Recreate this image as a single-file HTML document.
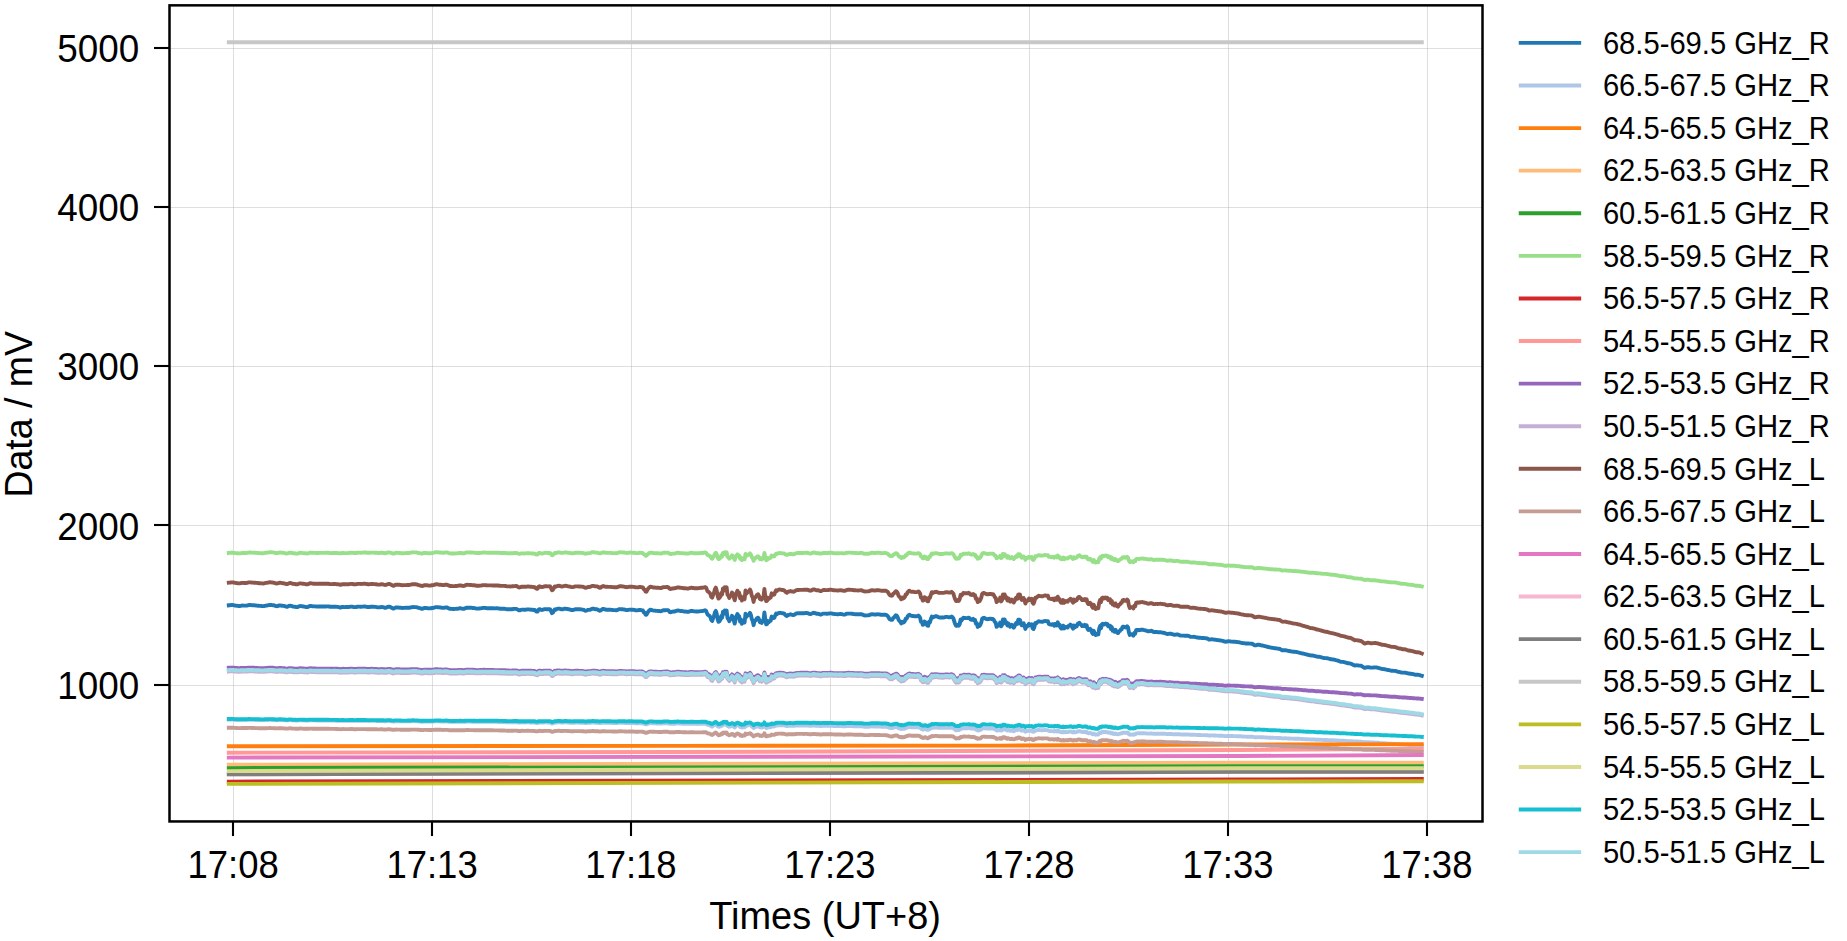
<!DOCTYPE html>
<html lang="en"><head><meta charset="utf-8"><title>Data / mV vs Times (UT+8)</title>
<style>html,body{margin:0;padding:0;background:#fff}body{width:1847px;height:941px;overflow:hidden}svg{display:block}text{font-family:"Liberation Sans",sans-serif;fill:#000}.t{font-size:38.20px}.l{font-size:31.50px}.d{fill:none;stroke-width:3.90;stroke-linejoin:round;stroke-linecap:square}</style></head><body>
<svg width="1847" height="941" viewBox="0 0 1847 941">
<rect width="1847" height="941" fill="#fff"/>
<g stroke="#b0b0b0" stroke-opacity="0.42" stroke-width="1.05" fill="none">
<line x1="233.50" y1="5.35" x2="233.50" y2="821.45"/>
<line x1="432.50" y1="5.35" x2="432.50" y2="821.45"/>
<line x1="631.50" y1="5.35" x2="631.50" y2="821.45"/>
<line x1="830.50" y1="5.35" x2="830.50" y2="821.45"/>
<line x1="1029.50" y1="5.35" x2="1029.50" y2="821.45"/>
<line x1="1228.50" y1="5.35" x2="1228.50" y2="821.45"/>
<line x1="1427.50" y1="5.35" x2="1427.50" y2="821.45"/>
<line x1="169.50" y1="685.50" x2="1482.50" y2="685.50"/>
<line x1="169.50" y1="525.50" x2="1482.50" y2="525.50"/>
<line x1="169.50" y1="366.50" x2="1482.50" y2="366.50"/>
<line x1="169.50" y1="207.50" x2="1482.50" y2="207.50"/>
<line x1="169.50" y1="48.50" x2="1482.50" y2="48.50"/>
</g>
<g class="d">
<path stroke="#1f77b4" d="M228.8,605.3 229.8,605.2 230.7,605.1 231.6,604.9 232.5,605.0 233.4,605.1 234.3,605.3 235.2,605.5 236.1,605.6 237.0,605.8 237.9,605.9 238.8,606.0 239.7,606.0 240.6,605.8 241.5,605.6 242.4,605.5 243.3,605.6 244.2,605.6 245.1,605.6 246.0,605.6 246.9,605.5 247.8,605.3 248.7,605.0 249.6,605.0 250.5,605.0 251.4,605.1 252.3,605.2 253.2,605.2 254.1,605.3 255.0,605.4 255.9,605.5 256.8,605.6 257.7,605.7 258.6,605.8 259.5,605.9 260.4,605.9 261.3,606.0 262.2,606.1 263.1,606.1 264.0,606.0 264.9,605.8 265.8,605.6 266.7,605.5 267.6,605.3 268.5,605.1 269.4,605.0 270.3,604.9 271.2,605.0 272.1,605.1 273.0,605.2 273.9,605.3 274.8,605.7 275.7,606.0 276.6,606.2 277.5,606.1 278.4,605.7 279.3,605.4 280.2,605.4 281.1,605.6 282.0,605.7 282.9,605.9 283.8,605.9 284.7,606.2 285.6,606.5 286.5,606.7 287.4,606.7 288.3,606.3 289.2,605.8 290.1,605.6 291.0,605.8 291.9,606.1 292.8,606.5 293.7,606.6 294.6,606.7 295.5,606.9 296.4,607.1 297.3,607.1 298.2,606.7 299.1,606.3 300.0,606.0 300.9,606.1 301.8,606.2 302.7,606.4 303.6,606.5 304.5,606.6 305.4,606.8 306.3,607.0 307.2,607.1 308.1,606.8 309.0,606.4 309.9,606.0 310.8,605.9 311.7,606.1 312.6,606.3 313.5,606.4 314.4,606.4 315.3,606.4 316.2,606.5 317.1,606.6 318.0,606.5 318.9,606.5 319.8,606.5 320.7,606.5 321.6,606.5 322.5,606.5 323.4,606.5 324.3,606.5 325.2,606.5 326.1,606.5 327.0,606.4 327.9,606.4 328.8,606.5 329.7,606.7 330.6,606.8 331.5,606.8 332.4,606.8 333.3,606.7 334.2,606.7 335.1,606.7 336.0,606.8 336.9,606.9 337.8,606.9 338.7,607.1 339.6,607.3 340.5,607.6 341.4,607.2 342.3,607.0 343.2,606.9 344.1,607.1 345.0,607.1 345.9,607.0 346.8,607.0 347.7,607.0 348.6,607.0 349.5,606.8 350.4,606.6 351.3,606.6 352.2,606.7 353.1,606.9 354.0,607.1 354.9,607.1 355.8,607.0 356.7,606.8 357.6,606.7 358.5,606.6 359.4,606.6 360.3,606.7 361.2,606.7 362.1,606.6 363.0,606.6 363.9,606.5 364.8,606.5 365.7,606.6 366.6,606.8 367.5,607.0 368.4,607.0 369.3,607.0 370.2,606.8 371.1,606.7 372.0,606.7 372.9,606.7 373.8,606.8 374.7,606.9 375.6,606.9 376.5,607.1 377.4,607.3 378.3,607.4 379.2,607.4 380.1,607.2 381.0,607.1 381.9,607.0 382.8,607.2 383.7,607.4 384.6,607.7 385.5,607.8 386.4,607.5 387.3,607.1 388.2,606.7 389.1,606.7 390.0,606.9 390.9,607.3 391.8,607.9 392.7,608.3 393.6,608.6 394.5,608.1 395.4,607.6 396.3,607.4 397.2,607.5 398.1,607.5 399.0,607.6 399.9,607.7 400.8,607.8 401.7,607.9 402.6,608.0 403.5,607.9 404.4,607.9 405.3,607.8 406.2,607.9 407.1,607.8 408.0,607.8 408.9,607.7 409.8,607.7 410.7,607.5 411.6,607.2 412.5,607.1 413.4,607.0 414.3,607.1 415.2,607.1 416.1,607.1 417.0,607.3 417.9,607.6 418.8,607.9 419.7,608.1 420.6,608.4 421.5,608.7 422.4,608.8 423.3,608.4 424.2,608.0 425.1,608.0 426.0,608.0 426.9,608.1 427.8,608.2 428.7,608.4 429.6,608.4 430.5,608.3 431.4,608.2 432.3,608.0 433.2,608.0 434.1,607.7 435.0,607.3 435.9,607.1 436.8,607.1 437.7,607.2 438.6,607.3 439.5,607.4 440.4,607.5 441.3,607.6 442.2,607.8 443.1,607.9 444.0,607.8 444.9,607.6 445.8,607.4 446.7,607.4 447.6,607.8 448.5,608.3 449.4,608.7 450.3,608.8 451.2,608.9 452.1,608.9 453.0,609.0 453.9,609.0 454.8,608.9 455.7,608.9 456.6,608.8 457.5,608.8 458.4,608.6 459.3,608.3 460.2,608.3 461.1,608.4 462.0,608.6 462.9,608.8 463.8,608.8 464.7,608.5 465.6,608.1 466.5,607.7 467.4,607.6 468.3,607.7 469.2,607.7 470.1,607.8 471.0,607.8 471.9,607.9 472.8,608.0 473.7,608.0 474.6,608.1 475.5,608.3 476.4,608.5 477.3,608.6 478.2,608.6 479.1,608.5 480.0,608.4 480.9,608.4 481.8,608.2 482.7,608.0 483.6,607.9 484.5,607.9 485.4,608.0 486.3,608.1 487.2,608.2 488.1,608.2 489.0,608.2 489.9,608.2 490.8,608.2 491.7,608.2 492.6,608.3 493.5,608.3 494.4,608.4 495.3,608.4 496.2,608.3 497.1,608.3 498.0,608.4 498.9,608.5 499.8,608.7 500.7,608.8 501.6,608.8 502.5,608.8 503.4,608.8 504.3,608.8 505.2,608.9 506.1,609.1 507.0,609.2 507.9,609.3 508.8,609.3 509.7,609.3 510.6,609.3 511.5,609.3 512.4,609.2 513.3,609.0 514.2,608.9 515.1,608.9 516.0,608.9 516.9,609.1 517.8,609.6 518.7,610.3 519.6,610.4 520.5,610.1 521.4,609.6 522.3,609.6 523.2,609.6 524.1,609.7 525.0,609.7 525.9,609.6 526.8,609.5 527.7,609.4 528.6,609.4 529.5,609.5 530.4,609.6 531.3,609.7 532.2,609.7 533.1,609.8 534.0,610.1 534.9,610.0 535.8,611.2 536.7,611.6 537.6,611.5 538.5,609.8 539.4,609.1 540.3,609.4 541.2,609.9 542.1,610.0 543.0,609.7 543.9,609.4 544.8,609.1 545.7,609.1 546.6,609.2 547.5,609.2 548.4,609.2 549.3,609.2 550.2,609.4 551.1,611.2 552.0,613.1 552.9,612.6 553.8,611.0 554.7,609.4 555.6,609.7 556.5,609.2 557.4,608.8 558.3,608.6 559.2,608.6 560.1,608.8 561.0,609.2 561.9,609.3 562.8,609.3 563.7,609.0 564.6,608.7 565.5,608.6 566.4,608.8 567.3,609.0 568.2,609.2 569.1,609.3 570.0,609.5 570.9,609.8 571.8,610.0 572.7,610.0 573.6,609.8 574.5,609.5 575.4,609.3 576.3,609.2 577.2,609.2 578.1,609.3 579.0,609.3 579.9,609.3 580.8,609.4 581.7,609.5 582.6,609.6 583.5,609.8 584.4,610.3 585.3,610.7 586.2,610.6 587.1,610.3 588.0,609.9 588.9,609.9 589.8,609.8 590.7,609.5 591.6,609.0 592.5,608.7 593.4,608.7 594.3,608.9 595.2,609.2 596.1,609.2 597.0,609.3 597.9,609.7 598.8,610.2 599.7,610.7 600.6,610.5 601.5,609.8 602.4,609.2 603.3,608.9 604.2,609.1 605.1,609.5 606.0,609.7 606.9,609.7 607.8,609.7 608.7,609.8 609.6,609.8 610.5,609.8 611.4,609.9 612.3,610.0 613.2,610.1 614.1,610.1 615.0,610.1 615.9,610.2 616.8,610.2 617.7,609.9 618.6,609.4 619.5,609.1 620.4,609.1 621.3,609.2 622.2,609.3 623.1,609.4 624.0,609.5 624.9,609.7 625.8,610.0 626.7,610.1 627.6,610.0 628.5,609.8 629.4,609.6 630.3,609.6 631.2,609.7 632.1,609.8 633.0,609.8 633.9,609.9 634.8,610.0 635.7,610.3 636.6,610.4 637.5,610.4 638.4,610.2 639.3,610.0 640.2,609.9 641.1,610.1 642.0,610.3 642.9,610.5 643.8,612.3 644.7,612.8 645.6,614.7 646.5,614.7 647.4,612.8 648.3,611.6 649.2,610.5 650.1,609.8 651.0,609.8 651.9,610.1 652.8,610.4 653.7,610.6 654.6,610.6 655.5,610.7 656.4,610.9 657.3,610.9 658.2,611.0 659.1,611.0 660.0,611.1 660.9,611.2 661.8,610.9 662.7,610.5 663.6,610.2 664.5,610.2 665.4,610.2 666.3,610.1 667.2,610.1 668.1,610.2 669.0,611.1 669.9,612.1 670.8,612.2 671.7,611.9 672.6,611.6 673.5,611.5 674.4,611.5 675.3,611.3 676.2,610.9 677.1,610.6 678.0,610.5 678.9,610.7 679.8,610.9 680.7,611.0 681.6,611.0 682.5,611.2 683.4,611.4 684.3,611.5 685.2,611.5 686.1,611.6 687.0,611.7 687.9,611.8 688.8,611.7 689.7,611.3 690.6,611.0 691.5,610.8 692.4,611.0 693.3,611.2 694.2,611.4 695.1,611.4 696.0,611.5 696.9,611.5 697.8,611.5 698.7,611.4 699.6,611.3 700.5,611.1 701.4,611.1 702.3,611.0 703.2,610.9 704.1,610.7 705.0,610.3 705.9,610.6 706.8,612.7 707.7,614.8 708.6,615.2 709.5,615.9 710.4,617.2 711.3,620.0 712.2,621.0 713.1,618.1 714.0,616.0 714.9,612.5 715.8,610.9 716.7,613.7 717.6,619.1 718.5,621.8 719.4,621.3 720.3,620.0 721.2,616.1 722.1,617.8 723.0,611.6 723.9,612.7 724.8,610.5 725.7,613.8 726.6,610.6 727.5,618.1 728.4,619.1 729.3,621.1 730.2,619.4 731.1,618.7 732.0,615.8 732.9,617.0 733.8,620.5 734.7,623.6 735.6,619.6 736.5,616.2 737.4,614.0 738.3,615.5 739.2,616.2 740.1,621.6 741.0,619.5 741.9,623.8 742.8,622.4 743.7,621.2 744.6,622.4 745.5,613.7 746.4,616.9 747.3,615.6 748.2,615.1 749.1,614.3 750.0,612.8 750.9,614.9 751.8,619.1 752.7,620.9 753.6,625.2 754.5,621.0 755.4,620.8 756.3,619.2 757.2,618.0 758.1,617.7 759.0,619.3 759.9,622.3 760.8,621.1 761.7,622.9 762.6,621.1 763.5,620.0 764.4,612.4 765.3,619.2 766.2,624.4 767.1,624.0 768.0,621.1 768.9,622.1 769.8,621.2 770.7,620.8 771.6,616.6 772.5,618.0 773.4,618.1 774.3,617.9 775.2,615.3 776.1,613.6 777.0,614.3 777.9,613.3 778.8,613.0 779.7,612.8 780.6,612.9 781.5,613.1 782.4,613.3 783.3,613.3 784.2,613.6 785.1,614.7 786.0,615.5 786.9,616.0 787.8,615.3 788.7,614.8 789.6,614.6 790.5,614.3 791.4,614.6 792.3,614.8 793.2,615.0 794.1,614.9 795.0,614.3 795.9,613.7 796.8,613.4 797.7,613.3 798.6,613.3 799.5,613.2 800.4,613.2 801.3,613.2 802.2,613.2 803.1,613.2 804.0,613.2 804.9,613.1 805.8,613.0 806.7,613.0 807.6,613.1 808.5,613.5 809.4,613.9 810.3,614.1 811.2,613.9 812.1,613.4 813.0,612.9 813.9,612.8 814.8,613.0 815.7,613.4 816.6,613.8 817.5,613.8 818.4,613.8 819.3,614.1 820.2,614.5 821.1,614.6 822.0,614.1 822.9,613.6 823.8,613.6 824.7,613.6 825.6,613.6 826.5,613.7 827.4,613.7 828.3,613.6 829.2,613.5 830.1,613.4 831.0,613.4 831.9,613.5 832.8,613.8 833.7,613.9 834.6,614.0 835.5,614.1 836.4,614.1 837.3,614.2 838.2,614.2 839.1,614.1 840.0,614.0 840.9,614.0 841.8,614.1 842.7,614.4 843.6,614.6 844.5,614.6 845.4,614.3 846.3,613.9 847.2,613.6 848.1,613.6 849.0,613.6 849.9,613.6 850.8,613.6 851.7,613.7 852.6,613.8 853.5,614.0 854.4,614.1 855.3,614.2 856.2,614.2 857.1,614.3 858.0,614.4 858.9,614.3 859.8,614.3 860.7,614.2 861.6,614.2 862.5,614.6 863.4,615.0 864.3,615.4 865.2,615.5 866.1,615.4 867.0,615.4 867.9,615.4 868.8,615.3 869.7,614.9 870.6,614.5 871.5,614.3 872.4,614.3 873.3,614.4 874.2,614.5 875.1,614.5 876.0,614.5 876.9,614.4 877.8,614.3 878.7,614.4 879.6,614.5 880.5,614.7 881.4,614.8 882.3,614.9 883.2,614.8 884.1,614.8 885.0,614.8 885.9,614.9 886.8,615.3 887.7,616.0 888.6,617.4 889.5,619.1 890.4,619.6 891.3,619.8 892.2,619.8 893.1,618.0 894.0,617.6 894.9,616.3 895.8,615.3 896.7,615.6 897.6,617.0 898.5,619.7 899.4,621.0 900.3,621.6 901.2,623.4 902.1,621.7 903.0,622.6 903.9,622.2 904.8,621.2 905.7,618.7 906.6,618.7 907.5,616.7 908.4,615.4 909.3,614.8 910.2,615.3 911.1,615.7 912.0,616.0 912.9,616.0 913.8,616.1 914.7,616.3 915.6,616.3 916.5,616.3 917.4,616.1 918.3,615.6 919.2,616.3 920.1,617.7 921.0,621.7 921.9,622.0 922.8,624.8 923.7,624.5 924.6,621.5 925.5,622.2 926.4,624.1 927.3,625.6 928.2,625.7 929.1,621.8 930.0,622.2 930.9,619.0 931.8,616.6 932.7,617.5 933.6,617.0 934.5,616.6 935.4,616.3 936.3,616.2 937.2,616.5 938.1,617.0 939.0,617.4 939.9,617.5 940.8,617.5 941.7,617.5 942.6,617.5 943.5,617.5 944.4,617.3 945.3,617.0 946.2,616.9 947.1,616.9 948.0,617.1 948.9,617.2 949.8,617.2 950.7,617.1 951.6,616.5 952.5,617.3 953.4,618.4 954.3,621.5 955.2,624.1 956.1,625.7 957.0,625.7 957.9,624.8 958.8,625.7 959.7,624.0 960.6,619.5 961.5,620.5 962.4,619.2 963.3,617.8 964.2,617.9 965.1,618.0 966.0,618.1 966.9,618.1 967.8,618.0 968.7,617.6 969.6,618.1 970.5,619.4 971.4,619.8 972.3,619.7 973.2,618.8 974.1,620.2 975.0,620.0 975.9,623.5 976.8,623.2 977.7,626.9 978.6,625.2 979.5,626.0 980.4,624.6 981.3,622.4 982.2,618.6 983.1,618.0 984.0,617.8 984.9,618.2 985.8,618.7 986.7,619.1 987.6,619.2 988.5,619.0 989.4,618.8 990.3,618.8 991.2,618.8 992.1,619.1 993.0,619.0 993.9,620.0 994.8,622.0 995.7,622.6 996.6,626.8 997.5,625.6 998.4,625.5 999.3,625.0 1000.2,622.5 1001.1,626.3 1002.0,625.1 1002.9,619.5 1003.8,619.6 1004.7,619.5 1005.6,623.2 1006.5,622.3 1007.4,625.6 1008.3,623.4 1009.2,624.5 1010.1,626.7 1011.0,626.3 1011.9,624.8 1012.8,626.2 1013.7,627.7 1014.6,626.2 1015.5,623.9 1016.4,622.7 1017.3,624.0 1018.2,619.8 1019.1,619.7 1020.0,620.0 1020.9,624.0 1021.8,625.3 1022.7,623.7 1023.6,623.3 1024.5,625.5 1025.4,628.9 1026.3,626.0 1027.2,626.4 1028.1,625.3 1029.0,623.8 1029.9,625.3 1030.8,625.0 1031.7,624.2 1032.6,628.3 1033.5,629.0 1034.4,626.9 1035.3,623.0 1036.2,623.4 1037.1,622.4 1038.0,621.6 1038.9,621.1 1039.8,621.6 1040.7,621.6 1041.6,621.8 1042.5,621.8 1043.4,621.5 1044.3,621.1 1045.2,621.0 1046.1,621.1 1047.0,621.2 1047.9,621.2 1048.8,624.0 1049.7,624.3 1050.6,624.5 1051.5,624.7 1052.4,624.3 1053.3,624.3 1054.2,625.8 1055.1,624.0 1056.0,623.9 1056.9,625.4 1057.8,622.3 1058.7,625.5 1059.6,624.8 1060.5,627.7 1061.4,628.6 1062.3,628.3 1063.2,625.7 1064.1,628.5 1065.0,627.8 1065.9,626.9 1066.8,627.3 1067.7,627.5 1068.6,625.9 1069.5,625.7 1070.4,624.6 1071.3,625.1 1072.2,627.3 1073.1,628.6 1074.0,625.5 1074.9,627.2 1075.8,626.6 1076.7,626.3 1077.6,624.0 1078.5,623.2 1079.4,622.8 1080.3,624.1 1081.2,624.8 1082.1,626.0 1083.0,625.5 1083.9,625.9 1084.8,624.9 1085.7,626.2 1086.6,625.2 1087.5,628.8 1088.4,630.0 1089.3,629.7 1090.2,628.8 1091.1,630.1 1092.0,632.5 1092.9,633.9 1093.8,630.8 1094.7,633.4 1095.6,635.0 1096.5,634.1 1097.4,634.5 1098.3,634.4 1099.2,628.7 1100.1,626.1 1101.0,628.2 1101.9,624.3 1102.8,623.7 1103.7,624.6 1104.6,624.1 1105.5,623.5 1106.4,624.5 1107.3,624.0 1108.2,626.2 1109.1,625.6 1110.0,625.6 1110.9,629.0 1111.8,627.1 1112.7,630.7 1113.6,629.7 1114.5,631.7 1115.4,629.7 1116.3,631.4 1117.2,632.7 1118.1,633.1 1119.0,631.4 1119.9,631.0 1120.8,629.6 1121.7,629.2 1122.6,626.9 1123.5,626.6 1124.4,626.8 1125.3,627.5 1126.2,627.2 1127.1,626.2 1128.0,627.4 1128.9,632.4 1129.8,635.0 1130.7,634.0 1131.6,634.5 1132.5,634.3 1133.4,635.6 1134.3,633.0 1135.2,633.6 1136.1,630.2 1137.0,629.9 1137.9,629.9 1138.8,630.2 1139.7,630.1 1140.6,629.7 1141.5,629.7 1142.4,629.6 1143.3,629.9 1144.2,630.1 1145.1,630.4 1146.0,630.5 1146.9,630.9 1147.8,631.2 1148.7,631.3 1149.6,631.1 1150.5,630.9 1151.4,630.8 1152.3,631.3 1153.2,631.8 1154.1,632.0 1155.0,632.0 1155.9,632.0 1156.8,632.0 1157.7,632.2 1158.6,632.2 1159.5,632.2 1160.4,632.3 1161.3,632.4 1162.2,632.6 1163.1,632.7 1164.0,632.8 1164.9,633.1 1165.8,633.5 1166.7,633.8 1167.6,634.0 1168.5,633.9 1169.4,633.7 1170.3,633.6 1171.2,633.7 1172.1,634.1 1173.0,634.4 1173.9,634.7 1174.8,634.7 1175.7,634.6 1176.6,634.5 1177.5,634.5 1178.4,634.7 1179.3,635.1 1180.2,635.5 1181.1,635.6 1182.0,635.6 1182.9,635.6 1183.8,635.6 1184.7,635.7 1185.6,635.7 1186.5,635.7 1187.4,635.7 1188.3,635.9 1189.2,636.2 1190.1,636.6 1191.0,636.9 1191.9,636.9 1192.8,636.9 1193.7,636.8 1194.6,636.9 1195.5,637.1 1196.4,637.3 1197.3,637.5 1198.2,637.7 1199.1,637.7 1200.0,637.8 1200.9,637.9 1201.8,638.0 1202.7,638.0 1203.6,638.0 1204.5,638.1 1205.4,638.2 1206.3,638.3 1207.2,638.5 1208.1,639.0 1209.0,639.6 1209.9,639.5 1210.8,639.4 1211.7,639.3 1212.6,639.4 1213.5,639.5 1214.4,639.6 1215.3,639.7 1216.2,639.9 1217.1,640.0 1218.0,640.1 1218.9,640.2 1219.8,640.4 1220.7,640.5 1221.6,640.6 1222.5,640.8 1223.4,641.1 1224.3,641.5 1225.2,641.7 1226.1,641.7 1227.0,641.5 1227.9,641.3 1228.8,641.3 1229.7,641.4 1230.6,641.5 1231.5,641.6 1232.4,641.6 1233.3,641.7 1234.2,641.7 1235.1,641.8 1236.0,641.9 1236.9,642.0 1237.8,642.1 1238.7,642.2 1239.6,642.4 1240.5,642.6 1241.4,642.8 1242.3,643.0 1243.2,643.1 1244.1,643.2 1245.0,643.4 1245.9,643.5 1246.8,643.5 1247.7,643.5 1248.6,643.5 1249.5,643.6 1250.4,643.6 1251.3,643.7 1252.2,643.8 1253.1,644.3 1254.0,645.0 1254.9,645.4 1255.8,645.3 1256.7,645.0 1257.6,644.8 1258.5,644.7 1259.4,644.8 1260.3,645.0 1261.2,645.3 1262.1,645.5 1263.0,645.7 1263.9,645.9 1264.8,646.1 1265.7,646.3 1266.6,646.5 1267.5,646.8 1268.4,647.0 1269.3,647.3 1270.2,647.4 1271.1,647.6 1272.0,647.8 1272.9,647.9 1273.8,648.1 1274.7,648.2 1275.6,648.3 1276.5,648.4 1277.4,648.6 1278.3,648.7 1279.2,648.8 1280.1,649.0 1281.0,649.6 1281.9,650.2 1282.8,650.3 1283.7,650.3 1284.6,650.2 1285.5,650.3 1286.4,650.4 1287.3,650.6 1288.2,650.8 1289.1,651.0 1290.0,651.2 1290.9,651.3 1291.8,651.5 1292.7,651.6 1293.6,651.8 1294.5,651.8 1295.4,651.9 1296.3,652.0 1297.2,652.2 1298.1,652.4 1299.0,652.7 1299.9,652.9 1300.8,653.1 1301.7,653.3 1302.6,653.5 1303.5,653.7 1304.4,653.9 1305.3,654.1 1306.2,654.3 1307.1,654.5 1308.0,654.8 1308.9,655.0 1309.8,655.3 1310.7,655.4 1311.6,655.5 1312.5,655.5 1313.4,655.6 1314.3,655.8 1315.2,656.1 1316.1,656.3 1317.0,656.6 1317.9,656.7 1318.8,656.8 1319.7,656.9 1320.6,657.1 1321.5,657.3 1322.4,657.6 1323.3,657.8 1324.2,658.0 1325.1,658.1 1326.0,658.1 1326.9,658.2 1327.8,658.4 1328.7,658.7 1329.6,658.9 1330.5,659.2 1331.4,659.3 1332.3,659.4 1333.2,659.5 1334.1,659.7 1335.0,659.9 1335.9,660.2 1336.8,660.4 1337.7,660.6 1338.6,660.9 1339.5,661.3 1340.4,661.6 1341.3,661.8 1342.2,661.9 1343.1,661.9 1344.0,662.1 1344.9,662.3 1345.8,662.6 1346.7,662.9 1347.6,663.2 1348.5,663.3 1349.4,663.4 1350.3,663.5 1351.2,663.8 1352.1,664.2 1353.0,664.7 1353.9,665.1 1354.8,665.5 1355.7,665.4 1356.6,665.3 1357.5,665.4 1358.4,665.5 1359.3,665.6 1360.2,665.6 1361.1,665.7 1362.0,666.3 1362.9,666.9 1363.8,667.5 1364.7,667.9 1365.6,667.7 1366.5,667.4 1367.4,667.2 1368.3,667.2 1369.2,667.3 1370.1,667.5 1371.0,667.6 1371.9,667.6 1372.8,667.6 1373.7,667.5 1374.6,667.4 1375.5,667.4 1376.4,667.5 1377.3,667.7 1378.2,667.9 1379.1,668.1 1380.0,668.4 1380.9,668.7 1381.8,668.9 1382.7,669.0 1383.6,669.1 1384.5,669.2 1385.4,669.4 1386.3,669.6 1387.2,669.8 1388.1,670.0 1389.0,670.2 1389.9,670.4 1390.8,670.6 1391.7,670.8 1392.6,670.8 1393.5,670.9 1394.4,670.9 1395.3,670.9 1396.2,671.2 1397.1,671.5 1398.0,671.8 1398.9,671.9 1399.8,672.1 1400.7,672.3 1401.6,672.5 1402.5,672.6 1403.4,672.6 1404.3,672.6 1405.2,672.7 1406.1,672.9 1407.0,673.1 1407.9,673.4 1408.8,673.5 1409.7,673.7 1410.6,673.8 1411.5,673.8 1412.4,674.0 1413.3,674.2 1414.2,674.5 1415.1,674.7 1416.0,674.8 1416.9,674.8 1417.8,674.8 1418.7,674.9 1419.6,675.1 1420.5,675.4 1421.8,675.8"/>
<path stroke="#aec7e8" d="M228.8,719.6 229.8,719.6 230.7,719.6 231.6,719.5 232.5,719.6 233.4,719.6 234.3,719.7 235.2,719.7 236.1,719.8 237.0,719.8 237.9,719.9 238.8,719.9 239.7,719.9 240.6,719.9 241.5,719.8 242.4,719.8 243.3,719.8 244.2,719.8 245.1,719.8 246.0,719.8 246.9,719.8 247.8,719.7 248.7,719.7 249.6,719.7 250.5,719.7 251.4,719.7 252.3,719.7 253.2,719.7 254.1,719.8 255.0,719.8 255.9,719.9 256.8,719.9 257.7,719.9 258.6,719.9 259.5,720.0 260.4,720.0 261.3,720.0 262.2,720.1 263.1,720.1 264.0,720.0 264.9,720.0 265.8,719.9 266.7,719.9 267.6,719.9 268.5,719.8 269.4,719.7 270.3,719.7 271.2,719.8 272.1,719.8 273.0,719.8 273.9,719.9 274.8,720.0 275.7,720.1 276.6,720.2 277.5,720.1 278.4,720.0 279.3,719.9 280.2,719.9 281.1,720.0 282.0,720.1 282.9,720.1 283.8,720.1 284.7,720.2 285.6,720.3 286.5,720.4 287.4,720.4 288.3,720.2 289.2,720.1 290.1,720.1 291.0,720.1 291.9,720.2 292.8,720.3 293.7,720.4 294.6,720.4 295.5,720.5 296.4,720.5 297.3,720.5 298.2,720.4 299.1,720.3 300.0,720.2 300.9,720.3 301.8,720.3 302.7,720.4 303.6,720.4 304.5,720.4 305.4,720.5 306.3,720.6 307.2,720.6 308.1,720.5 309.0,720.4 309.9,720.3 310.8,720.3 311.7,720.3 312.6,720.4 313.5,720.4 314.4,720.4 315.3,720.4 316.2,720.5 317.1,720.5 318.0,720.5 318.9,720.5 319.8,720.5 320.7,720.5 321.6,720.5 322.5,720.5 323.4,720.5 324.3,720.5 325.2,720.5 326.1,720.5 327.0,720.5 327.9,720.5 328.8,720.5 329.7,720.6 330.6,720.6 331.5,720.6 332.4,720.6 333.3,720.6 334.2,720.6 335.1,720.6 336.0,720.7 336.9,720.7 337.8,720.7 338.7,720.7 339.6,720.8 340.5,720.9 341.4,720.8 342.3,720.7 343.2,720.7 344.1,720.8 345.0,720.8 345.9,720.8 346.8,720.8 347.7,720.8 348.6,720.8 349.5,720.7 350.4,720.7 351.3,720.7 352.2,720.7 353.1,720.8 354.0,720.8 354.9,720.9 355.8,720.8 356.7,720.8 357.6,720.7 358.5,720.7 359.4,720.7 360.3,720.7 361.2,720.8 362.1,720.7 363.0,720.7 363.9,720.7 364.8,720.7 365.7,720.7 366.6,720.8 367.5,720.9 368.4,720.9 369.3,720.9 370.2,720.8 371.1,720.8 372.0,720.8 372.9,720.8 373.8,720.9 374.7,720.9 375.6,720.9 376.5,721.0 377.4,721.0 378.3,721.1 379.2,721.1 380.1,721.0 381.0,721.0 381.9,721.0 382.8,721.0 383.7,721.1 384.6,721.2 385.5,721.2 386.4,721.1 387.3,721.0 388.2,720.9 389.1,720.9 390.0,721.0 390.9,721.1 391.8,721.3 392.7,721.4 393.6,721.5 394.5,721.3 395.4,721.2 396.3,721.2 397.2,721.2 398.1,721.2 399.0,721.2 399.9,721.3 400.8,721.3 401.7,721.3 402.6,721.4 403.5,721.4 404.4,721.3 405.3,721.3 406.2,721.3 407.1,721.3 408.0,721.3 408.9,721.3 409.8,721.3 410.7,721.2 411.6,721.2 412.5,721.1 413.4,721.1 414.3,721.1 415.2,721.2 416.1,721.2 417.0,721.2 417.9,721.3 418.8,721.4 419.7,721.5 420.6,721.6 421.5,721.7 422.4,721.7 423.3,721.6 424.2,721.5 425.1,721.5 426.0,721.5 426.9,721.5 427.8,721.6 428.7,721.6 429.6,721.6 430.5,721.6 431.4,721.6 432.3,721.5 433.2,721.5 434.1,721.4 435.0,721.3 435.9,721.3 436.8,721.3 437.7,721.3 438.6,721.4 439.5,721.4 440.4,721.4 441.3,721.5 442.2,721.5 443.1,721.5 444.0,721.5 444.9,721.5 445.8,721.4 446.7,721.4 447.6,721.5 448.5,721.7 449.4,721.8 450.3,721.9 451.2,721.9 452.1,721.9 453.0,721.9 453.9,721.9 454.8,721.9 455.7,721.9 456.6,721.9 457.5,721.9 458.4,721.8 459.3,721.8 460.2,721.7 461.1,721.8 462.0,721.8 462.9,721.9 463.8,721.9 464.7,721.8 465.6,721.7 466.5,721.6 467.4,721.6 468.3,721.6 469.2,721.6 470.1,721.6 471.0,721.6 471.9,721.7 472.8,721.7 473.7,721.7 474.6,721.8 475.5,721.8 476.4,721.9 477.3,721.9 478.2,721.9 479.1,721.9 480.0,721.9 480.9,721.9 481.8,721.8 482.7,721.8 483.6,721.7 484.5,721.8 485.4,721.8 486.3,721.8 487.2,721.9 488.1,721.9 489.0,721.9 489.9,721.9 490.8,721.9 491.7,721.9 492.6,721.9 493.5,721.9 494.4,721.9 495.3,721.9 496.2,721.9 497.1,721.9 498.0,722.0 498.9,722.0 499.8,722.1 500.7,722.1 501.6,722.1 502.5,722.1 503.4,722.1 504.3,722.1 505.2,722.1 506.1,722.2 507.0,722.3 507.9,722.3 508.8,722.3 509.7,722.3 510.6,722.3 511.5,722.3 512.4,722.3 513.3,722.2 514.2,722.2 515.1,722.2 516.0,722.2 516.9,722.2 517.8,722.4 518.7,722.6 519.6,722.6 520.5,722.5 521.4,722.4 522.3,722.4 523.2,722.4 524.1,722.5 525.0,722.5 525.9,722.4 526.8,722.4 527.7,722.4 528.6,722.4 529.5,722.4 530.4,722.5 531.3,722.5 532.2,722.5 533.1,722.6 534.0,722.6 534.9,722.6 535.8,722.9 536.7,723.0 537.6,723.0 538.5,722.5 539.4,722.4 540.3,722.5 541.2,722.6 542.1,722.6 543.0,722.6 543.9,722.5 544.8,722.4 545.7,722.4 546.6,722.4 547.5,722.5 548.4,722.5 549.3,722.5 550.2,722.5 551.1,723.0 552.0,723.5 552.9,723.4 553.8,723.0 554.7,722.5 555.6,722.6 556.5,722.5 557.4,722.4 558.3,722.3 559.2,722.3 560.1,722.4 561.0,722.5 561.9,722.6 562.8,722.5 563.7,722.5 564.6,722.4 565.5,722.4 566.4,722.4 567.3,722.5 568.2,722.6 569.1,722.6 570.0,722.7 570.9,722.7 571.8,722.8 572.7,722.8 573.6,722.8 574.5,722.7 575.4,722.6 576.3,722.6 577.2,722.6 578.1,722.6 579.0,722.6 579.9,722.7 580.8,722.7 581.7,722.7 582.6,722.7 583.5,722.8 584.4,722.9 585.3,723.1 586.2,723.0 587.1,723.0 588.0,722.9 588.9,722.9 589.8,722.8 590.7,722.7 591.6,722.6 592.5,722.5 593.4,722.5 594.3,722.6 595.2,722.7 596.1,722.7 597.0,722.7 597.9,722.8 598.8,723.0 599.7,723.1 600.6,723.0 601.5,722.9 602.4,722.7 603.3,722.6 604.2,722.7 605.1,722.8 606.0,722.9 606.9,722.9 607.8,722.9 608.7,722.9 609.6,722.9 610.5,722.9 611.4,723.0 612.3,723.0 613.2,723.0 614.1,723.0 615.0,723.1 615.9,723.1 616.8,723.1 617.7,723.0 618.6,722.9 619.5,722.8 620.4,722.8 621.3,722.8 622.2,722.8 623.1,722.9 624.0,722.9 624.9,723.0 625.8,723.1 626.7,723.1 627.6,723.1 628.5,723.0 629.4,723.0 630.3,723.0 631.2,723.0 632.1,723.0 633.0,723.1 633.9,723.1 634.8,723.1 635.7,723.2 636.6,723.2 637.5,723.2 638.4,723.2 639.3,723.1 640.2,723.1 641.1,723.2 642.0,723.2 642.9,723.3 643.8,723.8 644.7,723.9 645.6,724.4 646.5,724.4 647.4,723.9 648.3,723.6 649.2,723.3 650.1,723.1 651.0,723.1 651.9,723.2 652.8,723.3 653.7,723.4 654.6,723.4 655.5,723.4 656.4,723.5 657.3,723.5 658.2,723.5 659.1,723.5 660.0,723.6 660.9,723.6 661.8,723.5 662.7,723.4 663.6,723.3 664.5,723.3 665.4,723.3 666.3,723.3 667.2,723.3 668.1,723.3 669.0,723.6 669.9,723.8 670.8,723.9 671.7,723.8 672.6,723.7 673.5,723.7 674.4,723.7 675.3,723.7 676.2,723.5 677.1,723.4 678.0,723.4 678.9,723.5 679.8,723.5 680.7,723.6 681.6,723.6 682.5,723.7 683.4,723.7 684.3,723.8 685.2,723.8 686.1,723.8 687.0,723.9 687.9,723.9 688.8,723.9 689.7,723.8 690.6,723.7 691.5,723.7 692.4,723.7 693.3,723.8 694.2,723.9 695.1,723.9 696.0,723.9 696.9,723.9 697.8,724.0 698.7,723.9 699.6,723.9 700.5,723.9 701.4,723.9 702.3,723.9 703.2,723.8 704.1,723.8 705.0,723.7 705.9,723.8 706.8,724.4 707.7,724.9 708.6,725.0 709.5,725.2 710.4,725.6 711.3,726.3 712.2,726.6 713.1,725.8 714.0,725.3 714.9,724.4 715.8,724.0 716.7,724.7 717.6,726.1 718.5,726.8 719.4,726.7 720.3,726.4 721.2,725.4 722.1,725.8 723.0,724.2 723.9,724.5 724.8,724.0 725.7,724.8 726.6,724.0 727.5,726.0 728.4,726.2 729.3,726.8 730.2,726.3 731.1,726.2 732.0,725.4 732.9,725.7 733.8,726.7 734.7,727.5 735.6,726.4 736.5,725.6 737.4,725.0 738.3,725.4 739.2,725.6 740.1,727.0 741.0,726.5 741.9,727.6 742.8,727.3 743.7,727.0 744.6,727.3 745.5,725.0 746.4,725.9 747.3,725.5 748.2,725.4 749.1,725.2 750.0,724.8 750.9,725.4 751.8,726.5 752.7,727.0 753.6,728.1 754.5,727.0 755.4,727.0 756.3,726.6 757.2,726.3 758.1,726.2 759.0,726.6 759.9,727.4 760.8,727.1 761.7,727.6 762.6,727.2 763.5,726.9 764.4,724.9 765.3,726.7 766.2,728.0 767.1,727.9 768.0,727.2 768.9,727.4 769.8,727.2 770.7,727.1 771.6,726.1 772.5,726.4 773.4,726.5 774.3,726.4 775.2,725.8 776.1,725.4 777.0,725.5 777.9,725.3 778.8,725.2 779.7,725.1 780.6,725.2 781.5,725.2 782.4,725.3 783.3,725.3 784.2,725.4 785.1,725.7 786.0,725.9 786.9,726.1 787.8,725.9 788.7,725.8 789.6,725.7 790.5,725.7 791.4,725.8 792.3,725.8 793.2,725.9 794.1,725.9 795.0,725.7 795.9,725.5 796.8,725.5 797.7,725.4 798.6,725.5 799.5,725.5 800.4,725.5 801.3,725.5 802.2,725.5 803.1,725.5 804.0,725.5 804.9,725.5 805.8,725.5 806.7,725.5 807.6,725.5 808.5,725.6 809.4,725.8 810.3,725.8 811.2,725.8 812.1,725.6 813.0,725.5 813.9,725.5 814.8,725.6 815.7,725.7 816.6,725.8 817.5,725.8 818.4,725.8 819.3,725.9 820.2,726.0 821.1,726.0 822.0,725.9 822.9,725.8 823.8,725.8 824.7,725.8 825.6,725.8 826.5,725.8 827.4,725.9 828.3,725.8 829.2,725.8 830.1,725.8 831.0,725.8 831.9,725.8 832.8,725.9 833.7,726.0 834.6,726.0 835.5,726.0 836.4,726.1 837.3,726.1 838.2,726.1 839.1,726.1 840.0,726.1 840.9,726.1 841.8,726.1 842.7,726.2 843.6,726.3 844.5,726.3 845.4,726.2 846.3,726.1 847.2,726.0 848.1,726.0 849.0,726.0 849.9,726.0 850.8,726.0 851.7,726.1 852.6,726.1 853.5,726.2 854.4,726.2 855.3,726.2 856.2,726.3 857.1,726.3 858.0,726.3 858.9,726.3 859.8,726.3 860.7,726.3 861.6,726.3 862.5,726.4 863.4,726.6 864.3,726.7 865.2,726.7 866.1,726.7 867.0,726.7 867.9,726.7 868.8,726.7 869.7,726.6 870.6,726.5 871.5,726.4 872.4,726.4 873.3,726.5 874.2,726.5 875.1,726.5 876.0,726.5 876.9,726.5 877.8,726.5 878.7,726.5 879.6,726.6 880.5,726.6 881.4,726.7 882.3,726.7 883.2,726.7 884.1,726.7 885.0,726.7 885.9,726.7 886.8,726.8 887.7,727.0 888.6,727.4 889.5,727.9 890.4,728.0 891.3,728.1 892.2,728.1 893.1,727.6 894.0,727.5 894.9,727.2 895.8,726.9 896.7,727.0 897.6,727.4 898.5,728.1 899.4,728.5 900.3,728.6 901.2,729.1 902.1,728.6 903.0,728.9 903.9,728.8 904.8,728.6 905.7,727.9 906.6,727.9 907.5,727.4 908.4,727.0 909.3,726.9 910.2,727.0 911.1,727.2 912.0,727.2 912.9,727.3 913.8,727.3 914.7,727.4 915.6,727.4 916.5,727.4 917.4,727.3 918.3,727.2 919.2,727.4 920.1,727.8 921.0,728.8 921.9,728.9 922.8,729.6 923.7,729.5 924.6,728.8 925.5,729.0 926.4,729.5 927.3,729.9 928.2,729.9 929.1,728.9 930.0,729.0 930.9,728.2 931.8,727.6 932.7,727.8 933.6,727.7 934.5,727.6 935.4,727.5 936.3,727.5 937.2,727.6 938.1,727.7 939.0,727.8 939.9,727.9 940.8,727.9 941.7,727.9 942.6,727.9 943.5,727.9 944.4,727.9 945.3,727.8 946.2,727.7 947.1,727.8 948.0,727.8 948.9,727.9 949.8,727.9 950.7,727.8 951.6,727.7 952.5,727.9 953.4,728.2 954.3,729.0 955.2,729.7 956.1,730.2 957.0,730.2 957.9,729.9 958.8,730.1 959.7,729.7 960.6,728.5 961.5,728.8 962.4,728.5 963.3,728.1 964.2,728.1 965.1,728.2 966.0,728.2 966.9,728.2 967.8,728.2 968.7,728.0 969.6,728.2 970.5,728.5 971.4,728.6 972.3,728.6 973.2,728.4 974.1,728.7 975.0,728.7 975.9,729.6 976.8,729.5 977.7,730.5 978.6,730.1 979.5,730.3 980.4,729.9 981.3,729.3 982.2,728.3 983.1,728.2 984.0,728.1 984.9,728.3 985.8,728.4 986.7,728.5 987.6,728.6 988.5,728.5 989.4,728.5 990.3,728.5 991.2,728.5 992.1,728.6 993.0,728.5 993.9,728.8 994.8,729.3 995.7,729.5 996.6,730.6 997.5,730.3 998.4,730.3 999.3,730.2 1000.2,729.5 1001.1,730.5 1002.0,730.3 1002.9,728.8 1003.8,728.9 1004.7,728.9 1005.6,729.8 1006.5,729.6 1007.4,730.5 1008.3,729.9 1009.2,730.2 1010.1,730.8 1011.0,730.7 1011.9,730.3 1012.8,730.7 1013.7,731.2 1014.6,730.8 1015.5,730.2 1016.4,729.9 1017.3,730.2 1018.2,729.2 1019.1,729.2 1020.0,729.3 1020.9,730.4 1021.8,730.7 1022.7,730.3 1023.6,730.2 1024.5,730.8 1025.4,731.7 1026.3,731.0 1027.2,731.1 1028.1,730.8 1029.0,730.4 1029.9,730.8 1030.8,730.8 1031.7,730.6 1032.6,731.7 1033.5,731.9 1034.4,731.4 1035.3,730.4 1036.2,730.5 1037.1,730.2 1038.0,730.0 1038.9,729.9 1039.8,730.1 1040.7,730.1 1041.6,730.2 1042.5,730.2 1043.4,730.1 1044.3,730.0 1045.2,730.0 1046.1,730.1 1047.0,730.1 1047.9,730.2 1048.8,730.9 1049.7,731.0 1050.6,731.1 1051.5,731.1 1052.4,731.1 1053.3,731.1 1054.2,731.5 1055.1,731.0 1056.0,731.0 1056.9,731.4 1057.8,730.6 1058.7,731.5 1059.6,731.3 1060.5,732.1 1061.4,732.3 1062.3,732.2 1063.2,731.6 1064.1,732.4 1065.0,732.2 1065.9,732.0 1066.8,732.1 1067.7,732.1 1068.6,731.8 1069.5,731.7 1070.4,731.5 1071.3,731.6 1072.2,732.2 1073.1,732.5 1074.0,731.8 1074.9,732.2 1075.8,732.1 1076.7,732.0 1077.6,731.4 1078.5,731.2 1079.4,731.1 1080.3,731.5 1081.2,731.7 1082.1,732.0 1083.0,731.9 1083.9,732.1 1084.8,731.8 1085.7,732.2 1086.6,731.9 1087.5,732.9 1088.4,733.2 1089.3,733.1 1090.2,732.9 1091.1,733.3 1092.0,734.0 1092.9,734.3 1093.8,733.6 1094.7,734.3 1095.6,734.7 1096.5,734.5 1097.4,734.6 1098.3,734.6 1099.2,733.1 1100.1,732.5 1101.0,733.0 1101.9,732.0 1102.8,731.9 1103.7,732.2 1104.6,732.0 1105.5,731.9 1106.4,732.2 1107.3,732.1 1108.2,732.7 1109.1,732.5 1110.0,732.5 1110.9,733.3 1111.8,732.8 1112.7,733.7 1113.6,733.5 1114.5,734.0 1115.4,733.5 1116.3,733.9 1117.2,734.2 1118.1,734.4 1119.0,733.9 1119.9,733.8 1120.8,733.4 1121.7,733.3 1122.6,732.7 1123.5,732.6 1124.4,732.7 1125.3,732.9 1126.2,732.8 1127.1,732.5 1128.0,732.8 1128.9,734.1 1129.8,734.8 1130.7,734.5 1131.6,734.6 1132.5,734.5 1133.4,734.8 1134.3,734.2 1135.2,734.3 1136.1,733.4 1137.0,733.4 1137.9,733.3 1138.8,733.4 1139.7,733.3 1140.6,733.2 1141.5,733.2 1142.4,733.2 1143.3,733.3 1144.2,733.3 1145.1,733.4 1146.0,733.4 1146.9,733.5 1147.8,733.6 1148.7,733.6 1149.6,733.6 1150.5,733.5 1151.4,733.5 1152.3,733.6 1153.2,733.7 1154.1,733.8 1155.0,733.7 1155.9,733.7 1156.8,733.7 1157.7,733.7 1158.6,733.7 1159.5,733.7 1160.4,733.6 1161.3,733.7 1162.2,733.7 1163.1,733.7 1164.0,733.8 1164.9,733.8 1165.8,733.9 1166.7,734.0 1167.6,734.1 1168.5,734.0 1169.4,734.0 1170.3,733.9 1171.2,734.0 1172.1,734.1 1173.0,734.2 1173.9,734.2 1174.8,734.3 1175.7,734.2 1176.6,734.2 1177.5,734.2 1178.4,734.2 1179.3,734.3 1180.2,734.4 1181.1,734.5 1182.0,734.5 1182.9,734.5 1183.8,734.5 1184.7,734.5 1185.6,734.5 1186.5,734.5 1187.4,734.5 1188.3,734.5 1189.2,734.6 1190.1,734.7 1191.0,734.8 1191.9,734.8 1192.8,734.8 1193.7,734.8 1194.6,734.8 1195.5,734.9 1196.4,734.9 1197.3,735.0 1198.2,735.0 1199.1,735.0 1200.0,735.0 1200.9,735.1 1201.8,735.1 1202.7,735.1 1203.6,735.1 1204.5,735.1 1205.4,735.1 1206.3,735.2 1207.2,735.2 1208.1,735.4 1209.0,735.5 1209.9,735.5 1210.8,735.5 1211.7,735.4 1212.6,735.4 1213.5,735.5 1214.4,735.5 1215.3,735.5 1216.2,735.6 1217.1,735.6 1218.0,735.6 1218.9,735.7 1219.8,735.7 1220.7,735.7 1221.6,735.8 1222.5,735.8 1223.4,735.9 1224.3,736.0 1225.2,736.1 1226.1,736.1 1227.0,736.0 1227.9,736.0 1228.8,735.9 1229.7,736.0 1230.6,736.0 1231.5,736.0 1232.4,736.0 1233.3,736.1 1234.2,736.1 1235.1,736.1 1236.0,736.1 1236.9,736.2 1237.8,736.2 1238.7,736.2 1239.6,736.3 1240.5,736.3 1241.4,736.4 1242.3,736.5 1243.2,736.5 1244.1,736.6 1245.0,736.6 1245.9,736.6 1246.8,736.7 1247.7,736.7 1248.6,736.7 1249.5,736.7 1250.4,736.7 1251.3,736.7 1252.2,736.8 1253.1,736.9 1254.0,737.1 1254.9,737.3 1255.8,737.3 1256.7,737.2 1257.6,737.1 1258.5,737.1 1259.4,737.1 1260.3,737.2 1261.2,737.2 1262.1,737.3 1263.0,737.3 1263.9,737.4 1264.8,737.4 1265.7,737.5 1266.6,737.5 1267.5,737.6 1268.4,737.6 1269.3,737.7 1270.2,737.7 1271.1,737.8 1272.0,737.8 1272.9,737.8 1273.8,737.9 1274.7,737.9 1275.6,737.9 1276.5,737.9 1277.4,738.0 1278.3,738.0 1279.2,738.0 1280.1,738.0 1281.0,738.2 1281.9,738.4 1282.8,738.4 1283.7,738.4 1284.6,738.3 1285.5,738.3 1286.4,738.4 1287.3,738.4 1288.2,738.5 1289.1,738.5 1290.0,738.5 1290.9,738.6 1291.8,738.6 1292.7,738.6 1293.6,738.7 1294.5,738.7 1295.4,738.7 1296.3,738.7 1297.2,738.7 1298.1,738.8 1299.0,738.8 1299.9,738.9 1300.8,738.9 1301.7,739.0 1302.6,739.0 1303.5,739.1 1304.4,739.1 1305.3,739.2 1306.2,739.2 1307.1,739.3 1308.0,739.3 1308.9,739.4 1309.8,739.4 1310.7,739.5 1311.6,739.5 1312.5,739.5 1313.4,739.5 1314.3,739.5 1315.2,739.6 1316.1,739.7 1317.0,739.7 1317.9,739.7 1318.8,739.8 1319.7,739.8 1320.6,739.8 1321.5,739.9 1322.4,739.9 1323.3,740.0 1324.2,740.0 1325.1,740.0 1326.0,740.0 1326.9,740.0 1327.8,740.1 1328.7,740.1 1329.6,740.2 1330.5,740.2 1331.4,740.3 1332.3,740.3 1333.2,740.3 1334.1,740.3 1335.0,740.4 1335.9,740.4 1336.8,740.5 1337.7,740.5 1338.6,740.6 1339.5,740.7 1340.4,740.8 1341.3,740.8 1342.2,740.8 1343.1,740.8 1344.0,740.8 1344.9,740.9 1345.8,741.0 1346.7,741.0 1347.6,741.1 1348.5,741.1 1349.4,741.1 1350.3,741.1 1351.2,741.2 1352.1,741.3 1353.0,741.4 1353.9,741.5 1354.8,741.6 1355.7,741.5 1356.6,741.5 1357.5,741.5 1358.4,741.6 1359.3,741.6 1360.2,741.6 1361.1,741.6 1362.0,741.8 1362.9,742.0 1363.8,742.1 1364.7,742.3 1365.6,742.2 1366.5,742.2 1367.4,742.2 1368.3,742.2 1369.2,742.3 1370.1,742.4 1371.0,742.5 1371.9,742.5 1372.8,742.5 1373.7,742.5 1374.6,742.6 1375.5,742.6 1376.4,742.7 1377.3,742.8 1378.2,742.8 1379.1,742.9 1380.0,743.0 1380.9,743.1 1381.8,743.2 1382.7,743.2 1383.6,743.3 1384.5,743.3 1385.4,743.4 1386.3,743.4 1387.2,743.5 1388.1,743.6 1389.0,743.6 1389.9,743.7 1390.8,743.8 1391.7,743.8 1392.6,743.9 1393.5,743.9 1394.4,743.9 1395.3,743.9 1396.2,744.0 1397.1,744.1 1398.0,744.2 1398.9,744.3 1399.8,744.4 1400.7,744.4 1401.6,744.5 1402.5,744.6 1403.4,744.6 1404.3,744.6 1405.2,744.6 1406.1,744.7 1407.0,744.8 1407.9,744.9 1408.8,745.0 1409.7,745.0 1410.6,745.1 1411.5,745.1 1412.4,745.2 1413.3,745.2 1414.2,745.3 1415.1,745.4 1416.0,745.5 1416.9,745.5 1417.8,745.5 1418.7,745.5 1419.6,745.6 1420.5,745.7 1421.8,745.9"/>
<path stroke="#ff7f0e" d="M228.8,746.3 680.0,745.9 1000.0,745.6 1240.0,744.5 1421.8,744.1"/>
<path stroke="#ffbb78" d="M228.8,764.7 1240.0,762.7 1421.8,762.7"/>
<path stroke="#2ca02c" d="M228.8,768.1 1240.0,766.2 1421.8,766.2"/>
<path stroke="#98df8a" d="M228.8,553.0 229.8,552.9 230.7,552.8 231.6,552.7 232.5,552.7 233.4,552.8 234.3,552.9 235.2,553.1 236.1,553.1 237.0,553.2 237.9,553.3 238.8,553.4 239.7,553.4 240.6,553.2 241.5,553.1 242.4,553.0 243.3,553.0 244.2,553.0 245.1,553.0 246.0,553.0 246.9,552.9 247.8,552.7 248.7,552.6 249.6,552.5 250.5,552.5 251.4,552.6 252.3,552.6 253.2,552.6 254.1,552.7 255.0,552.8 255.9,552.9 256.8,552.9 257.7,553.0 258.6,553.0 259.5,553.1 260.4,553.1 261.3,553.2 262.2,553.2 263.1,553.2 264.0,553.1 264.9,552.9 265.8,552.8 266.7,552.7 267.6,552.6 268.5,552.4 269.4,552.3 270.3,552.3 271.2,552.3 272.1,552.4 273.0,552.4 273.9,552.5 274.8,552.8 275.7,553.0 276.6,553.2 277.5,553.0 278.4,552.8 279.3,552.5 280.2,552.5 281.1,552.6 282.0,552.7 282.9,552.8 283.8,552.9 284.7,553.1 285.6,553.3 286.5,553.5 287.4,553.4 288.3,553.1 289.2,552.7 290.1,552.6 291.0,552.7 291.9,553.0 292.8,553.2 293.7,553.2 294.6,553.3 295.5,553.5 296.4,553.6 297.3,553.6 298.2,553.3 299.1,553.0 300.0,552.8 300.9,552.8 301.8,552.9 302.7,553.1 303.6,553.1 304.5,553.2 305.4,553.3 306.3,553.4 307.2,553.5 308.1,553.3 309.0,553.0 309.9,552.7 310.8,552.6 311.7,552.7 312.6,552.8 313.5,552.9 314.4,552.9 315.3,552.9 316.2,553.0 317.1,553.0 318.0,553.0 318.9,552.9 319.8,552.9 320.7,552.9 321.6,552.9 322.5,552.9 323.4,552.9 324.3,552.9 325.2,552.9 326.1,552.8 327.0,552.8 327.9,552.8 328.8,552.9 329.7,553.0 330.6,553.1 331.5,553.1 332.4,553.0 333.3,553.0 334.2,552.9 335.1,553.0 336.0,553.0 336.9,553.0 337.8,553.1 338.7,553.2 339.6,553.3 340.5,553.4 341.4,553.2 342.3,553.0 343.2,553.0 344.1,553.1 345.0,553.1 345.9,553.1 346.8,553.1 347.7,553.1 348.6,553.0 349.5,552.9 350.4,552.7 351.3,552.7 352.2,552.8 353.1,552.9 354.0,553.0 354.9,553.0 355.8,553.0 356.7,552.8 357.6,552.7 358.5,552.6 359.4,552.6 360.3,552.7 361.2,552.7 362.1,552.6 363.0,552.6 363.9,552.5 364.8,552.5 365.7,552.5 366.6,552.7 367.5,552.8 368.4,552.8 369.3,552.8 370.2,552.7 371.1,552.6 372.0,552.6 372.9,552.6 373.8,552.6 374.7,552.7 375.6,552.7 376.5,552.8 377.4,552.9 378.3,553.0 379.2,553.0 380.1,552.9 381.0,552.8 381.9,552.7 382.8,552.8 383.7,553.0 384.6,553.2 385.5,553.2 386.4,553.0 387.3,552.7 388.2,552.4 389.1,552.4 390.0,552.6 390.9,552.8 391.8,553.2 392.7,553.5 393.6,553.6 394.5,553.3 395.4,553.0 396.3,552.8 397.2,552.9 398.1,552.9 399.0,552.9 399.9,553.0 400.8,553.1 401.7,553.2 402.6,553.2 403.5,553.2 404.4,553.1 405.3,553.1 406.2,553.1 407.1,553.0 408.0,553.0 408.9,553.0 409.8,552.9 410.7,552.7 411.6,552.5 412.5,552.4 413.4,552.4 414.3,552.4 415.2,552.4 416.1,552.4 417.0,552.5 417.9,552.8 418.8,553.0 419.7,553.1 420.6,553.3 421.5,553.5 422.4,553.5 423.3,553.2 424.2,553.0 425.1,553.0 426.0,553.0 426.9,553.1 427.8,553.2 428.7,553.3 429.6,553.3 430.5,553.2 431.4,553.1 432.3,553.0 433.2,552.9 434.1,552.7 435.0,552.4 435.9,552.2 436.8,552.2 437.7,552.3 438.6,552.4 439.5,552.5 440.4,552.5 441.3,552.6 442.2,552.7 443.1,552.8 444.0,552.7 444.9,552.6 445.8,552.4 446.7,552.4 447.6,552.6 448.5,553.0 449.4,553.3 450.3,553.4 451.2,553.5 452.1,553.5 453.0,553.5 453.9,553.5 454.8,553.5 455.7,553.4 456.6,553.4 457.5,553.3 458.4,553.2 459.3,553.0 460.2,552.9 461.1,553.0 462.0,553.2 462.9,553.3 463.8,553.3 464.7,553.1 465.6,552.7 466.5,552.5 467.4,552.4 468.3,552.4 469.2,552.5 470.1,552.5 471.0,552.5 471.9,552.5 472.8,552.6 473.7,552.6 474.6,552.7 475.5,552.9 476.4,553.0 477.3,553.1 478.2,553.0 479.1,553.0 480.0,552.9 480.9,552.9 481.8,552.7 482.7,552.6 483.6,552.5 484.5,552.5 485.4,552.6 486.3,552.6 487.2,552.7 488.1,552.7 489.0,552.7 489.9,552.7 490.8,552.7 491.7,552.7 492.6,552.7 493.5,552.7 494.4,552.7 495.3,552.7 496.2,552.7 497.1,552.7 498.0,552.7 498.9,552.8 499.8,552.9 500.7,553.0 501.6,553.0 502.5,553.0 503.4,553.0 504.3,553.0 505.2,553.0 506.1,553.2 507.0,553.3 507.9,553.3 508.8,553.3 509.7,553.3 510.6,553.3 511.5,553.3 512.4,553.2 513.3,553.1 514.2,553.0 515.1,553.0 516.0,553.0 516.9,553.1 517.8,553.4 518.7,553.8 519.6,553.9 520.5,553.7 521.4,553.4 522.3,553.4 523.2,553.4 524.1,553.5 525.0,553.4 525.9,553.4 526.8,553.3 527.7,553.2 528.6,553.2 529.5,553.3 530.4,553.4 531.3,553.4 532.2,553.5 533.1,553.5 534.0,553.7 534.9,553.7 535.8,554.3 536.7,554.5 537.6,554.4 538.5,553.3 539.4,552.9 540.3,553.2 541.2,553.5 542.1,553.6 543.0,553.4 543.9,553.1 544.8,552.9 545.7,552.9 546.6,552.9 547.5,553.0 548.4,553.0 549.3,552.9 550.2,553.1 551.1,554.2 552.0,555.3 552.9,555.0 553.8,554.0 554.7,553.0 555.6,553.2 556.5,552.9 557.4,552.6 558.3,552.4 559.2,552.4 560.1,552.6 561.0,552.8 561.9,552.9 562.8,552.9 563.7,552.7 564.6,552.4 565.5,552.4 566.4,552.5 567.3,552.6 568.2,552.8 569.1,552.9 570.0,553.0 570.9,553.2 571.8,553.4 572.7,553.4 573.6,553.2 574.5,553.0 575.4,552.8 576.3,552.7 577.2,552.7 578.1,552.8 579.0,552.8 579.9,552.8 580.8,552.9 581.7,552.9 582.6,553.0 583.5,553.1 584.4,553.4 585.3,553.7 586.2,553.6 587.1,553.4 588.0,553.2 588.9,553.1 589.8,553.1 590.7,552.8 591.6,552.4 592.5,552.2 593.4,552.2 594.3,552.4 595.2,552.5 596.1,552.6 597.0,552.6 597.9,552.9 598.8,553.2 599.7,553.4 600.6,553.3 601.5,552.9 602.4,552.5 603.3,552.3 604.2,552.5 605.1,552.7 606.0,552.8 606.9,552.9 607.8,552.9 608.7,552.9 609.6,552.9 610.5,552.9 611.4,553.0 612.3,553.1 613.2,553.1 614.1,553.1 615.0,553.1 615.9,553.2 616.8,553.2 617.7,552.9 618.6,552.6 619.5,552.3 620.4,552.3 621.3,552.4 622.2,552.4 623.1,552.5 624.0,552.5 624.9,552.7 625.8,552.9 626.7,553.0 627.6,552.9 628.5,552.7 629.4,552.6 630.3,552.5 631.2,552.6 632.1,552.7 633.0,552.7 633.9,552.8 634.8,552.9 635.7,553.0 636.6,553.1 637.5,553.1 638.4,553.0 639.3,552.8 640.2,552.7 641.1,552.8 642.0,553.0 642.9,553.2 643.8,554.3 644.7,554.6 645.6,555.7 646.5,555.7 647.4,554.5 648.3,553.8 649.2,553.0 650.1,552.6 651.0,552.6 651.9,552.7 652.8,553.0 653.7,553.1 654.6,553.1 655.5,553.2 656.4,553.3 657.3,553.3 658.2,553.3 659.1,553.4 660.0,553.4 660.9,553.5 661.8,553.3 662.7,553.0 663.6,552.7 664.5,552.7 665.4,552.7 666.3,552.6 667.2,552.6 668.1,552.7 669.0,553.3 669.9,553.9 670.8,554.0 671.7,553.8 672.6,553.6 673.5,553.6 674.4,553.6 675.3,553.4 676.2,553.1 677.1,552.8 678.0,552.8 678.9,552.8 679.8,553.0 680.7,553.1 681.6,553.1 682.5,553.2 683.4,553.3 684.3,553.4 685.2,553.4 686.1,553.5 687.0,553.5 687.9,553.6 688.8,553.5 689.7,553.2 690.6,552.9 691.5,552.8 692.4,552.9 693.3,553.1 694.2,553.3 695.1,553.3 696.0,553.3 696.9,553.3 697.8,553.3 698.7,553.3 699.6,553.1 700.5,553.0 701.4,553.0 702.3,553.0 703.2,552.8 704.1,552.7 705.0,552.5 705.9,552.6 706.8,553.9 707.7,555.1 708.6,555.3 709.5,555.7 710.4,556.5 711.3,558.2 712.2,558.7 713.1,557.0 714.0,555.8 714.9,553.7 715.8,552.7 716.7,554.4 717.6,557.5 718.5,559.1 719.4,558.8 720.3,557.9 721.2,555.6 722.1,556.6 723.0,552.9 723.9,553.6 724.8,552.3 725.7,554.3 726.6,552.3 727.5,556.8 728.4,557.3 729.3,558.6 730.2,557.6 731.1,557.2 732.0,555.4 732.9,556.1 733.8,558.2 734.7,560.0 735.6,557.6 736.5,555.5 737.4,554.3 738.3,555.2 739.2,555.6 740.1,558.8 741.0,557.5 741.9,560.1 742.8,559.3 743.7,558.5 744.6,559.2 745.5,554.0 746.4,555.9 747.3,555.1 748.2,554.8 749.1,554.3 750.0,553.4 750.9,554.6 751.8,557.2 752.7,558.2 753.6,560.8 754.5,558.3 755.4,558.2 756.3,557.2 757.2,556.5 758.1,556.3 759.0,557.3 759.9,559.1 760.8,558.4 761.7,559.5 762.6,558.4 763.5,557.7 764.4,553.0 765.3,557.1 766.2,560.2 767.1,559.9 768.0,558.1 768.9,558.7 769.8,558.1 770.7,557.9 771.6,555.5 772.5,556.3 773.4,556.4 774.3,556.3 775.2,554.7 776.1,553.7 777.0,554.0 777.9,553.4 778.8,553.2 779.7,553.0 780.6,553.1 781.5,553.2 782.4,553.4 783.3,553.4 784.2,553.5 785.1,554.2 786.0,554.6 786.9,554.9 787.8,554.5 788.7,554.1 789.6,554.0 790.5,553.8 791.4,554.0 792.3,554.2 793.2,554.3 794.1,554.2 795.0,553.8 795.9,553.3 796.8,553.1 797.7,553.0 798.6,553.0 799.5,553.0 800.4,553.0 801.3,553.0 802.2,553.0 803.1,553.0 804.0,552.9 804.9,552.9 805.8,552.8 806.7,552.7 807.6,552.8 808.5,553.1 809.4,553.4 810.3,553.6 811.2,553.4 812.1,553.0 813.0,552.6 813.9,552.5 814.8,552.7 815.7,553.0 816.6,553.2 817.5,553.2 818.4,553.2 819.3,553.3 820.2,553.5 821.1,553.5 822.0,553.3 822.9,553.0 823.8,553.0 824.7,553.0 825.6,553.0 826.5,553.0 827.4,553.0 828.3,553.0 829.2,552.8 830.1,552.7 831.0,552.7 831.9,552.8 832.8,553.0 833.7,553.1 834.6,553.2 835.5,553.2 836.4,553.2 837.3,553.3 838.2,553.3 839.1,553.2 840.0,553.1 840.9,553.1 841.8,553.1 842.7,553.3 843.6,553.4 844.5,553.4 845.4,553.2 846.3,552.9 847.2,552.7 848.1,552.6 849.0,552.6 849.9,552.6 850.8,552.6 851.7,552.7 852.6,552.8 853.5,552.9 854.4,552.9 855.3,553.0 856.2,553.0 857.1,553.1 858.0,553.1 858.9,553.1 859.8,553.0 860.7,552.9 861.6,552.9 862.5,553.2 863.4,553.5 864.3,553.8 865.2,553.8 866.1,553.8 867.0,553.8 867.9,553.7 868.8,553.7 869.7,553.3 870.6,553.0 871.5,552.8 872.4,552.8 873.3,552.9 874.2,553.0 875.1,553.0 876.0,552.9 876.9,552.8 877.8,552.8 878.7,552.8 879.6,552.9 880.5,553.0 881.4,553.1 882.3,553.1 883.2,553.1 884.1,553.0 885.0,553.0 885.9,553.1 886.8,553.3 887.7,553.7 888.6,554.6 889.5,555.6 890.4,555.9 891.3,556.1 892.2,556.0 893.1,554.9 894.0,554.6 894.9,553.8 895.8,553.2 896.7,553.4 897.6,554.2 898.5,555.9 899.4,556.6 900.3,557.0 901.2,558.0 902.1,557.0 903.0,557.5 903.9,557.3 904.8,556.7 905.7,555.2 906.6,555.1 907.5,553.8 908.4,553.0 909.3,552.6 910.2,553.0 911.1,553.2 912.0,553.4 912.9,553.4 913.8,553.5 914.7,553.6 915.6,553.6 916.5,553.6 917.4,553.4 918.3,553.1 919.2,553.4 920.1,554.3 921.0,556.6 921.9,556.8 922.8,558.4 923.7,558.3 924.6,556.5 925.5,557.0 926.4,558.1 927.3,559.0 928.2,559.0 929.1,556.7 930.0,556.9 930.9,555.0 931.8,553.5 932.7,554.0 933.6,553.7 934.5,553.4 935.4,553.2 936.3,553.1 937.2,553.3 938.1,553.7 939.0,553.9 939.9,554.0 940.8,554.0 941.7,554.0 942.6,554.0 943.5,553.9 944.4,553.7 945.3,553.5 946.2,553.4 947.1,553.4 948.0,553.5 948.9,553.6 949.8,553.6 950.7,553.5 951.6,553.1 952.5,553.5 953.4,554.2 954.3,556.0 955.2,557.7 956.1,558.7 957.0,558.7 957.9,558.1 958.8,558.6 959.7,557.5 960.6,554.8 961.5,555.4 962.4,554.6 963.3,553.7 964.2,553.7 965.1,553.7 966.0,553.8 966.9,553.8 967.8,553.7 968.7,553.3 969.6,553.6 970.5,554.4 971.4,554.6 972.3,554.5 973.2,553.9 974.1,554.7 975.0,554.6 975.9,556.7 976.8,556.5 977.7,558.7 978.6,557.7 979.5,558.2 980.4,557.3 981.3,555.9 982.2,553.6 983.1,553.2 984.0,553.0 984.9,553.3 985.8,553.7 986.7,553.9 987.6,554.0 988.5,553.8 989.4,553.7 990.3,553.6 991.2,553.6 992.1,553.8 993.0,553.7 993.9,554.3 994.8,555.5 995.7,555.8 996.6,558.3 997.5,557.5 998.4,557.5 999.3,557.2 1000.2,555.8 1001.1,558.1 1002.0,557.4 1002.9,554.0 1003.8,554.1 1004.7,554.1 1005.6,556.3 1006.5,555.7 1007.4,557.7 1008.3,556.3 1009.2,557.0 1010.1,558.3 1011.0,558.0 1011.9,557.1 1012.8,558.1 1013.7,559.0 1014.6,558.1 1015.5,556.7 1016.4,555.9 1017.3,556.7 1018.2,554.2 1019.1,554.2 1020.0,554.4 1020.9,556.9 1021.8,557.7 1022.7,556.7 1023.6,556.4 1024.5,557.7 1025.4,559.8 1026.3,558.0 1027.2,558.3 1028.1,557.6 1029.0,556.7 1029.9,557.6 1030.8,557.4 1031.7,557.0 1032.6,559.5 1033.5,559.9 1034.4,558.7 1035.3,556.3 1036.2,556.5 1037.1,555.9 1038.0,555.4 1038.9,555.2 1039.8,555.5 1040.7,555.5 1041.6,555.7 1042.5,555.6 1043.4,555.4 1044.3,555.1 1045.2,555.0 1046.1,555.1 1047.0,555.1 1047.9,555.2 1048.8,556.8 1049.7,556.9 1050.6,557.1 1051.5,557.2 1052.4,556.9 1053.3,556.9 1054.2,557.7 1055.1,556.6 1056.0,556.5 1056.9,557.4 1057.8,555.6 1058.7,557.5 1059.6,557.0 1060.5,558.8 1061.4,559.2 1062.3,559.0 1063.2,557.5 1064.1,559.2 1065.0,558.7 1065.9,558.2 1066.8,558.4 1067.7,558.5 1068.6,557.5 1069.5,557.4 1070.4,556.7 1071.3,557.0 1072.2,558.2 1073.1,559.0 1074.0,557.2 1074.9,558.2 1075.8,557.8 1076.7,557.6 1077.6,556.2 1078.5,555.6 1079.4,555.3 1080.3,556.1 1081.2,556.6 1082.1,557.3 1083.0,557.0 1083.9,557.2 1084.8,556.6 1085.7,557.3 1086.6,556.7 1087.5,558.8 1088.4,559.5 1089.3,559.3 1090.2,558.8 1091.1,559.6 1092.0,561.1 1092.9,561.9 1093.8,560.1 1094.7,561.6 1095.6,562.6 1096.5,562.0 1097.4,562.2 1098.3,562.2 1099.2,558.8 1100.1,557.2 1101.0,558.4 1101.9,556.0 1102.8,555.7 1103.7,556.2 1104.6,555.9 1105.5,555.4 1106.4,556.0 1107.3,555.8 1108.2,557.2 1109.1,556.8 1110.0,556.8 1110.9,558.8 1111.8,557.5 1112.7,559.6 1113.6,559.0 1114.5,560.2 1115.4,559.0 1116.3,560.0 1117.2,560.8 1118.1,561.1 1119.0,560.1 1119.9,559.9 1120.8,559.0 1121.7,558.7 1122.6,557.3 1123.5,557.1 1124.4,557.2 1125.3,557.7 1126.2,557.5 1127.1,556.8 1128.0,557.6 1128.9,560.6 1129.8,562.1 1130.7,561.5 1131.6,561.7 1132.5,561.5 1133.4,562.3 1134.3,560.7 1135.2,561.1 1136.1,559.1 1137.0,558.9 1137.9,558.9 1138.8,559.0 1139.7,558.9 1140.6,558.6 1141.5,558.6 1142.4,558.5 1143.3,558.7 1144.2,558.8 1145.1,558.9 1146.0,559.0 1146.9,559.2 1147.8,559.4 1148.7,559.5 1149.6,559.4 1150.5,559.3 1151.4,559.2 1152.3,559.5 1153.2,559.9 1154.1,560.0 1155.0,559.9 1155.9,559.8 1156.8,559.7 1157.7,559.8 1158.6,559.7 1159.5,559.7 1160.4,559.6 1161.3,559.7 1162.2,559.7 1163.1,559.8 1164.0,559.9 1164.9,560.1 1165.8,560.3 1166.7,560.6 1167.6,560.7 1168.5,560.6 1169.4,560.5 1170.3,560.4 1171.2,560.5 1172.1,560.7 1173.0,561.0 1173.9,561.1 1174.8,561.1 1175.7,561.0 1176.6,560.9 1177.5,560.9 1178.4,561.1 1179.3,561.4 1180.2,561.6 1181.1,561.7 1182.0,561.7 1182.9,561.7 1183.8,561.7 1184.7,561.7 1185.6,561.7 1186.5,561.7 1187.4,561.7 1188.3,561.8 1189.2,562.1 1190.1,562.3 1191.0,562.5 1191.9,562.5 1192.8,562.5 1193.7,562.4 1194.6,562.5 1195.5,562.6 1196.4,562.8 1197.3,562.9 1198.2,563.0 1199.1,563.0 1200.0,563.1 1200.9,563.1 1201.8,563.2 1202.7,563.2 1203.6,563.2 1204.5,563.3 1205.4,563.4 1206.3,563.4 1207.2,563.6 1208.1,563.9 1209.0,564.2 1209.9,564.2 1210.8,564.2 1211.7,564.1 1212.6,564.2 1213.5,564.2 1214.4,564.3 1215.3,564.4 1216.2,564.5 1217.1,564.6 1218.0,564.6 1218.9,564.7 1219.8,564.8 1220.7,564.9 1221.6,565.0 1222.5,565.2 1223.4,565.4 1224.3,565.6 1225.2,565.8 1226.1,565.8 1227.0,565.6 1227.9,565.5 1228.8,565.5 1229.7,565.6 1230.6,565.7 1231.5,565.7 1232.4,565.8 1233.3,565.8 1234.2,565.8 1235.1,565.9 1236.0,566.0 1236.9,566.1 1237.8,566.1 1238.7,566.2 1239.6,566.3 1240.5,566.5 1241.4,566.7 1242.3,566.8 1243.2,566.9 1244.1,567.0 1245.0,567.1 1245.9,567.1 1246.8,567.1 1247.7,567.1 1248.6,567.2 1249.5,567.2 1250.4,567.2 1251.3,567.2 1252.2,567.3 1253.1,567.7 1254.0,568.1 1254.9,568.4 1255.8,568.4 1256.7,568.2 1257.6,568.0 1258.5,567.9 1259.4,568.0 1260.3,568.1 1261.2,568.2 1262.1,568.3 1263.0,568.4 1263.9,568.5 1264.8,568.6 1265.7,568.6 1266.6,568.7 1267.5,568.9 1268.4,569.0 1269.3,569.1 1270.2,569.2 1271.1,569.3 1272.0,569.3 1272.9,569.4 1273.8,569.4 1274.7,569.5 1275.6,569.5 1276.5,569.5 1277.4,569.6 1278.3,569.6 1279.2,569.6 1280.1,569.7 1281.0,570.1 1281.9,570.5 1282.8,570.5 1283.7,570.4 1284.6,570.4 1285.5,570.4 1286.4,570.5 1287.3,570.6 1288.2,570.6 1289.1,570.7 1290.0,570.8 1290.9,570.9 1291.8,570.9 1292.7,571.0 1293.6,571.1 1294.5,571.1 1295.4,571.0 1296.3,571.1 1297.2,571.2 1298.1,571.3 1299.0,571.4 1299.9,571.5 1300.8,571.6 1301.7,571.7 1302.6,571.8 1303.5,571.9 1304.4,572.0 1305.3,572.1 1306.2,572.2 1307.1,572.3 1308.0,572.5 1308.9,572.6 1309.8,572.7 1310.7,572.8 1311.6,572.8 1312.5,572.8 1313.4,572.8 1314.3,572.9 1315.2,573.0 1316.1,573.2 1317.0,573.3 1317.9,573.3 1318.8,573.4 1319.7,573.4 1320.6,573.5 1321.5,573.6 1322.4,573.8 1323.3,573.9 1324.2,573.9 1325.1,573.9 1326.0,573.9 1326.9,574.0 1327.8,574.1 1328.7,574.3 1329.6,574.4 1330.5,574.6 1331.4,574.7 1332.3,574.7 1333.2,574.8 1334.1,574.9 1335.0,575.0 1335.9,575.2 1336.8,575.3 1337.7,575.5 1338.6,575.7 1339.5,575.9 1340.4,576.1 1341.3,576.3 1342.2,576.3 1343.1,576.3 1344.0,576.4 1344.9,576.5 1345.8,576.7 1346.7,577.0 1347.6,577.1 1348.5,577.2 1349.4,577.2 1350.3,577.3 1351.2,577.4 1352.1,577.7 1353.0,578.0 1353.9,578.2 1354.8,578.5 1355.7,578.4 1356.6,578.4 1357.5,578.5 1358.4,578.6 1359.3,578.6 1360.2,578.6 1361.1,578.7 1362.0,579.0 1362.9,579.4 1363.8,579.7 1364.7,580.0 1365.6,579.9 1366.5,579.7 1367.4,579.6 1368.3,579.7 1369.2,579.9 1370.1,580.1 1371.0,580.2 1371.9,580.3 1372.8,580.3 1373.7,580.2 1374.6,580.3 1375.5,580.3 1376.4,580.5 1377.3,580.6 1378.2,580.7 1379.1,580.9 1380.0,581.1 1380.9,581.3 1381.8,581.4 1382.7,581.4 1383.6,581.4 1384.5,581.5 1385.4,581.6 1386.3,581.7 1387.2,581.8 1388.1,582.0 1389.0,582.1 1389.9,582.2 1390.8,582.3 1391.7,582.4 1392.6,582.4 1393.5,582.4 1394.4,582.4 1395.3,582.5 1396.2,582.7 1397.1,582.9 1398.0,583.1 1398.9,583.3 1399.8,583.4 1400.7,583.6 1401.6,583.7 1402.5,583.8 1403.4,583.9 1404.3,583.9 1405.2,583.9 1406.1,584.1 1407.0,584.3 1407.9,584.5 1408.8,584.6 1409.7,584.7 1410.6,584.8 1411.5,584.9 1412.4,585.0 1413.3,585.2 1414.2,585.4 1415.1,585.6 1416.0,585.7 1416.9,585.7 1417.8,585.7 1418.7,585.8 1419.6,586.0 1420.5,586.2 1421.8,586.5"/>
<path stroke="#d62728" d="M228.8,781.6 1240.0,779.4 1421.8,779.0"/>
<path stroke="#ff9896" d="M228.8,752.7 680.0,752.0 1240.0,750.0 1421.8,748.8"/>
<path stroke="#9467bd" d="M228.8,667.8 229.8,667.7 230.7,667.7 231.6,667.6 232.5,667.6 233.4,667.7 234.3,667.8 235.2,667.9 236.1,667.9 237.0,668.0 237.9,668.1 238.8,668.1 239.7,668.1 240.6,668.0 241.5,667.9 242.4,667.9 243.3,667.9 244.2,667.9 245.1,667.9 246.0,667.9 246.9,667.9 247.8,667.8 248.7,667.7 249.6,667.7 250.5,667.7 251.4,667.8 252.3,667.8 253.2,667.8 254.1,667.8 255.0,667.9 255.9,667.9 256.8,668.0 257.7,668.0 258.6,668.1 259.5,668.1 260.4,668.1 261.3,668.2 262.2,668.2 263.1,668.2 264.0,668.2 264.9,668.1 265.8,668.0 266.7,668.0 267.6,667.9 268.5,667.8 269.4,667.7 270.3,667.7 271.2,667.8 272.1,667.8 273.0,667.8 273.9,667.9 274.8,668.1 275.7,668.2 276.6,668.3 277.5,668.3 278.4,668.1 279.3,668.0 280.2,668.0 281.1,668.0 282.0,668.1 282.9,668.2 283.8,668.2 284.7,668.3 285.6,668.5 286.5,668.6 287.4,668.6 288.3,668.4 289.2,668.2 290.1,668.1 291.0,668.2 291.9,668.3 292.8,668.5 293.7,668.5 294.6,668.6 295.5,668.7 296.4,668.8 297.3,668.8 298.2,668.6 299.1,668.4 300.0,668.3 300.9,668.3 301.8,668.4 302.7,668.5 303.6,668.5 304.5,668.6 305.4,668.7 306.3,668.8 307.2,668.8 308.1,668.7 309.0,668.5 309.9,668.3 310.8,668.3 311.7,668.4 312.6,668.5 313.5,668.5 314.4,668.5 315.3,668.5 316.2,668.6 317.1,668.6 318.0,668.6 318.9,668.6 319.8,668.6 320.7,668.6 321.6,668.6 322.5,668.6 323.4,668.6 324.3,668.6 325.2,668.6 326.1,668.6 327.0,668.6 327.9,668.6 328.8,668.6 329.7,668.7 330.6,668.8 331.5,668.8 332.4,668.8 333.3,668.7 334.2,668.7 335.1,668.7 336.0,668.8 336.9,668.8 337.8,668.8 338.7,668.9 339.6,669.1 340.5,669.2 341.4,669.0 342.3,668.9 343.2,668.8 344.1,668.9 345.0,668.9 345.9,668.9 346.8,668.9 347.7,668.9 348.6,668.9 349.5,668.8 350.4,668.7 351.3,668.7 352.2,668.8 353.1,668.9 354.0,669.0 354.9,669.0 355.8,668.9 356.7,668.9 357.6,668.8 358.5,668.8 359.4,668.8 360.3,668.8 361.2,668.8 362.1,668.8 363.0,668.8 363.9,668.7 364.8,668.7 365.7,668.8 366.6,668.9 367.5,668.9 368.4,669.0 369.3,669.0 370.2,668.9 371.1,668.8 372.0,668.8 372.9,668.9 373.8,668.9 374.7,668.9 375.6,669.0 376.5,669.0 377.4,669.1 378.3,669.2 379.2,669.2 380.1,669.1 381.0,669.1 381.9,669.0 382.8,669.1 383.7,669.2 384.6,669.3 385.5,669.4 386.4,669.3 387.3,669.1 388.2,668.9 389.1,668.9 390.0,669.0 390.9,669.2 391.8,669.5 392.7,669.7 393.6,669.8 394.5,669.6 395.4,669.4 396.3,669.2 397.2,669.3 398.1,669.3 399.0,669.3 399.9,669.4 400.8,669.4 401.7,669.5 402.6,669.5 403.5,669.5 404.4,669.5 405.3,669.5 406.2,669.5 407.1,669.5 408.0,669.4 408.9,669.4 409.8,669.4 410.7,669.3 411.6,669.2 412.5,669.1 413.4,669.1 414.3,669.1 415.2,669.2 416.1,669.2 417.0,669.2 417.9,669.4 418.8,669.6 419.7,669.6 420.6,669.8 421.5,670.0 422.4,670.0 423.3,669.8 424.2,669.6 425.1,669.6 426.0,669.6 426.9,669.7 427.8,669.7 428.7,669.8 429.6,669.8 430.5,669.8 431.4,669.7 432.3,669.6 433.2,669.6 434.1,669.5 435.0,669.3 435.9,669.2 436.8,669.2 437.7,669.3 438.6,669.4 439.5,669.4 440.4,669.4 441.3,669.5 442.2,669.6 443.1,669.6 444.0,669.6 444.9,669.5 445.8,669.4 446.7,669.5 447.6,669.6 448.5,669.8 449.4,670.0 450.3,670.1 451.2,670.1 452.1,670.1 453.0,670.2 453.9,670.2 454.8,670.2 455.7,670.1 456.6,670.1 457.5,670.1 458.4,670.0 459.3,669.9 460.2,669.9 461.1,669.9 462.0,670.0 462.9,670.1 463.8,670.1 464.7,670.0 465.6,669.8 466.5,669.7 467.4,669.6 468.3,669.6 469.2,669.7 470.1,669.7 471.0,669.7 471.9,669.7 472.8,669.8 473.7,669.8 474.6,669.9 475.5,670.0 476.4,670.1 477.3,670.1 478.2,670.1 479.1,670.1 480.0,670.0 480.9,670.0 481.8,670.0 482.7,669.9 483.6,669.8 484.5,669.8 485.4,669.9 486.3,669.9 487.2,670.0 488.1,670.0 489.0,670.0 489.9,670.0 490.8,670.0 491.7,670.0 492.6,670.0 493.5,670.0 494.4,670.1 495.3,670.1 496.2,670.1 497.1,670.1 498.0,670.1 498.9,670.1 499.8,670.2 500.7,670.3 501.6,670.3 502.5,670.3 503.4,670.3 504.3,670.3 505.2,670.3 506.1,670.4 507.0,670.5 507.9,670.5 508.8,670.5 509.7,670.6 510.6,670.6 511.5,670.6 512.4,670.5 513.3,670.4 514.2,670.4 515.1,670.4 516.0,670.4 516.9,670.5 517.8,670.8 518.7,671.1 519.6,671.1 520.5,671.0 521.4,670.8 522.3,670.7 523.2,670.8 524.1,670.8 525.0,670.8 525.9,670.8 526.8,670.7 527.7,670.7 528.6,670.7 529.5,670.7 530.4,670.8 531.3,670.8 532.2,670.9 533.1,670.9 534.0,671.0 534.9,671.0 535.8,671.6 536.7,671.8 537.6,671.8 538.5,670.9 539.4,670.6 540.3,670.7 541.2,671.0 542.1,671.0 543.0,670.9 543.9,670.7 544.8,670.6 545.7,670.6 546.6,670.6 547.5,670.7 548.4,670.7 549.3,670.7 550.2,670.8 551.1,671.7 552.0,672.6 552.9,672.4 553.8,671.6 554.7,670.8 555.6,670.9 556.5,670.7 557.4,670.5 558.3,670.4 559.2,670.4 560.1,670.6 561.0,670.7 561.9,670.8 562.8,670.8 563.7,670.6 564.6,670.5 565.5,670.5 566.4,670.6 567.3,670.7 568.2,670.8 569.1,670.8 570.0,670.9 570.9,671.0 571.8,671.1 572.7,671.1 573.6,671.0 574.5,670.9 575.4,670.8 576.3,670.8 577.2,670.8 578.1,670.8 579.0,670.9 579.9,670.9 580.8,670.9 581.7,671.0 582.6,671.0 583.5,671.1 584.4,671.3 585.3,671.6 586.2,671.5 587.1,671.3 588.0,671.2 588.9,671.1 589.8,671.1 590.7,671.0 591.6,670.8 592.5,670.6 593.4,670.7 594.3,670.7 595.2,670.8 596.1,670.9 597.0,670.9 597.9,671.1 598.8,671.4 599.7,671.6 600.6,671.5 601.5,671.2 602.4,670.9 603.3,670.8 604.2,670.9 605.1,671.0 606.0,671.1 606.9,671.1 607.8,671.2 608.7,671.2 609.6,671.2 610.5,671.2 611.4,671.3 612.3,671.3 613.2,671.3 614.1,671.3 615.0,671.4 615.9,671.4 616.8,671.4 617.7,671.3 618.6,671.1 619.5,670.9 620.4,670.9 621.3,671.0 622.2,671.0 623.1,671.1 624.0,671.1 624.9,671.2 625.8,671.3 626.7,671.4 627.6,671.4 628.5,671.3 629.4,671.2 630.3,671.2 631.2,671.2 632.1,671.3 633.0,671.3 633.9,671.3 634.8,671.4 635.7,671.5 636.6,671.6 637.5,671.6 638.4,671.5 639.3,671.4 640.2,671.4 641.1,671.4 642.0,671.5 642.9,671.6 643.8,672.5 644.7,672.8 645.6,673.7 646.5,673.7 647.4,672.8 648.3,672.2 649.2,671.7 650.1,671.4 651.0,671.4 651.9,671.5 652.8,671.6 653.7,671.7 654.6,671.7 655.5,671.8 656.4,671.8 657.3,671.9 658.2,671.9 659.1,671.9 660.0,672.0 660.9,672.0 661.8,671.9 662.7,671.7 663.6,671.6 664.5,671.6 665.4,671.5 666.3,671.5 667.2,671.5 668.1,671.6 669.0,672.0 669.9,672.5 670.8,672.5 671.7,672.4 672.6,672.3 673.5,672.2 674.4,672.2 675.3,672.1 676.2,671.9 677.1,671.8 678.0,671.8 678.9,671.8 679.8,671.9 680.7,672.0 681.6,672.0 682.5,672.1 683.4,672.2 684.3,672.2 685.2,672.3 686.1,672.3 687.0,672.4 687.9,672.4 688.8,672.3 689.7,672.2 690.6,672.0 691.5,672.0 692.4,672.0 693.3,672.2 694.2,672.2 695.1,672.2 696.0,672.2 696.9,672.3 697.8,672.3 698.7,672.2 699.6,672.1 700.5,672.1 701.4,672.1 702.3,672.1 703.2,672.0 704.1,671.9 705.0,671.7 705.9,671.9 706.8,672.9 707.7,674.0 708.6,674.1 709.5,674.5 710.4,675.2 711.3,676.6 712.2,677.0 713.1,675.6 714.0,674.5 714.9,672.7 715.8,672.0 716.7,673.4 717.6,676.1 718.5,677.5 719.4,677.2 720.3,676.5 721.2,674.6 722.1,675.4 723.0,672.3 723.9,672.9 724.8,671.8 725.7,673.4 726.6,671.8 727.5,675.6 728.4,676.0 729.3,677.1 730.2,676.2 731.1,675.9 732.0,674.4 732.9,675.0 733.8,676.7 734.7,678.3 735.6,676.3 736.5,674.6 737.4,673.5 738.3,674.2 739.2,674.6 740.1,677.3 741.0,676.2 741.9,678.3 742.8,677.6 743.7,677.0 744.6,677.6 745.5,673.3 746.4,674.9 747.3,674.2 748.2,674.0 749.1,673.6 750.0,672.8 750.9,673.9 751.8,676.0 752.7,676.8 753.6,679.0 754.5,676.9 755.4,676.8 756.3,676.0 757.2,675.4 758.1,675.2 759.0,676.0 759.9,677.5 760.8,676.9 761.7,677.8 762.6,676.9 763.5,676.3 764.4,672.5 765.3,676.0 766.2,678.6 767.1,678.3 768.0,676.9 768.9,677.4 769.8,677.0 770.7,676.7 771.6,674.6 772.5,675.3 773.4,675.4 774.3,675.2 775.2,673.9 776.1,673.1 777.0,673.4 777.9,673.0 778.8,672.8 779.7,672.7 780.6,672.7 781.5,672.8 782.4,673.0 783.3,673.0 784.2,673.1 785.1,673.6 786.0,674.0 786.9,674.3 787.8,673.9 788.7,673.7 789.6,673.6 790.5,673.4 791.4,673.6 792.3,673.7 793.2,673.7 794.1,673.7 795.0,673.4 795.9,673.1 796.8,673.0 797.7,672.9 798.6,672.9 799.5,672.9 800.4,672.8 801.3,672.8 802.2,672.8 803.1,672.8 804.0,672.8 804.9,672.8 805.8,672.7 806.7,672.7 807.6,672.8 808.5,673.0 809.4,673.1 810.3,673.2 811.2,673.1 812.1,672.9 813.0,672.7 813.9,672.6 814.8,672.7 815.7,672.9 816.6,673.0 817.5,673.1 818.4,673.1 819.3,673.2 820.2,673.5 821.1,673.5 822.0,673.2 822.9,672.9 823.8,672.9 824.7,672.9 825.6,673.0 826.5,673.0 827.4,673.0 828.3,672.9 829.2,672.9 830.1,672.8 831.0,672.8 831.9,672.9 832.8,673.0 833.7,673.1 834.6,673.1 835.5,673.1 836.4,673.1 837.3,673.2 838.2,673.2 839.1,673.1 840.0,673.1 840.9,673.1 841.8,673.1 842.7,673.2 843.6,673.3 844.5,673.3 845.4,673.2 846.3,673.0 847.2,672.9 848.1,672.8 849.0,672.8 849.9,672.9 850.8,672.9 851.7,672.9 852.6,673.0 853.5,673.0 854.4,673.1 855.3,673.1 856.2,673.1 857.1,673.2 858.0,673.2 858.9,673.2 859.8,673.1 860.7,673.1 861.6,673.1 862.5,673.3 863.4,673.5 864.3,673.6 865.2,673.7 866.1,673.7 867.0,673.7 867.9,673.7 868.8,673.6 869.7,673.5 870.6,673.3 871.5,673.2 872.4,673.2 873.3,673.2 874.2,673.3 875.1,673.3 876.0,673.3 876.9,673.2 877.8,673.2 878.7,673.2 879.6,673.3 880.5,673.4 881.4,673.5 882.3,673.5 883.2,673.5 884.1,673.4 885.0,673.4 885.9,673.5 886.8,673.7 887.7,674.0 888.6,674.7 889.5,675.6 890.4,675.8 891.3,675.9 892.2,675.9 893.1,675.0 894.0,674.8 894.9,674.2 895.8,673.7 896.7,673.8 897.6,674.5 898.5,675.9 899.4,676.5 900.3,676.8 901.2,677.7 902.1,676.9 903.0,677.3 903.9,677.1 904.8,676.6 905.7,675.4 906.6,675.4 907.5,674.4 908.4,673.8 909.3,673.5 910.2,673.7 911.1,673.9 912.0,674.0 912.9,674.0 913.8,674.1 914.7,674.1 915.6,674.2 916.5,674.1 917.4,674.1 918.3,673.8 919.2,674.2 920.1,674.9 921.0,676.9 921.9,677.1 922.8,678.4 923.7,678.3 924.6,676.8 925.5,677.1 926.4,678.1 927.3,678.8 928.2,678.8 929.1,676.9 930.0,677.1 930.9,675.5 931.8,674.3 932.7,674.7 933.6,674.5 934.5,674.3 935.4,674.2 936.3,674.1 937.2,674.3 938.1,674.5 939.0,674.7 939.9,674.7 940.8,674.7 941.7,674.7 942.6,674.7 943.5,674.7 944.4,674.6 945.3,674.5 946.2,674.4 947.1,674.4 948.0,674.5 948.9,674.6 949.8,674.6 950.7,674.5 951.6,674.2 952.5,674.6 953.4,675.2 954.3,676.7 955.2,678.0 956.1,678.8 957.0,678.8 957.9,678.3 958.8,678.7 959.7,677.9 960.6,675.6 961.5,676.1 962.4,675.5 963.3,674.8 964.2,674.8 965.1,674.8 966.0,674.9 966.9,674.9 967.8,674.8 968.7,674.6 969.6,674.9 970.5,675.6 971.4,675.7 972.3,675.6 973.2,675.2 974.1,675.9 975.0,675.8 975.9,677.5 976.8,677.4 977.7,679.2 978.6,678.4 979.5,678.7 980.4,678.0 981.3,676.9 982.2,675.0 983.1,674.8 984.0,674.6 984.9,674.8 985.8,675.1 986.7,675.2 987.6,675.3 988.5,675.2 989.4,675.1 990.3,675.1 991.2,675.1 992.1,675.2 993.0,675.2 993.9,675.7 994.8,676.7 995.7,677.0 996.6,679.1 997.5,678.5 998.4,678.4 999.3,678.1 1000.2,676.9 1001.1,678.8 1002.0,678.2 1002.9,675.3 1003.8,675.4 1004.7,675.3 1005.6,677.2 1006.5,676.7 1007.4,678.4 1008.3,677.3 1009.2,677.8 1010.1,679.0 1011.0,678.8 1011.9,678.0 1012.8,678.7 1013.7,679.5 1014.6,678.7 1015.5,677.6 1016.4,677.0 1017.3,677.7 1018.2,675.6 1019.1,675.5 1020.0,675.7 1020.9,677.7 1021.8,678.4 1022.7,677.6 1023.6,677.4 1024.5,678.5 1025.4,680.2 1026.3,678.8 1027.2,679.1 1028.1,678.5 1029.0,677.8 1029.9,678.5 1030.8,678.4 1031.7,678.0 1032.6,680.1 1033.5,680.4 1034.4,679.4 1035.3,677.5 1036.2,677.7 1037.1,677.2 1038.0,676.8 1038.9,676.6 1039.8,676.8 1040.7,676.8 1041.6,676.9 1042.5,677.0 1043.4,676.8 1044.3,676.7 1045.2,676.6 1046.1,676.7 1047.0,676.7 1047.9,676.8 1048.8,678.1 1049.7,678.3 1050.6,678.4 1051.5,678.5 1052.4,678.4 1053.3,678.4 1054.2,679.2 1055.1,678.3 1056.0,678.2 1056.9,679.0 1057.8,677.4 1058.7,679.0 1059.6,678.7 1060.5,680.2 1061.4,680.6 1062.3,680.5 1063.2,679.2 1064.1,680.6 1065.0,680.2 1065.9,679.8 1066.8,680.0 1067.7,680.1 1068.6,679.4 1069.5,679.3 1070.4,678.8 1071.3,679.0 1072.2,680.1 1073.1,680.8 1074.0,679.2 1074.9,680.1 1075.8,679.8 1076.7,679.7 1077.6,678.6 1078.5,678.2 1079.4,678.0 1080.3,678.6 1081.2,679.0 1082.1,679.6 1083.0,679.4 1083.9,679.6 1084.8,679.1 1085.7,679.8 1086.6,679.3 1087.5,681.1 1088.4,681.8 1089.3,681.6 1090.2,681.2 1091.1,681.8 1092.0,683.0 1092.9,683.7 1093.8,682.2 1094.7,683.5 1095.6,684.3 1096.5,683.9 1097.4,684.1 1098.3,684.1 1099.2,681.2 1100.1,679.9 1101.0,681.0 1101.9,679.1 1102.8,678.8 1103.7,679.3 1104.6,679.1 1105.5,678.8 1106.4,679.3 1107.3,679.1 1108.2,680.1 1109.1,679.8 1110.0,679.7 1110.9,681.5 1111.8,680.5 1112.7,682.3 1113.6,681.8 1114.5,682.8 1115.4,681.8 1116.3,682.6 1117.2,683.2 1118.1,683.4 1119.0,682.5 1119.9,682.3 1120.8,681.6 1121.7,681.4 1122.6,680.2 1123.5,680.1 1124.4,680.2 1125.3,680.5 1126.2,680.3 1127.1,679.8 1128.0,680.4 1128.9,682.8 1129.8,684.1 1130.7,683.5 1131.6,683.7 1132.5,683.6 1133.4,684.2 1134.3,682.9 1135.2,683.2 1136.1,681.4 1137.0,681.2 1137.9,681.2 1138.8,681.3 1139.7,681.2 1140.6,681.0 1141.5,681.0 1142.4,681.0 1143.3,681.1 1144.2,681.2 1145.1,681.4 1146.0,681.4 1146.9,681.6 1147.8,681.8 1148.7,681.8 1149.6,681.7 1150.5,681.6 1151.4,681.5 1152.3,681.7 1153.2,681.9 1154.1,682.0 1155.0,681.9 1155.9,681.9 1156.8,681.8 1157.7,681.9 1158.6,681.9 1159.5,681.8 1160.4,681.8 1161.3,681.8 1162.2,681.9 1163.1,681.9 1164.0,682.0 1164.9,682.1 1165.8,682.2 1166.7,682.4 1167.6,682.5 1168.5,682.4 1169.4,682.3 1170.3,682.3 1171.2,682.4 1172.1,682.5 1173.0,682.7 1173.9,682.8 1174.8,682.8 1175.7,682.7 1176.6,682.7 1177.5,682.7 1178.4,682.8 1179.3,683.0 1180.2,683.1 1181.1,683.2 1182.0,683.2 1182.9,683.2 1183.8,683.2 1184.7,683.2 1185.6,683.2 1186.5,683.2 1187.4,683.2 1188.3,683.3 1189.2,683.4 1190.1,683.6 1191.0,683.7 1191.9,683.7 1192.8,683.7 1193.7,683.7 1194.6,683.7 1195.5,683.8 1196.4,683.8 1197.3,683.9 1198.2,684.0 1199.1,684.0 1200.0,684.0 1200.9,684.1 1201.8,684.1 1202.7,684.1 1203.6,684.1 1204.5,684.2 1205.4,684.2 1206.3,684.3 1207.2,684.3 1208.1,684.6 1209.0,684.8 1209.9,684.8 1210.8,684.7 1211.7,684.7 1212.6,684.7 1213.5,684.8 1214.4,684.8 1215.3,684.9 1216.2,684.9 1217.1,685.0 1218.0,685.0 1218.9,685.1 1219.8,685.1 1220.7,685.2 1221.6,685.2 1222.5,685.3 1223.4,685.5 1224.3,685.6 1225.2,685.7 1226.1,685.7 1227.0,685.6 1227.9,685.5 1228.8,685.5 1229.7,685.5 1230.6,685.6 1231.5,685.6 1232.4,685.6 1233.3,685.6 1234.2,685.6 1235.1,685.7 1236.0,685.7 1236.9,685.8 1237.8,685.8 1238.7,685.9 1239.6,685.9 1240.5,686.0 1241.4,686.1 1242.3,686.2 1243.2,686.3 1244.1,686.3 1245.0,686.4 1245.9,686.4 1246.8,686.4 1247.7,686.4 1248.6,686.4 1249.5,686.5 1250.4,686.5 1251.3,686.5 1252.2,686.5 1253.1,686.8 1254.0,687.1 1254.9,687.3 1255.8,687.3 1256.7,687.1 1257.6,687.0 1258.5,686.9 1259.4,687.0 1260.3,687.0 1261.2,687.1 1262.1,687.2 1263.0,687.3 1263.9,687.3 1264.8,687.4 1265.7,687.5 1266.6,687.6 1267.5,687.7 1268.4,687.8 1269.3,687.9 1270.2,687.9 1271.1,688.0 1272.0,688.0 1272.9,688.1 1273.8,688.2 1274.7,688.2 1275.6,688.2 1276.5,688.3 1277.4,688.3 1278.3,688.3 1279.2,688.4 1280.1,688.5 1281.0,688.7 1281.9,689.0 1282.8,689.0 1283.7,689.0 1284.6,688.9 1285.5,688.9 1286.4,689.0 1287.3,689.1 1288.2,689.1 1289.1,689.2 1290.0,689.3 1290.9,689.3 1291.8,689.4 1292.7,689.4 1293.6,689.5 1294.5,689.5 1295.4,689.5 1296.3,689.5 1297.2,689.6 1298.1,689.7 1299.0,689.8 1299.9,689.9 1300.8,689.9 1301.7,690.0 1302.6,690.1 1303.5,690.2 1304.4,690.3 1305.3,690.3 1306.2,690.4 1307.1,690.5 1308.0,690.6 1308.9,690.7 1309.8,690.8 1310.7,690.8 1311.6,690.8 1312.5,690.8 1313.4,690.9 1314.3,691.0 1315.2,691.1 1316.1,691.2 1317.0,691.2 1317.9,691.3 1318.8,691.3 1319.7,691.4 1320.6,691.4 1321.5,691.5 1322.4,691.6 1323.3,691.7 1324.2,691.8 1325.1,691.8 1326.0,691.8 1326.9,691.8 1327.8,691.9 1328.7,692.0 1329.6,692.1 1330.5,692.1 1331.4,692.2 1332.3,692.2 1333.2,692.3 1334.1,692.3 1335.0,692.4 1335.9,692.5 1336.8,692.5 1337.7,692.6 1338.6,692.7 1339.5,692.9 1340.4,693.0 1341.3,693.1 1342.2,693.1 1343.1,693.1 1344.0,693.1 1344.9,693.2 1345.8,693.3 1346.7,693.4 1347.6,693.5 1348.5,693.6 1349.4,693.6 1350.3,693.6 1351.2,693.7 1352.1,693.9 1353.0,694.1 1353.9,694.3 1354.8,694.5 1355.7,694.4 1356.6,694.3 1357.5,694.3 1358.4,694.4 1359.3,694.4 1360.2,694.3 1361.1,694.4 1362.0,694.6 1362.9,694.9 1363.8,695.2 1364.7,695.3 1365.6,695.3 1366.5,695.1 1367.4,695.1 1368.3,695.1 1369.2,695.2 1370.1,695.3 1371.0,695.4 1371.9,695.4 1372.8,695.4 1373.7,695.4 1374.6,695.4 1375.5,695.4 1376.4,695.5 1377.3,695.6 1378.2,695.7 1379.1,695.8 1380.0,695.9 1380.9,696.0 1381.8,696.1 1382.7,696.1 1383.6,696.1 1384.5,696.2 1385.4,696.2 1386.3,696.3 1387.2,696.4 1388.1,696.5 1389.0,696.5 1389.9,696.6 1390.8,696.7 1391.7,696.7 1392.6,696.8 1393.5,696.7 1394.4,696.7 1395.3,696.8 1396.2,696.9 1397.1,697.0 1398.0,697.1 1398.9,697.2 1399.8,697.3 1400.7,697.4 1401.6,697.4 1402.5,697.5 1403.4,697.5 1404.3,697.5 1405.2,697.5 1406.1,697.6 1407.0,697.7 1407.9,697.8 1408.8,697.9 1409.7,698.0 1410.6,698.0 1411.5,698.0 1412.4,698.1 1413.3,698.2 1414.2,698.3 1415.1,698.4 1416.0,698.4 1416.9,698.5 1417.8,698.4 1418.7,698.5 1419.6,698.6 1420.5,698.7 1421.8,698.9"/>
<path stroke="#c5b0d5" d="M228.8,671.5 229.8,671.4 230.7,671.3 231.6,671.3 232.5,671.3 233.4,671.4 234.3,671.5 235.2,671.6 236.1,671.6 237.0,671.7 237.9,671.8 238.8,671.8 239.7,671.8 240.6,671.7 241.5,671.6 242.4,671.6 243.3,671.6 244.2,671.6 245.1,671.6 246.0,671.6 246.9,671.6 247.8,671.5 248.7,671.4 249.6,671.3 250.5,671.4 251.4,671.4 252.3,671.4 253.2,671.4 254.1,671.5 255.0,671.6 255.9,671.6 256.8,671.6 257.7,671.7 258.6,671.8 259.5,671.8 260.4,671.8 261.3,671.9 262.2,671.9 263.1,671.9 264.0,671.9 264.9,671.7 265.8,671.6 266.7,671.6 267.6,671.5 268.5,671.4 269.4,671.3 270.3,671.3 271.2,671.4 272.1,671.4 273.0,671.5 273.9,671.5 274.8,671.7 275.7,671.9 276.6,672.0 277.5,671.9 278.4,671.7 279.3,671.6 280.2,671.6 281.1,671.7 282.0,671.8 282.9,671.8 283.8,671.9 284.7,672.0 285.6,672.2 286.5,672.3 287.4,672.2 288.3,672.0 289.2,671.8 290.1,671.7 291.0,671.8 291.9,672.0 292.8,672.1 293.7,672.2 294.6,672.2 295.5,672.4 296.4,672.4 297.3,672.4 298.2,672.3 299.1,672.1 300.0,671.9 300.9,672.0 301.8,672.0 302.7,672.1 303.6,672.2 304.5,672.2 305.4,672.3 306.3,672.4 307.2,672.5 308.1,672.3 309.0,672.1 309.9,671.9 310.8,671.9 311.7,672.0 312.6,672.1 313.5,672.1 314.4,672.1 315.3,672.1 316.2,672.2 317.1,672.2 318.0,672.2 318.9,672.2 319.8,672.2 320.7,672.2 321.6,672.2 322.5,672.2 323.4,672.2 324.3,672.2 325.2,672.2 326.1,672.2 327.0,672.1 327.9,672.2 328.8,672.2 329.7,672.3 330.6,672.4 331.5,672.4 332.4,672.4 333.3,672.3 334.2,672.3 335.1,672.3 336.0,672.4 336.9,672.4 337.8,672.4 338.7,672.5 339.6,672.7 340.5,672.9 341.4,672.7 342.3,672.5 343.2,672.4 344.1,672.5 345.0,672.5 345.9,672.5 346.8,672.5 347.7,672.5 348.6,672.5 349.5,672.4 350.4,672.3 351.3,672.3 352.2,672.3 353.1,672.4 354.0,672.5 354.9,672.6 355.8,672.5 356.7,672.4 357.6,672.3 358.5,672.3 359.4,672.3 360.3,672.3 361.2,672.4 362.1,672.3 363.0,672.3 363.9,672.3 364.8,672.3 365.7,672.3 366.6,672.4 367.5,672.5 368.4,672.5 369.3,672.5 370.2,672.4 371.1,672.4 372.0,672.4 372.9,672.4 373.8,672.4 374.7,672.5 375.6,672.5 376.5,672.6 377.4,672.7 378.3,672.7 379.2,672.7 380.1,672.7 381.0,672.6 381.9,672.6 382.8,672.6 383.7,672.8 384.6,672.9 385.5,672.9 386.4,672.8 387.3,672.6 388.2,672.4 389.1,672.4 390.0,672.5 390.9,672.7 391.8,673.0 392.7,673.3 393.6,673.5 394.5,673.2 395.4,672.9 396.3,672.8 397.2,672.8 398.1,672.8 399.0,672.9 399.9,672.9 400.8,673.0 401.7,673.0 402.6,673.0 403.5,673.0 404.4,673.0 405.3,673.0 406.2,673.0 407.1,673.0 408.0,673.0 408.9,673.0 409.8,672.9 410.7,672.8 411.6,672.7 412.5,672.6 413.4,672.6 414.3,672.6 415.2,672.6 416.1,672.6 417.0,672.7 417.9,672.9 418.8,673.1 419.7,673.1 420.6,673.4 421.5,673.6 422.4,673.6 423.3,673.4 424.2,673.1 425.1,673.1 426.0,673.1 426.9,673.1 427.8,673.2 428.7,673.3 429.6,673.3 430.5,673.3 431.4,673.2 432.3,673.1 433.2,673.1 434.1,673.0 435.0,672.8 435.9,672.6 436.8,672.6 437.7,672.7 438.6,672.8 439.5,672.8 440.4,672.9 441.3,672.9 442.2,673.0 443.1,673.1 444.0,673.0 444.9,672.9 445.8,672.8 446.7,672.8 447.6,673.0 448.5,673.2 449.4,673.5 450.3,673.5 451.2,673.6 452.1,673.6 453.0,673.6 453.9,673.6 454.8,673.6 455.7,673.6 456.6,673.5 457.5,673.5 458.4,673.4 459.3,673.3 460.2,673.3 461.1,673.3 462.0,673.4 462.9,673.5 463.8,673.5 464.7,673.4 465.6,673.1 466.5,673.0 467.4,672.9 468.3,673.0 469.2,673.0 470.1,673.0 471.0,673.0 471.9,673.0 472.8,673.1 473.7,673.1 474.6,673.2 475.5,673.3 476.4,673.4 477.3,673.4 478.2,673.4 479.1,673.4 480.0,673.3 480.9,673.3 481.8,673.3 482.7,673.1 483.6,673.1 484.5,673.1 485.4,673.1 486.3,673.2 487.2,673.2 488.1,673.2 489.0,673.2 489.9,673.2 490.8,673.2 491.7,673.3 492.6,673.3 493.5,673.3 494.4,673.3 495.3,673.3 496.2,673.3 497.1,673.3 498.0,673.3 498.9,673.4 499.8,673.5 500.7,673.5 501.6,673.5 502.5,673.5 503.4,673.5 504.3,673.5 505.2,673.6 506.1,673.7 507.0,673.8 507.9,673.8 508.8,673.8 509.7,673.8 510.6,673.8 511.5,673.8 512.4,673.7 513.3,673.7 514.2,673.6 515.1,673.6 516.0,673.6 516.9,673.7 517.8,674.1 518.7,674.5 519.6,674.5 520.5,674.3 521.4,674.0 522.3,674.0 523.2,674.0 524.1,674.0 525.0,674.0 525.9,674.0 526.8,673.9 527.7,673.9 528.6,673.9 529.5,673.9 530.4,674.0 531.3,674.0 532.2,674.0 533.1,674.1 534.0,674.2 534.9,674.2 535.8,674.9 536.7,675.2 537.6,675.3 538.5,674.2 539.4,673.7 540.3,673.9 541.2,674.1 542.1,674.1 543.0,674.0 543.9,673.8 544.8,673.7 545.7,673.7 546.6,673.7 547.5,673.8 548.4,673.8 549.3,673.8 550.2,673.9 551.1,675.0 552.0,676.1 552.9,675.8 553.8,674.9 554.7,673.8 555.6,674.1 556.5,673.8 557.4,673.6 558.3,673.5 559.2,673.5 560.1,673.6 561.0,673.7 561.9,673.8 562.8,673.8 563.7,673.7 564.6,673.5 565.5,673.5 566.4,673.6 567.3,673.7 568.2,673.8 569.1,673.8 570.0,673.9 570.9,674.1 571.8,674.2 572.7,674.2 573.6,674.1 574.5,673.9 575.4,673.8 576.3,673.8 577.2,673.8 578.1,673.8 579.0,673.8 579.9,673.8 580.8,673.9 581.7,673.9 582.6,674.0 583.5,674.1 584.4,674.4 585.3,674.7 586.2,674.6 587.1,674.4 588.0,674.1 588.9,674.1 589.8,674.1 590.7,673.9 591.6,673.7 592.5,673.5 593.4,673.6 594.3,673.7 595.2,673.8 596.1,673.8 597.0,673.8 597.9,674.1 598.8,674.4 599.7,674.7 600.6,674.6 601.5,674.2 602.4,673.8 603.3,673.6 604.2,673.8 605.1,673.9 606.0,674.0 606.9,674.0 607.8,674.1 608.7,674.1 609.6,674.1 610.5,674.1 611.4,674.2 612.3,674.2 613.2,674.2 614.1,674.2 615.0,674.3 615.9,674.3 616.8,674.3 617.7,674.1 618.6,673.9 619.5,673.8 620.4,673.8 621.3,673.8 622.2,673.8 623.1,673.9 624.0,673.9 624.9,674.0 625.8,674.2 626.7,674.2 627.6,674.2 628.5,674.1 629.4,674.0 630.3,674.0 631.2,674.0 632.1,674.1 633.0,674.1 633.9,674.1 634.8,674.2 635.7,674.3 636.6,674.4 637.5,674.4 638.4,674.3 639.3,674.2 640.2,674.1 641.1,674.2 642.0,674.3 642.9,674.4 643.8,675.5 644.7,675.8 645.6,677.0 646.5,677.0 647.4,675.8 648.3,675.1 649.2,674.5 650.1,674.1 651.0,674.1 651.9,674.2 652.8,674.4 653.7,674.5 654.6,674.5 655.5,674.5 656.4,674.6 657.3,674.6 658.2,674.6 659.1,674.7 660.0,674.7 660.9,674.7 661.8,674.6 662.7,674.4 663.6,674.3 664.5,674.3 665.4,674.2 666.3,674.2 667.2,674.2 668.1,674.3 669.0,674.8 669.9,675.3 670.8,675.4 671.7,675.2 672.6,675.0 673.5,675.0 674.4,675.0 675.3,674.9 676.2,674.7 677.1,674.5 678.0,674.5 678.9,674.5 679.8,674.6 680.7,674.7 681.6,674.7 682.5,674.8 683.4,674.9 684.3,675.0 685.2,675.0 686.1,675.0 687.0,675.1 687.9,675.1 688.8,675.1 689.7,674.9 690.6,674.7 691.5,674.6 692.4,674.7 693.3,674.8 694.2,674.9 695.1,674.9 696.0,674.9 696.9,674.9 697.8,674.9 698.7,674.9 699.6,674.8 700.5,674.7 701.4,674.7 702.3,674.7 703.2,674.6 704.1,674.5 705.0,674.3 705.9,674.5 706.8,675.8 707.7,677.1 708.6,677.3 709.5,677.8 710.4,678.6 711.3,680.3 712.2,680.9 713.1,679.1 714.0,677.7 714.9,675.5 715.8,674.6 716.7,676.3 717.6,679.7 718.5,681.4 719.4,681.1 720.3,680.3 721.2,677.9 722.1,678.9 723.0,675.1 723.9,675.7 724.8,674.4 725.7,676.4 726.6,674.4 727.5,679.0 728.4,679.6 729.3,680.9 730.2,679.8 731.1,679.4 732.0,677.5 732.9,678.3 733.8,680.5 734.7,682.4 735.6,679.9 736.5,677.8 737.4,676.4 738.3,677.3 739.2,677.8 740.1,681.1 741.0,679.7 741.9,682.4 742.8,681.5 743.7,680.8 744.6,681.5 745.5,676.2 746.4,678.2 747.3,677.4 748.2,677.1 749.1,676.6 750.0,675.6 750.9,676.9 751.8,679.5 752.7,680.6 753.6,683.2 754.5,680.6 755.4,680.5 756.3,679.5 757.2,678.7 758.1,678.5 759.0,679.4 759.9,681.3 760.8,680.6 761.7,681.7 762.6,680.6 763.5,679.9 764.4,675.2 765.3,679.5 766.2,682.7 767.1,682.4 768.0,680.7 768.9,681.3 769.8,680.7 770.7,680.4 771.6,677.8 772.5,678.6 773.4,678.7 774.3,678.5 775.2,676.9 776.1,675.9 777.0,676.3 777.9,675.7 778.8,675.6 779.7,675.4 780.6,675.5 781.5,675.6 782.4,675.7 783.3,675.7 784.2,675.9 785.1,676.5 786.0,677.0 786.9,677.3 787.8,676.9 788.7,676.6 789.6,676.5 790.5,676.3 791.4,676.5 792.3,676.6 793.2,676.7 794.1,676.6 795.0,676.3 795.9,676.0 796.8,675.8 797.7,675.7 798.6,675.7 799.5,675.6 800.4,675.6 801.3,675.6 802.2,675.6 803.1,675.6 804.0,675.6 804.9,675.5 805.8,675.5 806.7,675.5 807.6,675.5 808.5,675.7 809.4,675.9 810.3,676.0 811.2,675.9 812.1,675.6 813.0,675.4 813.9,675.3 814.8,675.5 815.7,675.6 816.6,675.8 817.5,675.8 818.4,675.9 819.3,676.1 820.2,676.4 821.1,676.4 822.0,676.0 822.9,675.7 823.8,675.7 824.7,675.7 825.6,675.7 826.5,675.7 827.4,675.7 828.3,675.7 829.2,675.6 830.1,675.6 831.0,675.6 831.9,675.6 832.8,675.7 833.7,675.8 834.6,675.9 835.5,675.9 836.4,675.9 837.3,675.9 838.2,676.0 839.1,675.9 840.0,675.9 840.9,675.9 841.8,675.9 842.7,676.0 843.6,676.1 844.5,676.1 845.4,676.0 846.3,675.8 847.2,675.6 848.1,675.6 849.0,675.6 849.9,675.6 850.8,675.6 851.7,675.7 852.6,675.7 853.5,675.8 854.4,675.9 855.3,675.9 856.2,675.9 857.1,676.0 858.0,676.0 858.9,676.0 859.8,675.9 860.7,675.9 861.6,675.9 862.5,676.1 863.4,676.3 864.3,676.5 865.2,676.5 866.1,676.5 867.0,676.5 867.9,676.5 868.8,676.5 869.7,676.3 870.6,676.1 871.5,676.0 872.4,676.0 873.3,676.0 874.2,676.1 875.1,676.1 876.0,676.1 876.9,676.0 877.8,676.0 878.7,676.0 879.6,676.1 880.5,676.2 881.4,676.3 882.3,676.3 883.2,676.3 884.1,676.3 885.0,676.3 885.9,676.3 886.8,676.6 887.7,677.0 888.6,677.9 889.5,678.9 890.4,679.2 891.3,679.3 892.2,679.2 893.1,678.2 894.0,678.0 894.9,677.2 895.8,676.5 896.7,676.7 897.6,677.6 898.5,679.2 899.4,680.0 900.3,680.4 901.2,681.5 902.1,680.4 903.0,681.0 903.9,680.8 904.8,680.1 905.7,678.6 906.6,678.6 907.5,677.4 908.4,676.7 909.3,676.3 910.2,676.6 911.1,676.8 912.0,676.9 912.9,676.9 913.8,677.0 914.7,677.0 915.6,677.1 916.5,677.0 917.4,676.9 918.3,676.7 919.2,677.1 920.1,678.0 921.0,680.5 921.9,680.7 922.8,682.4 923.7,682.2 924.6,680.3 925.5,680.7 926.4,681.9 927.3,682.8 928.2,682.8 929.1,680.4 930.0,680.6 930.9,678.7 931.8,677.2 932.7,677.7 933.6,677.4 934.5,677.2 935.4,677.1 936.3,677.0 937.2,677.2 938.1,677.4 939.0,677.6 939.9,677.6 940.8,677.6 941.7,677.7 942.6,677.7 943.5,677.7 944.4,677.5 945.3,677.4 946.2,677.3 947.1,677.4 948.0,677.4 948.9,677.5 949.8,677.5 950.7,677.4 951.6,677.1 952.5,677.6 953.4,678.3 954.3,680.2 955.2,681.7 956.1,682.7 957.0,682.6 957.9,682.1 958.8,682.6 959.7,681.5 960.6,678.8 961.5,679.4 962.4,678.6 963.3,677.7 964.2,677.8 965.1,677.8 966.0,677.8 966.9,677.8 967.8,677.8 968.7,677.6 969.6,677.9 970.5,678.7 971.4,678.9 972.3,678.8 973.2,678.3 974.1,679.1 975.0,679.0 975.9,681.2 976.8,681.0 977.7,683.3 978.6,682.2 979.5,682.6 980.4,681.7 981.3,680.4 982.2,678.1 983.1,677.7 984.0,677.6 984.9,677.8 985.8,678.1 986.7,678.2 987.6,678.3 988.5,678.2 989.4,678.1 990.3,678.1 991.2,678.1 992.1,678.3 993.0,678.1 993.9,678.8 994.8,680.0 995.7,680.4 996.6,683.1 997.5,682.3 998.4,682.2 999.3,681.8 1000.2,680.3 1001.1,682.6 1002.0,681.8 1002.9,678.3 1003.8,678.4 1004.7,678.3 1005.6,680.6 1006.5,680.0 1007.4,682.1 1008.3,680.7 1009.2,681.5 1010.1,682.8 1011.0,682.6 1011.9,681.6 1012.8,682.5 1013.7,683.4 1014.6,682.4 1015.5,681.0 1016.4,680.3 1017.3,681.2 1018.2,678.6 1019.1,678.5 1020.0,678.6 1020.9,681.1 1021.8,681.9 1022.7,681.0 1023.6,680.7 1024.5,682.1 1025.4,684.2 1026.3,682.5 1027.2,682.8 1028.1,682.0 1029.0,681.2 1029.9,682.1 1030.8,681.8 1031.7,681.3 1032.6,683.9 1033.5,684.3 1034.4,683.0 1035.3,680.6 1036.2,680.9 1037.1,680.3 1038.0,679.8 1038.9,679.5 1039.8,679.8 1040.7,679.7 1041.6,679.9 1042.5,679.9 1043.4,679.8 1044.3,679.6 1045.2,679.5 1046.1,679.6 1047.0,679.6 1047.9,679.6 1048.8,681.3 1049.7,681.5 1050.6,681.6 1051.5,681.7 1052.4,681.5 1053.3,681.5 1054.2,682.5 1055.1,681.4 1056.0,681.3 1056.9,682.2 1057.8,680.3 1058.7,682.2 1059.6,681.8 1060.5,683.7 1061.4,684.2 1062.3,684.1 1063.2,682.4 1064.1,684.2 1065.0,683.7 1065.9,683.1 1066.8,683.4 1067.7,683.5 1068.6,682.6 1069.5,682.4 1070.4,681.8 1071.3,682.1 1072.2,683.5 1073.1,684.2 1074.0,682.3 1074.9,683.3 1075.8,682.9 1076.7,682.8 1077.6,681.5 1078.5,681.0 1079.4,680.8 1080.3,681.5 1081.2,682.0 1082.1,682.7 1083.0,682.4 1083.9,682.7 1084.8,682.1 1085.7,682.9 1086.6,682.3 1087.5,684.5 1088.4,685.3 1089.3,685.1 1090.2,684.5 1091.1,685.3 1092.0,686.8 1092.9,687.6 1093.8,685.7 1094.7,687.4 1095.6,688.4 1096.5,687.8 1097.4,688.0 1098.3,688.0 1099.2,684.4 1100.1,682.8 1101.0,684.1 1101.9,681.7 1102.8,681.4 1103.7,682.0 1104.6,681.7 1105.5,681.3 1106.4,682.0 1107.3,681.7 1108.2,683.0 1109.1,682.5 1110.0,682.5 1110.9,684.6 1111.8,683.5 1112.7,685.8 1113.6,685.2 1114.5,686.4 1115.4,685.1 1116.3,686.2 1117.2,686.9 1118.1,687.1 1119.0,686.0 1119.9,685.8 1120.8,684.9 1121.7,684.7 1122.6,683.2 1123.5,683.0 1124.4,683.1 1125.3,683.6 1126.2,683.4 1127.1,682.7 1128.0,683.4 1128.9,686.4 1129.8,688.0 1130.7,687.3 1131.6,687.6 1132.5,687.5 1133.4,688.2 1134.3,686.6 1135.2,686.8 1136.1,684.7 1137.0,684.5 1137.9,684.4 1138.8,684.6 1139.7,684.5 1140.6,684.2 1141.5,684.2 1142.4,684.2 1143.3,684.4 1144.2,684.5 1145.1,684.7 1146.0,684.8 1146.9,685.1 1147.8,685.2 1148.7,685.3 1149.6,685.2 1150.5,685.0 1151.4,684.9 1152.3,685.1 1153.2,685.3 1154.1,685.4 1155.0,685.4 1155.9,685.4 1156.8,685.3 1157.7,685.4 1158.6,685.4 1159.5,685.4 1160.4,685.3 1161.3,685.4 1162.2,685.4 1163.1,685.5 1164.0,685.6 1164.9,685.7 1165.8,685.9 1166.7,686.1 1167.6,686.1 1168.5,686.1 1169.4,686.0 1170.3,686.0 1171.2,686.1 1172.1,686.2 1173.0,686.4 1173.9,686.6 1174.8,686.6 1175.7,686.5 1176.6,686.5 1177.5,686.5 1178.4,686.6 1179.3,686.8 1180.2,687.0 1181.1,687.1 1182.0,687.1 1182.9,687.1 1183.8,687.1 1184.7,687.2 1185.6,687.2 1186.5,687.2 1187.4,687.2 1188.3,687.3 1189.2,687.5 1190.1,687.7 1191.0,687.8 1191.9,687.9 1192.8,687.9 1193.7,687.9 1194.6,688.0 1195.5,688.1 1196.4,688.2 1197.3,688.3 1198.2,688.4 1199.1,688.5 1200.0,688.6 1200.9,688.6 1201.8,688.7 1202.7,688.8 1203.6,688.8 1204.5,688.9 1205.4,688.9 1206.3,689.0 1207.2,689.2 1208.1,689.5 1209.0,689.8 1209.9,689.8 1210.8,689.8 1211.7,689.7 1212.6,689.8 1213.5,689.9 1214.4,690.0 1215.3,690.1 1216.2,690.1 1217.1,690.2 1218.0,690.3 1218.9,690.4 1219.8,690.5 1220.7,690.6 1221.6,690.7 1222.5,690.8 1223.4,691.0 1224.3,691.2 1225.2,691.4 1226.1,691.4 1227.0,691.3 1227.9,691.2 1228.8,691.2 1229.7,691.3 1230.6,691.4 1231.5,691.4 1232.4,691.5 1233.3,691.5 1234.2,691.6 1235.1,691.6 1236.0,691.7 1236.9,691.8 1237.8,691.9 1238.7,692.0 1239.6,692.1 1240.5,692.3 1241.4,692.5 1242.3,692.6 1243.2,692.7 1244.1,692.8 1245.0,693.0 1245.9,693.1 1246.8,693.1 1247.7,693.2 1248.6,693.3 1249.5,693.4 1250.4,693.5 1251.3,693.5 1252.2,693.6 1253.1,694.0 1254.0,694.5 1254.9,694.8 1255.8,694.7 1256.7,694.6 1257.6,694.5 1258.5,694.5 1259.4,694.6 1260.3,694.7 1261.2,694.9 1262.1,695.0 1263.0,695.1 1263.9,695.3 1264.8,695.4 1265.7,695.5 1266.6,695.6 1267.5,695.8 1268.4,695.9 1269.3,696.1 1270.2,696.2 1271.1,696.3 1272.0,696.4 1272.9,696.5 1273.8,696.6 1274.7,696.7 1275.6,696.7 1276.5,696.8 1277.4,696.9 1278.3,697.0 1279.2,697.1 1280.1,697.2 1281.0,697.6 1281.9,698.0 1282.8,698.0 1283.7,698.0 1284.6,697.9 1285.5,698.0 1286.4,698.1 1287.3,698.2 1288.2,698.3 1289.1,698.4 1290.0,698.5 1290.9,698.6 1291.8,698.7 1292.7,698.8 1293.6,698.9 1294.5,699.0 1295.4,699.0 1296.3,699.1 1297.2,699.2 1298.1,699.4 1299.0,699.5 1299.9,699.6 1300.8,699.8 1301.7,699.9 1302.6,700.0 1303.5,700.2 1304.4,700.3 1305.3,700.4 1306.2,700.6 1307.1,700.7 1308.0,700.8 1308.9,701.0 1309.8,701.1 1310.7,701.3 1311.6,701.3 1312.5,701.4 1313.4,701.4 1314.3,701.6 1315.2,701.7 1316.1,701.9 1317.0,702.0 1317.9,702.1 1318.8,702.2 1319.7,702.3 1320.6,702.4 1321.5,702.6 1322.4,702.7 1323.3,702.9 1324.2,703.0 1325.1,703.0 1326.0,703.1 1326.9,703.2 1327.8,703.3 1328.7,703.4 1329.6,703.6 1330.5,703.7 1331.4,703.8 1332.3,703.9 1333.2,704.0 1334.1,704.1 1335.0,704.2 1335.9,704.3 1336.8,704.5 1337.7,704.6 1338.6,704.8 1339.5,705.0 1340.4,705.2 1341.3,705.3 1342.2,705.3 1343.1,705.4 1344.0,705.5 1344.9,705.6 1345.8,705.8 1346.7,706.0 1347.6,706.1 1348.5,706.2 1349.4,706.3 1350.3,706.4 1351.2,706.5 1352.1,706.8 1353.0,707.1 1353.9,707.4 1354.8,707.6 1355.7,707.5 1356.6,707.5 1357.5,707.5 1358.4,707.6 1359.3,707.6 1360.2,707.7 1361.1,707.8 1362.0,708.1 1362.9,708.4 1363.8,708.8 1364.7,709.0 1365.6,709.0 1366.5,708.8 1367.4,708.8 1368.3,708.9 1369.2,709.0 1370.1,709.1 1371.0,709.3 1371.9,709.3 1372.8,709.4 1373.7,709.4 1374.6,709.4 1375.5,709.5 1376.4,709.6 1377.3,709.8 1378.2,709.9 1379.1,710.0 1380.0,710.2 1380.9,710.4 1381.8,710.5 1382.7,710.6 1383.6,710.6 1384.5,710.7 1385.4,710.8 1386.3,710.9 1387.2,711.1 1388.1,711.2 1389.0,711.3 1389.9,711.4 1390.8,711.5 1391.7,711.6 1392.6,711.7 1393.5,711.7 1394.4,711.8 1395.3,711.8 1396.2,712.0 1397.1,712.2 1398.0,712.3 1398.9,712.5 1399.8,712.6 1400.7,712.7 1401.6,712.8 1402.5,712.9 1403.4,713.0 1404.3,713.0 1405.2,713.1 1406.1,713.2 1407.0,713.4 1407.9,713.5 1408.8,713.6 1409.7,713.7 1410.6,713.8 1411.5,713.9 1412.4,714.0 1413.3,714.1 1414.2,714.3 1415.1,714.4 1416.0,714.6 1416.9,714.6 1417.8,714.6 1418.7,714.7 1419.6,714.8 1420.5,715.0 1421.8,715.3"/>
<path stroke="#8c564b" d="M228.8,582.7 229.8,582.6 230.7,582.5 231.6,582.4 232.5,582.4 233.4,582.5 234.3,582.7 235.2,582.9 236.1,583.0 237.0,583.1 237.9,583.3 238.8,583.4 239.7,583.4 240.6,583.2 241.5,583.0 242.4,582.9 243.3,582.9 244.2,583.0 245.1,583.0 246.0,583.0 246.9,582.9 247.8,582.6 248.7,582.4 249.6,582.4 250.5,582.4 251.4,582.5 252.3,582.6 253.2,582.6 254.1,582.7 255.0,582.8 255.9,582.9 256.8,582.9 257.7,583.0 258.6,583.2 259.5,583.2 260.4,583.3 261.3,583.4 262.2,583.4 263.1,583.5 264.0,583.3 264.9,583.1 265.8,582.9 266.7,582.9 267.6,582.7 268.5,582.5 269.4,582.3 270.3,582.3 271.2,582.4 272.1,582.5 273.0,582.6 273.9,582.7 274.8,583.0 275.7,583.4 276.6,583.5 277.5,583.4 278.4,583.1 279.3,582.8 280.2,582.8 281.1,582.9 282.0,583.1 282.9,583.2 283.8,583.3 284.7,583.5 285.6,583.8 286.5,584.0 287.4,584.0 288.3,583.6 289.2,583.1 290.1,583.0 291.0,583.1 291.9,583.5 292.8,583.8 293.7,583.9 294.6,584.0 295.5,584.2 296.4,584.3 297.3,584.3 298.2,584.0 299.1,583.6 300.0,583.4 300.9,583.4 301.8,583.6 302.7,583.7 303.6,583.8 304.5,583.9 305.4,584.1 306.3,584.3 307.2,584.3 308.1,584.1 309.0,583.7 309.9,583.3 310.8,583.3 311.7,583.4 312.6,583.6 313.5,583.7 314.4,583.7 315.3,583.7 316.2,583.8 317.1,583.9 318.0,583.8 318.9,583.8 319.8,583.8 320.7,583.8 321.6,583.8 322.5,583.8 323.4,583.8 324.3,583.8 325.2,583.8 326.1,583.8 327.0,583.7 327.9,583.7 328.8,583.8 329.7,584.0 330.6,584.1 331.5,584.1 332.4,584.1 333.3,584.0 334.2,584.0 335.1,584.0 336.0,584.1 336.9,584.2 337.8,584.2 338.7,584.4 339.6,584.6 340.5,584.9 341.4,584.5 342.3,584.3 343.2,584.2 344.1,584.3 345.0,584.3 345.9,584.3 346.8,584.3 347.7,584.3 348.6,584.3 349.5,584.1 350.4,583.9 351.3,583.9 352.2,584.0 353.1,584.2 354.0,584.3 354.9,584.4 355.8,584.3 356.7,584.1 357.6,583.9 358.5,583.9 359.4,583.9 360.3,583.9 361.2,584.0 362.1,583.9 363.0,583.9 363.9,583.8 364.8,583.8 365.7,583.9 366.6,584.0 367.5,584.2 368.4,584.3 369.3,584.2 370.2,584.1 371.1,584.0 372.0,584.0 372.9,584.0 373.8,584.1 374.7,584.1 375.6,584.2 376.5,584.3 377.4,584.5 378.3,584.6 379.2,584.6 380.1,584.5 381.0,584.3 381.9,584.3 382.8,584.4 383.7,584.7 384.6,584.9 385.5,585.0 386.4,584.7 387.3,584.3 388.2,584.0 389.1,584.0 390.0,584.2 390.9,584.5 391.8,585.1 392.7,585.5 393.6,585.9 394.5,585.3 395.4,584.9 396.3,584.6 397.2,584.7 398.1,584.8 399.0,584.8 399.9,584.9 400.8,585.0 401.7,585.1 402.6,585.2 403.5,585.1 404.4,585.1 405.3,585.1 406.2,585.1 407.1,585.0 408.0,585.0 408.9,585.0 409.8,584.9 410.7,584.7 411.6,584.4 412.5,584.3 413.4,584.3 414.3,584.3 415.2,584.3 416.1,584.3 417.0,584.5 417.9,584.8 418.8,585.1 419.7,585.3 420.6,585.6 421.5,585.9 422.4,586.0 423.3,585.6 424.2,585.2 425.1,585.2 426.0,585.2 426.9,585.3 427.8,585.4 428.7,585.6 429.6,585.6 430.5,585.5 431.4,585.3 432.3,585.2 433.2,585.1 434.1,584.9 435.0,584.5 435.9,584.3 436.8,584.3 437.7,584.4 438.6,584.6 439.5,584.7 440.4,584.7 441.3,584.9 442.2,585.0 443.1,585.1 444.0,585.0 444.9,584.8 445.8,584.7 446.7,584.7 447.6,585.0 448.5,585.4 449.4,585.8 450.3,586.0 451.2,586.0 452.1,586.1 453.0,586.1 453.9,586.1 454.8,586.1 455.7,586.0 456.6,586.0 457.5,585.9 458.4,585.7 459.3,585.5 460.2,585.4 461.1,585.5 462.0,585.8 462.9,585.9 463.8,586.0 464.7,585.7 465.6,585.2 466.5,584.9 467.4,584.8 468.3,584.9 469.2,584.9 470.1,585.0 471.0,585.0 471.9,585.1 472.8,585.2 473.7,585.2 474.6,585.3 475.5,585.5 476.4,585.7 477.3,585.8 478.2,585.8 479.1,585.7 480.0,585.6 480.9,585.6 481.8,585.4 482.7,585.2 483.6,585.1 484.5,585.1 485.4,585.2 486.3,585.3 487.2,585.4 488.1,585.4 489.0,585.4 489.9,585.4 490.8,585.4 491.7,585.4 492.6,585.5 493.5,585.5 494.4,585.5 495.3,585.5 496.2,585.5 497.1,585.5 498.0,585.5 498.9,585.7 499.8,585.8 500.7,585.9 501.6,585.9 502.5,585.9 503.4,585.9 504.3,585.9 505.2,586.0 506.1,586.2 507.0,586.4 507.9,586.4 508.8,586.4 509.7,586.4 510.6,586.5 511.5,586.4 512.4,586.3 513.3,586.2 514.2,586.1 515.1,586.1 516.0,586.0 516.9,586.2 517.8,586.8 518.7,587.4 519.6,587.5 520.5,587.2 521.4,586.7 522.3,586.7 523.2,586.7 524.1,586.8 525.0,586.8 525.9,586.7 526.8,586.6 527.7,586.5 528.6,586.5 529.5,586.6 530.4,586.7 531.3,586.8 532.2,586.9 533.1,587.0 534.0,587.2 534.9,587.1 535.8,588.3 536.7,588.7 537.6,588.7 538.5,586.9 539.4,586.2 540.3,586.6 541.2,587.0 542.1,587.0 543.0,586.8 543.9,586.5 544.8,586.3 545.7,586.2 546.6,586.3 547.5,586.4 548.4,586.4 549.3,586.3 550.2,586.5 551.1,588.3 552.0,590.2 552.9,589.7 553.8,588.2 554.7,586.5 555.6,586.8 556.5,586.3 557.4,586.0 558.3,585.8 559.2,585.8 560.1,586.0 561.0,586.3 561.9,586.5 562.8,586.4 563.7,586.1 564.6,585.9 565.5,585.8 566.4,585.9 567.3,586.2 568.2,586.4 569.1,586.5 570.0,586.6 570.9,586.9 571.8,587.1 572.7,587.1 573.6,586.9 574.5,586.6 575.4,586.4 576.3,586.4 577.2,586.4 578.1,586.4 579.0,586.5 579.9,586.5 580.8,586.6 581.7,586.6 582.6,586.7 583.5,586.9 584.4,587.4 585.3,587.8 586.2,587.7 587.1,587.4 588.0,587.0 588.9,587.0 589.8,586.9 590.7,586.6 591.6,586.1 592.5,585.9 593.4,585.9 594.3,586.1 595.2,586.3 596.1,586.4 597.0,586.4 597.9,586.8 598.8,587.3 599.7,587.8 600.6,587.6 601.5,586.9 602.4,586.3 603.3,586.0 604.2,586.3 605.1,586.6 606.0,586.8 606.9,586.8 607.8,586.9 608.7,586.9 609.6,586.9 610.5,586.9 611.4,587.0 612.3,587.1 613.2,587.1 614.1,587.2 615.0,587.2 615.9,587.3 616.8,587.3 617.7,587.0 618.6,586.6 619.5,586.3 620.4,586.3 621.3,586.3 622.2,586.4 623.1,586.5 624.0,586.6 624.9,586.8 625.8,587.0 626.7,587.2 627.6,587.1 628.5,586.9 629.4,586.7 630.3,586.6 631.2,586.7 632.1,586.8 633.0,586.9 633.9,586.9 634.8,587.1 635.7,587.3 636.6,587.4 637.5,587.4 638.4,587.3 639.3,587.0 640.2,586.9 641.1,587.1 642.0,587.3 642.9,587.4 643.8,589.2 644.7,589.7 645.6,591.6 646.5,591.7 647.4,589.7 648.3,588.6 649.2,587.5 650.1,586.8 651.0,586.8 651.9,587.0 652.8,587.3 653.7,587.5 654.6,587.5 655.5,587.6 656.4,587.8 657.3,587.8 658.2,587.8 659.1,587.9 660.0,588.0 660.9,588.0 661.8,587.8 662.7,587.4 663.6,587.1 664.5,587.1 665.4,587.1 666.3,587.0 667.2,587.0 668.1,587.1 669.0,588.0 669.9,588.9 670.8,589.0 671.7,588.7 672.6,588.5 673.5,588.3 674.4,588.4 675.3,588.2 676.2,587.8 677.1,587.5 678.0,587.4 678.9,587.5 679.8,587.7 680.7,587.8 681.6,587.9 682.5,588.0 683.4,588.2 684.3,588.3 685.2,588.3 686.1,588.4 687.0,588.5 687.9,588.6 688.8,588.4 689.7,588.1 690.6,587.8 691.5,587.6 692.4,587.8 693.3,588.0 694.2,588.2 695.1,588.2 696.0,588.2 696.9,588.2 697.8,588.2 698.7,588.1 699.6,588.0 700.5,587.8 701.4,587.8 702.3,587.8 703.2,587.6 704.1,587.4 705.0,587.1 705.9,587.3 706.8,589.4 707.7,591.5 708.6,591.9 709.5,592.7 710.4,594.0 711.3,596.8 712.2,597.7 713.1,594.8 714.0,592.7 714.9,589.2 715.8,587.6 716.7,590.5 717.6,595.8 718.5,598.6 719.4,598.0 720.3,596.7 721.2,592.9 722.1,594.5 723.0,588.4 723.9,589.4 724.8,587.3 725.7,590.6 726.6,587.3 727.5,594.8 728.4,595.8 729.3,597.9 730.2,596.2 731.1,595.5 732.0,592.5 732.9,593.7 733.8,597.2 734.7,600.3 735.6,596.3 736.5,592.9 737.4,590.7 738.3,592.2 739.2,592.9 740.1,598.3 741.0,596.2 741.9,600.5 742.8,599.1 743.7,597.9 744.6,599.1 745.5,590.4 746.4,593.6 747.3,592.3 748.2,591.8 749.1,591.1 750.0,589.5 750.9,591.6 751.8,595.9 752.7,597.6 753.6,601.9 754.5,597.7 755.4,597.5 756.3,595.9 757.2,594.7 758.1,594.3 759.0,595.9 759.9,598.9 760.8,597.7 761.7,599.6 762.6,597.8 763.5,596.7 764.4,589.0 765.3,595.9 766.2,601.1 767.1,600.7 768.0,597.8 768.9,598.8 769.8,597.9 770.7,597.5 771.6,593.3 772.5,594.6 773.4,594.8 774.3,594.6 775.2,591.9 776.1,590.3 777.0,591.0 777.9,590.0 778.8,589.7 779.7,589.5 780.6,589.6 781.5,589.8 782.4,590.0 783.3,590.0 784.2,590.3 785.1,591.4 786.0,592.2 786.9,592.7 787.8,591.9 788.7,591.5 789.6,591.3 790.5,591.0 791.4,591.3 792.3,591.5 793.2,591.7 794.1,591.6 795.0,591.0 795.9,590.4 796.8,590.1 797.7,590.0 798.6,590.0 799.5,589.9 800.4,589.9 801.3,589.9 802.2,589.9 803.1,589.9 804.0,589.8 804.9,589.8 805.8,589.7 806.7,589.6 807.6,589.7 808.5,590.1 809.4,590.5 810.3,590.7 811.2,590.5 812.1,590.0 813.0,589.5 813.9,589.4 814.8,589.6 815.7,590.0 816.6,590.3 817.5,590.3 818.4,590.3 819.3,590.6 820.2,591.1 821.1,591.1 822.0,590.6 822.9,590.1 823.8,590.0 824.7,590.0 825.6,590.1 826.5,590.1 827.4,590.1 828.3,590.0 829.2,589.9 830.1,589.8 831.0,589.8 831.9,589.9 832.8,590.1 833.7,590.3 834.6,590.3 835.5,590.4 836.4,590.4 837.3,590.5 838.2,590.5 839.1,590.4 840.0,590.3 840.9,590.3 841.8,590.4 842.7,590.6 843.6,590.8 844.5,590.8 845.4,590.6 846.3,590.2 847.2,589.9 848.1,589.8 849.0,589.8 849.9,589.8 850.8,589.9 851.7,589.9 852.6,590.0 853.5,590.2 854.4,590.3 855.3,590.3 856.2,590.4 857.1,590.4 858.0,590.5 858.9,590.4 859.8,590.4 860.7,590.3 861.6,590.3 862.5,590.6 863.4,591.1 864.3,591.4 865.2,591.5 866.1,591.4 867.0,591.4 867.9,591.4 868.8,591.3 869.7,590.9 870.6,590.5 871.5,590.3 872.4,590.3 873.3,590.4 874.2,590.5 875.1,590.5 876.0,590.4 876.9,590.3 877.8,590.3 878.7,590.3 879.6,590.4 880.5,590.6 881.4,590.7 882.3,590.8 883.2,590.7 884.1,590.7 885.0,590.7 885.9,590.8 886.8,591.2 887.7,591.9 888.6,593.3 889.5,594.9 890.4,595.5 891.3,595.7 892.2,595.6 893.1,593.8 894.0,593.5 894.9,592.2 895.8,591.2 896.7,591.5 897.6,592.8 898.5,595.6 899.4,596.9 900.3,597.5 901.2,599.3 902.1,597.5 903.0,598.5 903.9,598.0 904.8,597.0 905.7,594.5 906.6,594.5 907.5,592.5 908.4,591.3 909.3,590.7 910.2,591.2 911.1,591.6 912.0,591.8 912.9,591.8 913.8,591.9 914.7,592.1 915.6,592.1 916.5,592.1 917.4,591.9 918.3,591.4 919.2,592.1 920.1,593.5 921.0,597.5 921.9,597.8 922.8,600.6 923.7,600.2 924.6,597.2 925.5,597.9 926.4,599.8 927.3,601.2 928.2,601.3 929.1,597.4 930.0,597.8 930.9,594.6 931.8,592.2 932.7,593.1 933.6,592.5 934.5,592.2 935.4,591.9 936.3,591.8 937.2,592.1 938.1,592.5 939.0,592.9 939.9,592.9 940.8,592.9 941.7,592.9 942.6,592.9 943.5,592.9 944.4,592.7 945.3,592.4 946.2,592.3 947.1,592.3 948.0,592.4 948.9,592.5 949.8,592.6 950.7,592.4 951.6,591.8 952.5,592.7 953.4,593.8 954.3,596.8 955.2,599.4 956.1,601.0 957.0,601.0 957.9,600.0 958.8,600.9 959.7,599.2 960.6,594.8 961.5,595.7 962.4,594.5 963.3,593.0 964.2,593.2 965.1,593.2 966.0,593.3 966.9,593.3 967.8,593.2 968.7,592.8 969.6,593.4 970.5,594.7 971.4,595.0 972.3,594.9 973.2,594.0 974.1,595.4 975.0,595.2 975.9,598.7 976.8,598.4 977.7,602.1 978.6,600.4 979.5,601.2 980.4,599.7 981.3,597.5 982.2,593.8 983.1,593.2 984.0,592.9 984.9,593.4 985.8,593.9 986.7,594.2 987.6,594.3 988.5,594.2 989.4,594.0 990.3,593.9 991.2,594.0 992.1,594.3 993.0,594.1 993.9,595.2 994.8,597.2 995.7,597.8 996.6,602.0 997.5,600.8 998.4,600.7 999.3,600.1 1000.2,597.6 1001.1,601.4 1002.0,600.1 1002.9,594.5 1003.8,594.6 1004.7,594.5 1005.6,598.1 1006.5,597.2 1007.4,600.5 1008.3,598.2 1009.2,599.4 1010.1,601.6 1011.0,601.2 1011.9,599.6 1012.8,601.0 1013.7,602.5 1014.6,601.0 1015.5,598.6 1016.4,597.5 1017.3,598.8 1018.2,594.6 1019.1,594.4 1020.0,594.7 1020.9,598.7 1021.8,600.0 1022.7,598.4 1023.6,598.0 1024.5,600.2 1025.4,603.6 1026.3,600.7 1027.2,601.1 1028.1,600.0 1029.0,598.5 1029.9,600.0 1030.8,599.6 1031.7,598.8 1032.6,602.9 1033.5,603.7 1034.4,601.5 1035.3,597.7 1036.2,598.0 1037.1,597.0 1038.0,596.2 1038.9,595.7 1039.8,596.1 1040.7,596.1 1041.6,596.4 1042.5,596.3 1043.4,596.0 1044.3,595.7 1045.2,595.5 1046.1,595.7 1047.0,595.7 1047.9,595.7 1048.8,598.4 1049.7,598.7 1050.6,598.9 1051.5,599.1 1052.4,598.8 1053.3,598.7 1054.2,600.3 1055.1,598.4 1056.0,598.2 1056.9,599.8 1057.8,596.7 1058.7,599.8 1059.6,599.1 1060.5,602.0 1061.4,602.9 1062.3,602.6 1063.2,600.0 1064.1,602.8 1065.0,602.0 1065.9,601.1 1066.8,601.5 1067.7,601.7 1068.6,600.1 1069.5,599.9 1070.4,598.8 1071.3,599.3 1072.2,601.4 1073.1,602.7 1074.0,599.6 1074.9,601.3 1075.8,600.6 1076.7,600.4 1077.6,598.1 1078.5,597.2 1079.4,596.9 1080.3,598.1 1081.2,598.8 1082.1,600.0 1083.0,599.5 1083.9,600.0 1084.8,599.0 1085.7,600.3 1086.6,599.3 1087.5,602.8 1088.4,604.1 1089.3,603.7 1090.2,602.8 1091.1,604.0 1092.0,606.5 1092.9,607.8 1093.8,604.8 1094.7,607.4 1095.6,609.0 1096.5,608.0 1097.4,608.4 1098.3,608.3 1099.2,602.6 1100.1,600.0 1101.0,602.1 1101.9,598.2 1102.8,597.6 1103.7,598.5 1104.6,598.0 1105.5,597.4 1106.4,598.4 1107.3,597.9 1108.2,600.1 1109.1,599.4 1110.0,599.3 1110.9,602.8 1111.8,600.9 1112.7,604.4 1113.6,603.4 1114.5,605.5 1115.4,603.4 1116.3,605.0 1117.2,606.3 1118.1,606.7 1119.0,604.9 1119.9,604.5 1120.8,603.1 1121.7,602.7 1122.6,600.4 1123.5,600.0 1124.4,600.2 1125.3,600.9 1126.2,600.5 1127.1,599.5 1128.0,600.6 1128.9,605.6 1129.8,608.1 1130.7,607.0 1131.6,607.4 1132.5,607.2 1133.4,608.4 1134.3,605.8 1135.2,606.3 1136.1,602.9 1137.0,602.5 1137.9,602.4 1138.8,602.7 1139.7,602.5 1140.6,602.1 1141.5,602.1 1142.4,602.0 1143.3,602.3 1144.2,602.5 1145.1,602.8 1146.0,602.9 1146.9,603.3 1147.8,603.6 1148.7,603.7 1149.6,603.5 1150.5,603.2 1151.4,603.2 1152.3,603.5 1153.2,603.9 1154.1,604.1 1155.0,604.1 1155.9,603.9 1156.8,603.9 1157.7,604.0 1158.6,603.9 1159.5,603.9 1160.4,603.8 1161.3,603.9 1162.2,604.0 1163.1,604.1 1164.0,604.2 1164.9,604.4 1165.8,604.8 1166.7,605.1 1167.6,605.2 1168.5,605.2 1169.4,605.0 1170.3,604.9 1171.2,605.0 1172.1,605.3 1173.0,605.6 1173.9,605.9 1174.8,605.9 1175.7,605.8 1176.6,605.7 1177.5,605.7 1178.4,605.9 1179.3,606.2 1180.2,606.6 1181.1,606.7 1182.0,606.7 1182.9,606.7 1183.8,606.7 1184.7,606.8 1185.6,606.8 1186.5,606.7 1187.4,606.8 1188.3,606.9 1189.2,607.3 1190.1,607.6 1191.0,607.8 1191.9,607.9 1192.8,607.8 1193.7,607.8 1194.6,607.9 1195.5,608.0 1196.4,608.3 1197.3,608.4 1198.2,608.6 1199.1,608.6 1200.0,608.7 1200.9,608.8 1201.8,608.9 1202.7,608.9 1203.6,609.0 1204.5,609.0 1205.4,609.2 1206.3,609.3 1207.2,609.5 1208.1,610.0 1209.0,610.5 1209.9,610.5 1210.8,610.4 1211.7,610.3 1212.6,610.4 1213.5,610.5 1214.4,610.6 1215.3,610.8 1216.2,610.9 1217.1,611.0 1218.0,611.1 1218.9,611.3 1219.8,611.4 1220.7,611.5 1221.6,611.7 1222.5,611.9 1223.4,612.2 1224.3,612.5 1225.2,612.7 1226.1,612.8 1227.0,612.6 1227.9,612.4 1228.8,612.4 1229.7,612.5 1230.6,612.6 1231.5,612.8 1232.4,612.8 1233.3,612.9 1234.2,613.0 1235.1,613.1 1236.0,613.2 1236.9,613.4 1237.8,613.5 1238.7,613.7 1239.6,613.8 1240.5,614.1 1241.4,614.3 1242.3,614.5 1243.2,614.6 1244.1,614.8 1245.0,615.0 1245.9,615.1 1246.8,615.2 1247.7,615.2 1248.6,615.3 1249.5,615.4 1250.4,615.4 1251.3,615.5 1252.2,615.6 1253.1,616.2 1254.0,616.9 1254.9,617.3 1255.8,617.2 1256.7,617.0 1257.6,616.8 1258.5,616.7 1259.4,616.8 1260.3,616.9 1261.2,617.1 1262.1,617.3 1263.0,617.4 1263.9,617.6 1264.8,617.7 1265.7,617.9 1266.6,618.1 1267.5,618.3 1268.4,618.5 1269.3,618.6 1270.2,618.8 1271.1,618.9 1272.0,619.0 1272.9,619.1 1273.8,619.2 1274.7,619.3 1275.6,619.4 1276.5,619.6 1277.4,619.7 1278.3,619.9 1279.2,620.0 1280.1,620.2 1281.0,620.9 1281.9,621.5 1282.8,621.7 1283.7,621.6 1284.6,621.6 1285.5,621.7 1286.4,621.9 1287.3,622.1 1288.2,622.3 1289.1,622.5 1290.0,622.7 1290.9,622.9 1291.8,623.1 1292.7,623.3 1293.6,623.5 1294.5,623.6 1295.4,623.6 1296.3,623.8 1297.2,624.0 1298.1,624.3 1299.0,624.5 1299.9,624.7 1300.8,625.0 1301.7,625.3 1302.6,625.6 1303.5,625.8 1304.4,626.1 1305.3,626.3 1306.2,626.6 1307.1,626.9 1308.0,627.2 1308.9,627.5 1309.8,627.8 1310.7,628.0 1311.6,628.1 1312.5,628.2 1313.4,628.4 1314.3,628.6 1315.2,628.9 1316.1,629.3 1317.0,629.5 1317.9,629.7 1318.8,629.9 1319.7,630.1 1320.6,630.3 1321.5,630.6 1322.4,630.9 1323.3,631.2 1324.2,631.5 1325.1,631.6 1326.0,631.7 1326.9,631.8 1327.8,632.1 1328.7,632.4 1329.6,632.7 1330.5,632.9 1331.4,633.1 1332.3,633.2 1333.2,633.4 1334.1,633.6 1335.0,633.8 1335.9,634.1 1336.8,634.3 1337.7,634.6 1338.6,634.9 1339.5,635.3 1340.4,635.7 1341.3,635.9 1342.2,636.0 1343.1,636.1 1344.0,636.3 1344.9,636.5 1345.8,636.9 1346.7,637.2 1347.6,637.5 1348.5,637.7 1349.4,637.8 1350.3,637.9 1351.2,638.2 1352.1,638.7 1353.0,639.2 1353.9,639.7 1354.8,640.2 1355.7,640.1 1356.6,640.1 1357.5,640.3 1358.4,640.5 1359.3,640.7 1360.2,640.8 1361.1,641.0 1362.0,641.6 1362.9,642.3 1363.8,643.0 1364.7,643.5 1365.6,643.3 1366.5,643.0 1367.4,642.8 1368.3,642.8 1369.2,642.9 1370.1,643.1 1371.0,643.2 1371.9,643.2 1372.8,643.1 1373.7,643.1 1374.6,643.0 1375.5,643.0 1376.4,643.1 1377.3,643.3 1378.2,643.5 1379.1,643.8 1380.0,644.1 1380.9,644.4 1381.8,644.7 1382.7,644.8 1383.6,644.9 1384.5,645.0 1385.4,645.2 1386.3,645.4 1387.2,645.7 1388.1,645.9 1389.0,646.1 1389.9,646.3 1390.8,646.6 1391.7,646.8 1392.6,646.9 1393.5,646.9 1394.4,647.0 1395.3,647.1 1396.2,647.4 1397.1,647.8 1398.0,648.1 1398.9,648.3 1399.8,648.5 1400.7,648.7 1401.6,649.0 1402.5,649.2 1403.4,649.2 1404.3,649.3 1405.2,649.4 1406.1,649.7 1407.0,650.0 1407.9,650.3 1408.8,650.5 1409.7,650.7 1410.6,650.8 1411.5,650.9 1412.4,651.1 1413.3,651.4 1414.2,651.7 1415.1,652.0 1416.0,652.2 1416.9,652.2 1417.8,652.3 1418.7,652.4 1419.6,652.6 1420.5,653.0 1421.8,653.5"/>
<path stroke="#c49c94" d="M228.8,727.8 229.8,727.8 230.7,727.8 231.6,727.8 232.5,727.8 233.4,727.8 234.3,727.9 235.2,727.9 236.1,728.0 237.0,728.0 237.9,728.1 238.8,728.1 239.7,728.1 240.6,728.1 241.5,728.0 242.4,728.0 243.3,728.0 244.2,728.0 245.1,728.0 246.0,728.0 246.9,728.0 247.8,728.0 248.7,727.9 249.6,727.9 250.5,727.9 251.4,728.0 252.3,728.0 253.2,728.0 254.1,728.0 255.0,728.1 255.9,728.1 256.8,728.1 257.7,728.1 258.6,728.2 259.5,728.2 260.4,728.2 261.3,728.2 262.2,728.3 263.1,728.3 264.0,728.3 264.9,728.2 265.8,728.2 266.7,728.2 267.6,728.1 268.5,728.1 269.4,728.0 270.3,728.0 271.2,728.1 272.1,728.1 273.0,728.1 273.9,728.2 274.8,728.2 275.7,728.3 276.6,728.4 277.5,728.4 278.4,728.3 279.3,728.2 280.2,728.2 281.1,728.3 282.0,728.3 282.9,728.4 283.8,728.4 284.7,728.5 285.6,728.5 286.5,728.6 287.4,728.6 288.3,728.5 289.2,728.4 290.1,728.3 291.0,728.4 291.9,728.5 292.8,728.6 293.7,728.6 294.6,728.6 295.5,728.7 296.4,728.7 297.3,728.8 298.2,728.7 299.1,728.6 300.0,728.5 300.9,728.5 301.8,728.6 302.7,728.6 303.6,728.7 304.5,728.7 305.4,728.7 306.3,728.8 307.2,728.8 308.1,728.8 309.0,728.7 309.9,728.6 310.8,728.6 311.7,728.6 312.6,728.7 313.5,728.7 314.4,728.7 315.3,728.7 316.2,728.8 317.1,728.8 318.0,728.8 318.9,728.8 319.8,728.8 320.7,728.8 321.6,728.8 322.5,728.8 323.4,728.8 324.3,728.8 325.2,728.8 326.1,728.8 327.0,728.8 327.9,728.8 328.8,728.8 329.7,728.9 330.6,728.9 331.5,728.9 332.4,728.9 333.3,728.9 334.2,728.9 335.1,728.9 336.0,729.0 336.9,729.0 337.8,729.0 338.7,729.1 339.6,729.1 340.5,729.2 341.4,729.1 342.3,729.1 343.2,729.0 344.1,729.1 345.0,729.1 345.9,729.1 346.8,729.1 347.7,729.1 348.6,729.1 349.5,729.1 350.4,729.0 351.3,729.0 352.2,729.0 353.1,729.1 354.0,729.2 354.9,729.2 355.8,729.2 356.7,729.1 357.6,729.1 358.5,729.1 359.4,729.1 360.3,729.1 361.2,729.1 362.1,729.1 363.0,729.1 363.9,729.1 364.8,729.1 365.7,729.1 366.6,729.2 367.5,729.2 368.4,729.2 369.3,729.2 370.2,729.2 371.1,729.2 372.0,729.2 372.9,729.2 373.8,729.2 374.7,729.2 375.6,729.3 376.5,729.3 377.4,729.4 378.3,729.4 379.2,729.4 380.1,729.4 381.0,729.3 381.9,729.3 382.8,729.4 383.7,729.5 384.6,729.5 385.5,729.6 386.4,729.5 387.3,729.4 388.2,729.3 389.1,729.3 390.0,729.4 390.9,729.5 391.8,729.6 392.7,729.7 393.6,729.8 394.5,729.7 395.4,729.6 396.3,729.5 397.2,729.6 398.1,729.6 399.0,729.6 399.9,729.6 400.8,729.7 401.7,729.7 402.6,729.7 403.5,729.7 404.4,729.7 405.3,729.7 406.2,729.7 407.1,729.7 408.0,729.7 408.9,729.7 409.8,729.7 410.7,729.6 411.6,729.6 412.5,729.6 413.4,729.6 414.3,729.6 415.2,729.6 416.1,729.6 417.0,729.6 417.9,729.7 418.8,729.8 419.7,729.9 420.6,730.0 421.5,730.0 422.4,730.1 423.3,730.0 424.2,729.9 425.1,729.9 426.0,729.9 426.9,729.9 427.8,730.0 428.7,730.0 429.6,730.0 430.5,730.0 431.4,730.0 432.3,729.9 433.2,729.9 434.1,729.9 435.0,729.8 435.9,729.7 436.8,729.7 437.7,729.7 438.6,729.8 439.5,729.8 440.4,729.8 441.3,729.9 442.2,729.9 443.1,730.0 444.0,729.9 444.9,729.9 445.8,729.9 446.7,729.9 447.6,729.9 448.5,730.1 449.4,730.2 450.3,730.2 451.2,730.3 452.1,730.3 453.0,730.3 453.9,730.3 454.8,730.3 455.7,730.3 456.6,730.3 457.5,730.3 458.4,730.2 459.3,730.2 460.2,730.2 461.1,730.2 462.0,730.2 462.9,730.3 463.8,730.3 464.7,730.2 465.6,730.1 466.5,730.0 467.4,730.0 468.3,730.0 469.2,730.1 470.1,730.1 471.0,730.1 471.9,730.1 472.8,730.1 473.7,730.2 474.6,730.2 475.5,730.3 476.4,730.3 477.3,730.3 478.2,730.3 479.1,730.3 480.0,730.3 480.9,730.3 481.8,730.3 482.7,730.2 483.6,730.2 484.5,730.2 485.4,730.2 486.3,730.3 487.2,730.3 488.1,730.3 489.0,730.3 489.9,730.3 490.8,730.3 491.7,730.3 492.6,730.3 493.5,730.4 494.4,730.4 495.3,730.4 496.2,730.4 497.1,730.4 498.0,730.4 498.9,730.4 499.8,730.5 500.7,730.5 501.6,730.5 502.5,730.5 503.4,730.5 504.3,730.5 505.2,730.6 506.1,730.6 507.0,730.7 507.9,730.7 508.8,730.7 509.7,730.7 510.6,730.7 511.5,730.7 512.4,730.7 513.3,730.7 514.2,730.6 515.1,730.6 516.0,730.6 516.9,730.7 517.8,730.8 518.7,731.0 519.6,731.0 520.5,731.0 521.4,730.8 522.3,730.8 523.2,730.9 524.1,730.9 525.0,730.9 525.9,730.9 526.8,730.8 527.7,730.8 528.6,730.8 529.5,730.9 530.4,730.9 531.3,730.9 532.2,730.9 533.1,731.0 534.0,731.0 534.9,731.0 535.8,731.3 536.7,731.4 537.6,731.4 538.5,731.0 539.4,730.8 540.3,730.9 541.2,731.0 542.1,731.1 543.0,731.0 543.9,730.9 544.8,730.9 545.7,730.9 546.6,730.9 547.5,730.9 548.4,730.9 549.3,730.9 550.2,731.0 551.1,731.4 552.0,731.9 552.9,731.8 553.8,731.4 554.7,731.0 555.6,731.1 556.5,730.9 557.4,730.9 558.3,730.8 559.2,730.8 560.1,730.9 561.0,731.0 561.9,731.0 562.8,731.0 563.7,730.9 564.6,730.9 565.5,730.9 566.4,730.9 567.3,731.0 568.2,731.0 569.1,731.1 570.0,731.1 570.9,731.2 571.8,731.2 572.7,731.2 573.6,731.2 574.5,731.1 575.4,731.1 576.3,731.1 577.2,731.1 578.1,731.1 579.0,731.1 579.9,731.1 580.8,731.1 581.7,731.2 582.6,731.2 583.5,731.3 584.4,731.4 585.3,731.5 586.2,731.5 587.1,731.4 588.0,731.3 588.9,731.3 589.8,731.3 590.7,731.2 591.6,731.1 592.5,731.0 593.4,731.0 594.3,731.1 595.2,731.2 596.1,731.2 597.0,731.2 597.9,731.3 598.8,731.4 599.7,731.6 600.6,731.5 601.5,731.4 602.4,731.2 603.3,731.1 604.2,731.2 605.1,731.3 606.0,731.4 606.9,731.4 607.8,731.4 608.7,731.4 609.6,731.4 610.5,731.4 611.4,731.4 612.3,731.5 613.2,731.5 614.1,731.5 615.0,731.5 615.9,731.5 616.8,731.6 617.7,731.5 618.6,731.4 619.5,731.3 620.4,731.3 621.3,731.3 622.2,731.4 623.1,731.4 624.0,731.4 624.9,731.5 625.8,731.5 626.7,731.6 627.6,731.6 628.5,731.5 629.4,731.5 630.3,731.5 631.2,731.5 632.1,731.5 633.0,731.5 633.9,731.6 634.8,731.6 635.7,731.7 636.6,731.7 637.5,731.7 638.4,731.7 639.3,731.6 640.2,731.6 641.1,731.6 642.0,731.7 642.9,731.8 643.8,732.2 644.7,732.3 645.6,732.8 646.5,732.8 647.4,732.4 648.3,732.1 649.2,731.8 650.1,731.6 651.0,731.6 651.9,731.7 652.8,731.8 653.7,731.8 654.6,731.8 655.5,731.9 656.4,731.9 657.3,731.9 658.2,732.0 659.1,732.0 660.0,732.0 660.9,732.0 661.8,732.0 662.7,731.9 663.6,731.8 664.5,731.8 665.4,731.8 666.3,731.8 667.2,731.8 668.1,731.8 669.0,732.1 669.9,732.3 670.8,732.3 671.7,732.3 672.6,732.2 673.5,732.2 674.4,732.2 675.3,732.1 676.2,732.0 677.1,732.0 678.0,732.0 678.9,732.0 679.8,732.0 680.7,732.1 681.6,732.1 682.5,732.2 683.4,732.2 684.3,732.3 685.2,732.3 686.1,732.3 687.0,732.4 687.9,732.4 688.8,732.4 689.7,732.3 690.6,732.2 691.5,732.2 692.4,732.2 693.3,732.3 694.2,732.4 695.1,732.4 696.0,732.4 696.9,732.4 697.8,732.4 698.7,732.4 699.6,732.4 700.5,732.4 701.4,732.4 702.3,732.4 703.2,732.3 704.1,732.3 705.0,732.2 705.9,732.3 706.8,732.8 707.7,733.4 708.6,733.5 709.5,733.7 710.4,734.0 711.3,734.7 712.2,735.0 713.1,734.3 714.0,733.7 714.9,732.9 715.8,732.5 716.7,733.2 717.6,734.5 718.5,735.2 719.4,735.1 720.3,734.8 721.2,733.8 722.1,734.3 723.0,732.7 723.9,733.0 724.8,732.5 725.7,733.3 726.6,732.5 727.5,734.4 728.4,734.7 729.3,735.2 730.2,734.8 731.1,734.6 732.0,733.9 732.9,734.2 733.8,735.1 734.7,735.9 735.6,734.9 736.5,734.0 737.4,733.5 738.3,733.9 739.2,734.1 740.1,735.4 741.0,734.9 741.9,736.0 742.8,735.6 743.7,735.3 744.6,735.6 745.5,733.5 746.4,734.3 747.3,734.0 748.2,733.9 749.1,733.7 750.0,733.3 750.9,733.8 751.8,734.9 752.7,735.4 753.6,736.4 754.5,735.4 755.4,735.4 756.3,735.0 757.2,734.7 758.1,734.6 759.0,735.0 759.9,735.8 760.8,735.5 761.7,736.0 762.6,735.5 763.5,735.3 764.4,733.3 765.3,735.1 766.2,736.4 767.1,736.3 768.0,735.6 768.9,735.8 769.8,735.6 770.7,735.5 771.6,734.5 772.5,734.8 773.4,734.9 774.3,734.8 775.2,734.2 776.1,733.8 777.0,734.0 777.9,733.7 778.8,733.6 779.7,733.6 780.6,733.6 781.5,733.7 782.4,733.8 783.3,733.8 784.2,733.9 785.1,734.1 786.0,734.4 786.9,734.5 787.8,734.3 788.7,734.2 789.6,734.2 790.5,734.1 791.4,734.2 792.3,734.3 793.2,734.3 794.1,734.3 795.0,734.2 795.9,734.0 796.8,733.9 797.7,733.9 798.6,733.9 799.5,733.9 800.4,733.9 801.3,733.9 802.2,733.9 803.1,733.9 804.0,734.0 804.9,733.9 805.8,733.9 806.7,733.9 807.6,734.0 808.5,734.1 809.4,734.2 810.3,734.3 811.2,734.2 812.1,734.1 813.0,734.0 813.9,734.0 814.8,734.0 815.7,734.1 816.6,734.2 817.5,734.2 818.4,734.3 819.3,734.3 820.2,734.5 821.1,734.5 822.0,734.4 822.9,734.2 823.8,734.2 824.7,734.3 825.6,734.3 826.5,734.3 827.4,734.3 828.3,734.3 829.2,734.3 830.1,734.3 831.0,734.3 831.9,734.3 832.8,734.4 833.7,734.4 834.6,734.5 835.5,734.5 836.4,734.5 837.3,734.5 838.2,734.5 839.1,734.5 840.0,734.5 840.9,734.5 841.8,734.6 842.7,734.6 843.6,734.7 844.5,734.7 845.4,734.6 846.3,734.6 847.2,734.5 848.1,734.5 849.0,734.5 849.9,734.5 850.8,734.5 851.7,734.5 852.6,734.6 853.5,734.6 854.4,734.7 855.3,734.7 856.2,734.7 857.1,734.8 858.0,734.8 858.9,734.8 859.8,734.8 860.7,734.8 861.6,734.8 862.5,734.9 863.4,735.0 864.3,735.1 865.2,735.1 866.1,735.1 867.0,735.1 867.9,735.1 868.8,735.1 869.7,735.0 870.6,734.9 871.5,734.9 872.4,734.9 873.3,734.9 874.2,735.0 875.1,735.0 876.0,735.0 876.9,735.0 877.8,735.0 878.7,735.0 879.6,735.0 880.5,735.1 881.4,735.1 882.3,735.1 883.2,735.1 884.1,735.1 885.0,735.1 885.9,735.2 886.8,735.3 887.7,735.5 888.6,735.8 889.5,736.2 890.4,736.4 891.3,736.5 892.2,736.5 893.1,736.0 894.0,735.9 894.9,735.6 895.8,735.4 896.7,735.4 897.6,735.8 898.5,736.5 899.4,736.8 900.3,737.0 901.2,737.4 902.1,737.0 903.0,737.3 903.9,737.2 904.8,736.9 905.7,736.3 906.6,736.3 907.5,735.8 908.4,735.5 909.3,735.4 910.2,735.5 911.1,735.6 912.0,735.7 912.9,735.7 913.8,735.7 914.7,735.8 915.6,735.8 916.5,735.8 917.4,735.7 918.3,735.6 919.2,735.8 920.1,736.2 921.0,737.2 921.9,737.3 922.8,738.0 923.7,737.9 924.6,737.2 925.5,737.3 926.4,737.8 927.3,738.2 928.2,738.2 929.1,737.3 930.0,737.4 930.9,736.6 931.8,736.0 932.7,736.2 933.6,736.1 934.5,736.0 935.4,735.9 936.3,735.9 937.2,736.0 938.1,736.1 939.0,736.2 939.9,736.3 940.8,736.3 941.7,736.3 942.6,736.3 943.5,736.3 944.4,736.2 945.3,736.2 946.2,736.2 947.1,736.2 948.0,736.2 948.9,736.3 949.8,736.3 950.7,736.3 951.6,736.1 952.5,736.3 953.4,736.6 954.3,737.4 955.2,738.0 956.1,738.5 957.0,738.4 957.9,738.2 958.8,738.4 959.7,738.0 960.6,736.9 961.5,737.2 962.4,736.8 963.3,736.5 964.2,736.5 965.1,736.5 966.0,736.6 966.9,736.6 967.8,736.6 968.7,736.5 969.6,736.6 970.5,736.9 971.4,737.0 972.3,737.0 973.2,736.8 974.1,737.1 975.0,737.1 975.9,738.0 976.8,737.9 977.7,738.8 978.6,738.4 979.5,738.6 980.4,738.3 981.3,737.7 982.2,736.8 983.1,736.6 984.0,736.6 984.9,736.7 985.8,736.8 986.7,736.9 987.6,736.9 988.5,736.9 989.4,736.9 990.3,736.9 991.2,736.9 992.1,737.0 993.0,736.9 993.9,737.2 994.8,737.7 995.7,737.9 996.6,738.9 997.5,738.6 998.4,738.6 999.3,738.5 1000.2,737.9 1001.1,738.8 1002.0,738.6 1002.9,737.2 1003.8,737.2 1004.7,737.2 1005.6,738.2 1006.5,737.9 1007.4,738.8 1008.3,738.2 1009.2,738.6 1010.1,739.1 1011.0,739.0 1011.9,738.7 1012.8,739.1 1013.7,739.4 1014.6,739.1 1015.5,738.5 1016.4,738.2 1017.3,738.6 1018.2,737.5 1019.1,737.5 1020.0,737.6 1020.9,738.6 1021.8,739.0 1022.7,738.6 1023.6,738.5 1024.5,739.1 1025.4,740.0 1026.3,739.3 1027.2,739.4 1028.1,739.1 1029.0,738.8 1029.9,739.1 1030.8,739.1 1031.7,738.9 1032.6,739.9 1033.5,740.1 1034.4,739.6 1035.3,738.7 1036.2,738.8 1037.1,738.6 1038.0,738.4 1038.9,738.3 1039.8,738.4 1040.7,738.4 1041.6,738.5 1042.5,738.5 1043.4,738.5 1044.3,738.4 1045.2,738.4 1046.1,738.4 1047.0,738.4 1047.9,738.5 1048.8,739.2 1049.7,739.3 1050.6,739.3 1051.5,739.4 1052.4,739.3 1053.3,739.3 1054.2,739.7 1055.1,739.3 1056.0,739.3 1056.9,739.7 1057.8,738.9 1058.7,739.7 1059.6,739.6 1060.5,740.3 1061.4,740.5 1062.3,740.5 1063.2,739.9 1064.1,740.6 1065.0,740.4 1065.9,740.2 1066.8,740.3 1067.7,740.4 1068.6,740.0 1069.5,740.0 1070.4,739.7 1071.3,739.9 1072.2,740.4 1073.1,740.7 1074.0,740.0 1074.9,740.4 1075.8,740.3 1076.7,740.2 1077.6,739.7 1078.5,739.5 1079.4,739.4 1080.3,739.8 1081.2,740.0 1082.1,740.3 1083.0,740.2 1083.9,740.3 1084.8,740.1 1085.7,740.4 1086.6,740.2 1087.5,741.1 1088.4,741.4 1089.3,741.3 1090.2,741.1 1091.1,741.5 1092.0,742.1 1092.9,742.5 1093.8,741.7 1094.7,742.4 1095.6,742.8 1096.5,742.6 1097.4,742.7 1098.3,742.7 1099.2,741.3 1100.1,740.7 1101.0,741.2 1101.9,740.2 1102.8,740.1 1103.7,740.4 1104.6,740.3 1105.5,740.1 1106.4,740.4 1107.3,740.3 1108.2,740.8 1109.1,740.7 1110.0,740.7 1110.9,741.5 1111.8,741.0 1112.7,741.9 1113.6,741.7 1114.5,742.2 1115.4,741.7 1116.3,742.1 1117.2,742.4 1118.1,742.5 1119.0,742.1 1119.9,742.0 1120.8,741.6 1121.7,741.5 1122.6,740.9 1123.5,740.8 1124.4,740.9 1125.3,741.1 1126.2,741.0 1127.1,740.7 1128.0,741.0 1128.9,742.2 1129.8,742.9 1130.7,742.6 1131.6,742.7 1132.5,742.6 1133.4,742.9 1134.3,742.3 1135.2,742.4 1136.1,741.6 1137.0,741.5 1137.9,741.5 1138.8,741.5 1139.7,741.5 1140.6,741.4 1141.5,741.4 1142.4,741.3 1143.3,741.4 1144.2,741.5 1145.1,741.5 1146.0,741.6 1146.9,741.7 1147.8,741.7 1148.7,741.8 1149.6,741.7 1150.5,741.7 1151.4,741.6 1152.3,741.7 1153.2,741.8 1154.1,741.9 1155.0,741.9 1155.9,741.8 1156.8,741.8 1157.7,741.8 1158.6,741.8 1159.5,741.8 1160.4,741.8 1161.3,741.8 1162.2,741.8 1163.1,741.9 1164.0,741.9 1164.9,742.0 1165.8,742.1 1166.7,742.1 1167.6,742.2 1168.5,742.2 1169.4,742.1 1170.3,742.1 1171.2,742.1 1172.1,742.2 1173.0,742.3 1173.9,742.3 1174.8,742.4 1175.7,742.3 1176.6,742.3 1177.5,742.3 1178.4,742.4 1179.3,742.4 1180.2,742.5 1181.1,742.6 1182.0,742.6 1182.9,742.6 1183.8,742.6 1184.7,742.6 1185.6,742.6 1186.5,742.6 1187.4,742.6 1188.3,742.6 1189.2,742.7 1190.1,742.8 1191.0,742.9 1191.9,742.9 1192.8,742.9 1193.7,742.9 1194.6,742.9 1195.5,742.9 1196.4,743.0 1197.3,743.0 1198.2,743.1 1199.1,743.1 1200.0,743.1 1200.9,743.1 1201.8,743.2 1202.7,743.2 1203.6,743.2 1204.5,743.2 1205.4,743.2 1206.3,743.2 1207.2,743.3 1208.1,743.4 1209.0,743.5 1209.9,743.5 1210.8,743.5 1211.7,743.5 1212.6,743.5 1213.5,743.5 1214.4,743.6 1215.3,743.6 1216.2,743.6 1217.1,743.6 1218.0,743.7 1218.9,743.7 1219.8,743.7 1220.7,743.8 1221.6,743.8 1222.5,743.9 1223.4,743.9 1224.3,744.0 1225.2,744.1 1226.1,744.1 1227.0,744.0 1227.9,744.0 1228.8,744.0 1229.7,744.0 1230.6,744.0 1231.5,744.0 1232.4,744.1 1233.3,744.1 1234.2,744.1 1235.1,744.1 1236.0,744.1 1236.9,744.2 1237.8,744.2 1238.7,744.2 1239.6,744.3 1240.5,744.3 1241.4,744.4 1242.3,744.4 1243.2,744.5 1244.1,744.5 1245.0,744.6 1245.9,744.6 1246.8,744.6 1247.7,744.6 1248.6,744.7 1249.5,744.7 1250.4,744.7 1251.3,744.7 1252.2,744.8 1253.1,744.9 1254.0,745.1 1254.9,745.2 1255.8,745.2 1256.7,745.1 1257.6,745.1 1258.5,745.1 1259.4,745.1 1260.3,745.1 1261.2,745.2 1262.1,745.2 1263.0,745.3 1263.9,745.3 1264.8,745.4 1265.7,745.4 1266.6,745.5 1267.5,745.5 1268.4,745.6 1269.3,745.6 1270.2,745.7 1271.1,745.7 1272.0,745.7 1272.9,745.8 1273.8,745.8 1274.7,745.8 1275.6,745.8 1276.5,745.9 1277.4,745.9 1278.3,745.9 1279.2,745.9 1280.1,746.0 1281.0,746.1 1281.9,746.3 1282.8,746.3 1283.7,746.3 1284.6,746.2 1285.5,746.2 1286.4,746.3 1287.3,746.3 1288.2,746.4 1289.1,746.4 1290.0,746.4 1290.9,746.5 1291.8,746.5 1292.7,746.5 1293.6,746.6 1294.5,746.6 1295.4,746.6 1296.3,746.6 1297.2,746.6 1298.1,746.7 1299.0,746.7 1299.9,746.8 1300.8,746.8 1301.7,746.9 1302.6,746.9 1303.5,747.0 1304.4,747.0 1305.3,747.1 1306.2,747.1 1307.1,747.1 1308.0,747.2 1308.9,747.2 1309.8,747.3 1310.7,747.3 1311.6,747.3 1312.5,747.3 1313.4,747.4 1314.3,747.4 1315.2,747.5 1316.1,747.5 1317.0,747.6 1317.9,747.6 1318.8,747.6 1319.7,747.6 1320.6,747.7 1321.5,747.7 1322.4,747.8 1323.3,747.8 1324.2,747.9 1325.1,747.9 1326.0,747.9 1326.9,747.9 1327.8,747.9 1328.7,748.0 1329.6,748.0 1330.5,748.1 1331.4,748.1 1332.3,748.1 1333.2,748.1 1334.1,748.2 1335.0,748.2 1335.9,748.3 1336.8,748.3 1337.7,748.3 1338.6,748.4 1339.5,748.5 1340.4,748.6 1341.3,748.6 1342.2,748.6 1343.1,748.6 1344.0,748.6 1344.9,748.7 1345.8,748.8 1346.7,748.8 1347.6,748.9 1348.5,748.9 1349.4,748.9 1350.3,748.9 1351.2,749.0 1352.1,749.1 1353.0,749.2 1353.9,749.3 1354.8,749.4 1355.7,749.3 1356.6,749.3 1357.5,749.3 1358.4,749.3 1359.3,749.3 1360.2,749.3 1361.1,749.4 1362.0,749.5 1362.9,749.6 1363.8,749.8 1364.7,749.9 1365.6,749.8 1366.5,749.8 1367.4,749.7 1368.3,749.7 1369.2,749.8 1370.1,749.9 1371.0,749.9 1371.9,749.9 1372.8,749.9 1373.7,749.9 1374.6,749.9 1375.5,750.0 1376.4,750.0 1377.3,750.0 1378.2,750.1 1379.1,750.1 1380.0,750.2 1380.9,750.3 1381.8,750.3 1382.7,750.3 1383.6,750.4 1384.5,750.4 1385.4,750.4 1386.3,750.5 1387.2,750.5 1388.1,750.5 1389.0,750.6 1389.9,750.6 1390.8,750.7 1391.7,750.7 1392.6,750.7 1393.5,750.7 1394.4,750.7 1395.3,750.7 1396.2,750.8 1397.1,750.9 1398.0,750.9 1398.9,751.0 1399.8,751.0 1400.7,751.1 1401.6,751.1 1402.5,751.1 1403.4,751.1 1404.3,751.1 1405.2,751.2 1406.1,751.2 1407.0,751.3 1407.9,751.3 1408.8,751.4 1409.7,751.4 1410.6,751.4 1411.5,751.4 1412.4,751.5 1413.3,751.5 1414.2,751.6 1415.1,751.7 1416.0,751.7 1416.9,751.7 1417.8,751.7 1418.7,751.7 1419.6,751.7 1420.5,751.8 1421.8,751.9"/>
<path stroke="#e377c2" d="M228.8,757.6 1240.0,756.0 1421.8,755.0"/>
<path stroke="#f7b6d2" d="M228.8,774.3 1240.0,771.9 1421.8,771.9"/>
<path stroke="#7f7f7f" d="M228.8,774.3 1240.0,771.9 1421.8,771.9"/>
<path stroke="#c7c7c7" d="M228.8,42.2 1421.8,42.2"/>
<path stroke="#bcbd22" d="M228.8,783.9 1240.0,781.5 1421.8,781.3"/>
<path stroke="#dbdb8d" d="M228.8,771.1 1240.0,768.2 1421.8,768.2"/>
<path stroke="#17becf" d="M228.8,719.0 229.8,719.0 230.7,719.0 231.6,718.9 232.5,718.9 233.4,719.0 234.3,719.1 235.2,719.1 236.1,719.2 237.0,719.2 237.9,719.3 238.8,719.3 239.7,719.3 240.6,719.3 241.5,719.2 242.4,719.2 243.3,719.2 244.2,719.2 245.1,719.2 246.0,719.2 246.9,719.2 247.8,719.1 248.7,719.0 249.6,719.0 250.5,719.1 251.4,719.1 252.3,719.1 253.2,719.1 254.1,719.1 255.0,719.2 255.9,719.2 256.8,719.2 257.7,719.3 258.6,719.3 259.5,719.3 260.4,719.4 261.3,719.4 262.2,719.4 263.1,719.4 264.0,719.4 264.9,719.3 265.8,719.3 266.7,719.3 267.6,719.2 268.5,719.2 269.4,719.1 270.3,719.1 271.2,719.1 272.1,719.2 273.0,719.2 273.9,719.2 274.8,719.3 275.7,719.5 276.6,719.5 277.5,719.5 278.4,719.4 279.3,719.3 280.2,719.3 281.1,719.3 282.0,719.4 282.9,719.4 283.8,719.5 284.7,719.5 285.6,719.6 286.5,719.7 287.4,719.7 288.3,719.6 289.2,719.4 290.1,719.4 291.0,719.4 291.9,719.6 292.8,719.7 293.7,719.7 294.6,719.7 295.5,719.8 296.4,719.9 297.3,719.9 298.2,719.8 299.1,719.6 300.0,719.6 300.9,719.6 301.8,719.6 302.7,719.7 303.6,719.7 304.5,719.7 305.4,719.8 306.3,719.9 307.2,719.9 308.1,719.8 309.0,719.7 309.9,719.6 310.8,719.6 311.7,719.6 312.6,719.7 313.5,719.7 314.4,719.7 315.3,719.7 316.2,719.8 317.1,719.8 318.0,719.8 318.9,719.8 319.8,719.8 320.7,719.8 321.6,719.8 322.5,719.8 323.4,719.8 324.3,719.8 325.2,719.8 326.1,719.8 327.0,719.8 327.9,719.8 328.8,719.8 329.7,719.9 330.6,719.9 331.5,719.9 332.4,719.9 333.3,719.9 334.2,719.9 335.1,719.9 336.0,719.9 336.9,720.0 337.8,720.0 338.7,720.0 339.6,720.1 340.5,720.1 341.4,720.0 342.3,720.0 343.2,720.0 344.1,720.1 345.0,720.1 345.9,720.1 346.8,720.1 347.7,720.1 348.6,720.1 349.5,720.0 350.4,720.0 351.3,719.9 352.2,720.0 353.1,720.0 354.0,720.1 354.9,720.1 355.8,720.1 356.7,720.0 357.6,720.0 358.5,720.0 359.4,720.0 360.3,720.0 361.2,720.0 362.1,720.0 363.0,720.0 363.9,720.0 364.8,720.0 365.7,720.0 366.6,720.1 367.5,720.1 368.4,720.2 369.3,720.1 370.2,720.1 371.1,720.1 372.0,720.1 372.9,720.1 373.8,720.1 374.7,720.1 375.6,720.1 376.5,720.2 377.4,720.3 378.3,720.3 379.2,720.3 380.1,720.3 381.0,720.2 381.9,720.2 382.8,720.2 383.7,720.3 384.6,720.4 385.5,720.4 386.4,720.4 387.3,720.2 388.2,720.1 389.1,720.1 390.0,720.2 390.9,720.3 391.8,720.5 392.7,720.6 393.6,720.6 394.5,720.5 395.4,720.4 396.3,720.4 397.2,720.4 398.1,720.4 399.0,720.4 399.9,720.5 400.8,720.5 401.7,720.6 402.6,720.6 403.5,720.6 404.4,720.6 405.3,720.6 406.2,720.6 407.1,720.6 408.0,720.5 408.9,720.5 409.8,720.5 410.7,720.5 411.6,720.4 412.5,720.3 413.4,720.3 414.3,720.4 415.2,720.4 416.1,720.4 417.0,720.4 417.9,720.5 418.8,720.6 419.7,720.7 420.6,720.7 421.5,720.8 422.4,720.8 423.3,720.7 424.2,720.7 425.1,720.7 426.0,720.7 426.9,720.7 427.8,720.7 428.7,720.8 429.6,720.8 430.5,720.8 431.4,720.7 432.3,720.7 433.2,720.7 434.1,720.6 435.0,720.5 435.9,720.4 436.8,720.4 437.7,720.4 438.6,720.5 439.5,720.5 440.4,720.5 441.3,720.6 442.2,720.6 443.1,720.6 444.0,720.6 444.9,720.6 445.8,720.5 446.7,720.5 447.6,720.6 448.5,720.8 449.4,720.9 450.3,720.9 451.2,720.9 452.1,721.0 453.0,721.0 453.9,721.0 454.8,721.0 455.7,720.9 456.6,720.9 457.5,720.9 458.4,720.9 459.3,720.8 460.2,720.8 461.1,720.8 462.0,720.9 462.9,720.9 463.8,720.9 464.7,720.8 465.6,720.7 466.5,720.6 467.4,720.6 468.3,720.6 469.2,720.6 470.1,720.6 471.0,720.6 471.9,720.7 472.8,720.7 473.7,720.7 474.6,720.7 475.5,720.8 476.4,720.9 477.3,720.9 478.2,720.9 479.1,720.8 480.0,720.8 480.9,720.8 481.8,720.8 482.7,720.7 483.6,720.7 484.5,720.7 485.4,720.7 486.3,720.8 487.2,720.8 488.1,720.8 489.0,720.8 489.9,720.8 490.8,720.8 491.7,720.8 492.6,720.8 493.5,720.8 494.4,720.8 495.3,720.8 496.2,720.8 497.1,720.8 498.0,720.8 498.9,720.9 499.8,720.9 500.7,720.9 501.6,720.9 502.5,720.9 503.4,721.0 504.3,721.0 505.2,721.0 506.1,721.0 507.0,721.1 507.9,721.1 508.8,721.1 509.7,721.1 510.6,721.1 511.5,721.1 512.4,721.1 513.3,721.0 514.2,721.0 515.1,721.0 516.0,721.0 516.9,721.0 517.8,721.2 518.7,721.3 519.6,721.3 520.5,721.3 521.4,721.2 522.3,721.2 523.2,721.2 524.1,721.2 525.0,721.2 525.9,721.2 526.8,721.2 527.7,721.1 528.6,721.1 529.5,721.2 530.4,721.2 531.3,721.2 532.2,721.3 533.1,721.3 534.0,721.3 534.9,721.3 535.8,721.6 536.7,721.6 537.6,721.6 538.5,721.2 539.4,721.1 540.3,721.2 541.2,721.3 542.1,721.3 543.0,721.3 543.9,721.2 544.8,721.1 545.7,721.1 546.6,721.1 547.5,721.1 548.4,721.1 549.3,721.1 550.2,721.2 551.1,721.6 552.0,722.0 552.9,721.9 553.8,721.5 554.7,721.2 555.6,721.2 556.5,721.1 557.4,721.0 558.3,720.9 559.2,720.9 560.1,721.0 561.0,721.1 561.9,721.2 562.8,721.1 563.7,721.1 564.6,721.0 565.5,721.0 566.4,721.0 567.3,721.1 568.2,721.1 569.1,721.2 570.0,721.2 570.9,721.3 571.8,721.4 572.7,721.4 573.6,721.3 574.5,721.2 575.4,721.2 576.3,721.1 577.2,721.1 578.1,721.2 579.0,721.2 579.9,721.2 580.8,721.2 581.7,721.2 582.6,721.2 583.5,721.3 584.4,721.4 585.3,721.5 586.2,721.5 587.1,721.4 588.0,721.3 588.9,721.3 589.8,721.3 590.7,721.2 591.6,721.1 592.5,721.0 593.4,721.0 594.3,721.1 595.2,721.1 596.1,721.2 597.0,721.2 597.9,721.3 598.8,721.4 599.7,721.5 600.6,721.4 601.5,721.3 602.4,721.1 603.3,721.1 604.2,721.1 605.1,721.2 606.0,721.3 606.9,721.3 607.8,721.3 608.7,721.3 609.6,721.3 610.5,721.3 611.4,721.4 612.3,721.4 613.2,721.4 614.1,721.4 615.0,721.4 615.9,721.5 616.8,721.5 617.7,721.4 618.6,721.2 619.5,721.1 620.4,721.1 621.3,721.2 622.2,721.2 623.1,721.2 624.0,721.2 624.9,721.3 625.8,721.4 626.7,721.4 627.6,721.4 628.5,721.3 629.4,721.3 630.3,721.3 631.2,721.3 632.1,721.3 633.0,721.4 633.9,721.4 634.8,721.4 635.7,721.5 636.6,721.5 637.5,721.5 638.4,721.5 639.3,721.4 640.2,721.4 641.1,721.4 642.0,721.5 642.9,721.6 643.8,722.0 644.7,722.1 645.6,722.5 646.5,722.5 647.4,722.1 648.3,721.8 649.2,721.5 650.1,721.4 651.0,721.4 651.9,721.4 652.8,721.5 653.7,721.6 654.6,721.6 655.5,721.6 656.4,721.7 657.3,721.7 658.2,721.7 659.1,721.7 660.0,721.7 660.9,721.8 661.8,721.7 662.7,721.6 663.6,721.5 664.5,721.5 665.4,721.4 666.3,721.4 667.2,721.4 668.1,721.5 669.0,721.7 669.9,721.9 670.8,722.0 671.7,721.9 672.6,721.9 673.5,721.8 674.4,721.8 675.3,721.8 676.2,721.6 677.1,721.5 678.0,721.5 678.9,721.6 679.8,721.6 680.7,721.7 681.6,721.7 682.5,721.7 683.4,721.8 684.3,721.8 685.2,721.8 686.1,721.9 687.0,721.9 687.9,721.9 688.8,721.9 689.7,721.8 690.6,721.7 691.5,721.7 692.4,721.7 693.3,721.8 694.2,721.9 695.1,721.9 696.0,721.9 696.9,721.9 697.8,721.9 698.7,721.9 699.6,721.9 700.5,721.8 701.4,721.8 702.3,721.8 703.2,721.8 704.1,721.7 705.0,721.7 705.9,721.7 706.8,722.2 707.7,722.6 708.6,722.7 709.5,722.9 710.4,723.2 711.3,723.8 712.2,724.0 713.1,723.4 714.0,723.0 714.9,722.2 715.8,721.9 716.7,722.5 717.6,723.6 718.5,724.2 719.4,724.1 720.3,723.8 721.2,723.0 722.1,723.3 723.0,722.0 723.9,722.2 724.8,721.8 725.7,722.5 726.6,721.8 727.5,723.5 728.4,723.7 729.3,724.1 730.2,723.8 731.1,723.6 732.0,723.0 732.9,723.3 733.8,724.0 734.7,724.7 735.6,723.8 736.5,723.1 737.4,722.6 738.3,723.0 739.2,723.1 740.1,724.3 741.0,723.9 741.9,724.8 742.8,724.5 743.7,724.3 744.6,724.5 745.5,722.6 746.4,723.3 747.3,723.0 748.2,722.9 749.1,722.7 750.0,722.4 750.9,722.9 751.8,723.8 752.7,724.2 753.6,725.2 754.5,724.3 755.4,724.3 756.3,723.9 757.2,723.7 758.1,723.6 759.0,724.0 759.9,724.6 760.8,724.4 761.7,724.8 762.6,724.4 763.5,724.2 764.4,722.4 765.3,723.9 766.2,725.1 767.1,725.0 768.0,724.3 768.9,724.5 769.8,724.3 770.7,724.3 771.6,723.4 772.5,723.7 773.4,723.8 774.3,723.7 775.2,723.2 776.1,722.8 777.0,722.9 777.9,722.7 778.8,722.6 779.7,722.6 780.6,722.6 781.5,722.7 782.4,722.7 783.3,722.7 784.2,722.8 785.1,723.1 786.0,723.2 786.9,723.4 787.8,723.2 788.7,723.1 789.6,723.0 790.5,723.0 791.4,723.1 792.3,723.1 793.2,723.2 794.1,723.2 795.0,723.0 795.9,722.8 796.8,722.8 797.7,722.7 798.6,722.8 799.5,722.8 800.4,722.8 801.3,722.8 802.2,722.8 803.1,722.8 804.0,722.8 804.9,722.7 805.8,722.7 806.7,722.7 807.6,722.7 808.5,722.9 809.4,723.0 810.3,723.1 811.2,723.0 812.1,722.9 813.0,722.7 813.9,722.7 814.8,722.8 815.7,722.9 816.6,723.0 817.5,723.0 818.4,723.0 819.3,723.0 820.2,723.1 821.1,723.1 822.0,723.0 822.9,722.9 823.8,722.9 824.7,723.0 825.6,723.0 826.5,723.0 827.4,723.0 828.3,723.0 829.2,722.9 830.1,722.9 831.0,722.9 831.9,723.0 832.8,723.0 833.7,723.1 834.6,723.1 835.5,723.1 836.4,723.1 837.3,723.2 838.2,723.2 839.1,723.2 840.0,723.1 840.9,723.1 841.8,723.2 842.7,723.2 843.6,723.3 844.5,723.3 845.4,723.2 846.3,723.1 847.2,723.0 848.1,723.0 849.0,723.0 849.9,723.0 850.8,723.0 851.7,723.0 852.6,723.1 853.5,723.1 854.4,723.2 855.3,723.2 856.2,723.2 857.1,723.2 858.0,723.3 858.9,723.3 859.8,723.2 860.7,723.2 861.6,723.2 862.5,723.3 863.4,723.5 864.3,723.6 865.2,723.6 866.1,723.6 867.0,723.6 867.9,723.6 868.8,723.6 869.7,723.5 870.6,723.3 871.5,723.3 872.4,723.3 873.3,723.3 874.2,723.3 875.1,723.3 876.0,723.3 876.9,723.3 877.8,723.3 878.7,723.3 879.6,723.4 880.5,723.4 881.4,723.5 882.3,723.5 883.2,723.5 884.1,723.4 885.0,723.4 885.9,723.5 886.8,723.6 887.7,723.7 888.6,724.1 889.5,724.4 890.4,724.6 891.3,724.6 892.2,724.6 893.1,724.2 894.0,724.1 894.9,723.8 895.8,723.6 896.7,723.7 897.6,724.0 898.5,724.6 899.4,724.9 900.3,725.0 901.2,725.4 902.1,725.0 903.0,725.3 903.9,725.2 904.8,725.0 905.7,724.4 906.6,724.4 907.5,723.9 908.4,723.6 909.3,723.5 910.2,723.6 911.1,723.7 912.0,723.8 912.9,723.8 913.8,723.9 914.7,723.9 915.6,723.9 916.5,723.9 917.4,723.9 918.3,723.7 919.2,723.9 920.1,724.2 921.0,725.1 921.9,725.1 922.8,725.7 923.7,725.7 924.6,725.1 925.5,725.2 926.4,725.7 927.3,726.0 928.2,726.0 929.1,725.2 930.0,725.3 930.9,724.6 931.8,724.0 932.7,724.2 933.6,724.1 934.5,724.0 935.4,723.9 936.3,723.9 937.2,724.0 938.1,724.1 939.0,724.2 939.9,724.3 940.8,724.3 941.7,724.3 942.6,724.3 943.5,724.3 944.4,724.2 945.3,724.1 946.2,724.1 947.1,724.1 948.0,724.2 948.9,724.2 949.8,724.2 950.7,724.2 951.6,724.0 952.5,724.2 953.4,724.4 954.3,725.1 955.2,725.7 956.1,726.1 957.0,726.1 957.9,725.9 958.8,726.1 959.7,725.7 960.6,724.7 961.5,724.9 962.4,724.7 963.3,724.3 964.2,724.4 965.1,724.4 966.0,724.4 966.9,724.4 967.8,724.4 968.7,724.2 969.6,724.3 970.5,724.6 971.4,724.7 972.3,724.7 973.2,724.5 974.1,724.8 975.0,724.8 975.9,725.5 976.8,725.5 977.7,726.3 978.6,725.9 979.5,726.1 980.4,725.8 981.3,725.3 982.2,724.4 983.1,724.3 984.0,724.2 984.9,724.4 985.8,724.5 986.7,724.6 987.6,724.6 988.5,724.6 989.4,724.5 990.3,724.5 991.2,724.5 992.1,724.6 993.0,724.6 993.9,724.8 994.8,725.2 995.7,725.4 996.6,726.3 997.5,726.0 998.4,726.0 999.3,725.9 1000.2,725.4 1001.1,726.3 1002.0,726.0 1002.9,724.8 1003.8,724.8 1004.7,724.8 1005.6,725.6 1006.5,725.4 1007.4,726.1 1008.3,725.6 1009.2,725.9 1010.1,726.4 1011.0,726.3 1011.9,726.0 1012.8,726.3 1013.7,726.7 1014.6,726.3 1015.5,725.8 1016.4,725.5 1017.3,725.8 1018.2,724.9 1019.1,724.9 1020.0,725.0 1020.9,725.9 1021.8,726.2 1022.7,725.8 1023.6,725.7 1024.5,726.2 1025.4,727.0 1026.3,726.3 1027.2,726.4 1028.1,726.2 1029.0,725.9 1029.9,726.2 1030.8,726.1 1031.7,726.0 1032.6,726.9 1033.5,727.1 1034.4,726.6 1035.3,725.8 1036.2,725.8 1037.1,725.6 1038.0,725.4 1038.9,725.3 1039.8,725.5 1040.7,725.5 1041.6,725.6 1042.5,725.6 1043.4,725.5 1044.3,725.4 1045.2,725.3 1046.1,725.4 1047.0,725.4 1047.9,725.5 1048.8,726.1 1049.7,726.1 1050.6,726.2 1051.5,726.2 1052.4,726.2 1053.3,726.1 1054.2,726.5 1055.1,726.0 1056.0,726.0 1056.9,726.4 1057.8,725.8 1058.7,726.5 1059.6,726.3 1060.5,726.9 1061.4,727.1 1062.3,727.0 1063.2,726.5 1064.1,727.1 1065.0,727.0 1065.9,726.8 1066.8,726.9 1067.7,726.9 1068.6,726.6 1069.5,726.5 1070.4,726.3 1071.3,726.4 1072.2,726.9 1073.1,727.2 1074.0,726.5 1074.9,726.9 1075.8,726.8 1076.7,726.7 1077.6,726.2 1078.5,726.0 1079.4,725.9 1080.3,726.2 1081.2,726.4 1082.1,726.7 1083.0,726.6 1083.9,726.7 1084.8,726.4 1085.7,726.7 1086.6,726.5 1087.5,727.3 1088.4,727.6 1089.3,727.5 1090.2,727.3 1091.1,727.7 1092.0,728.2 1092.9,728.5 1093.8,727.9 1094.7,728.4 1095.6,728.8 1096.5,728.6 1097.4,728.7 1098.3,728.7 1099.2,727.5 1100.1,726.9 1101.0,727.4 1101.9,726.5 1102.8,726.4 1103.7,726.6 1104.6,726.5 1105.5,726.3 1106.4,726.5 1107.3,726.5 1108.2,727.0 1109.1,726.8 1110.0,726.8 1110.9,727.5 1111.8,727.0 1112.7,727.8 1113.6,727.6 1114.5,728.0 1115.4,727.5 1116.3,727.9 1117.2,728.2 1118.1,728.3 1119.0,727.9 1119.9,727.8 1120.8,727.5 1121.7,727.4 1122.6,726.8 1123.5,726.8 1124.4,726.8 1125.3,726.9 1126.2,726.8 1127.1,726.6 1128.0,726.9 1128.9,728.0 1129.8,728.5 1130.7,728.3 1131.6,728.3 1132.5,728.3 1133.4,728.5 1134.3,728.0 1135.2,728.1 1136.1,727.4 1137.0,727.3 1137.9,727.3 1138.8,727.3 1139.7,727.2 1140.6,727.1 1141.5,727.1 1142.4,727.0 1143.3,727.1 1144.2,727.1 1145.1,727.2 1146.0,727.2 1146.9,727.2 1147.8,727.3 1148.7,727.3 1149.6,727.3 1150.5,727.2 1151.4,727.2 1152.3,727.3 1153.2,727.4 1154.1,727.5 1155.0,727.4 1155.9,727.3 1156.8,727.3 1157.7,727.3 1158.6,727.3 1159.5,727.3 1160.4,727.2 1161.3,727.2 1162.2,727.2 1163.1,727.3 1164.0,727.3 1164.9,727.3 1165.8,727.4 1166.7,727.5 1167.6,727.6 1168.5,727.5 1169.4,727.4 1170.3,727.4 1171.2,727.4 1172.1,727.5 1173.0,727.6 1173.9,727.6 1174.8,727.6 1175.7,727.6 1176.6,727.5 1177.5,727.5 1178.4,727.6 1179.3,727.7 1180.2,727.7 1181.1,727.8 1182.0,727.8 1182.9,727.7 1183.8,727.7 1184.7,727.7 1185.6,727.7 1186.5,727.7 1187.4,727.7 1188.3,727.7 1189.2,727.8 1190.1,727.9 1191.0,727.9 1191.9,727.9 1192.8,727.9 1193.7,727.9 1194.6,727.9 1195.5,727.9 1196.4,728.0 1197.3,728.0 1198.2,728.0 1199.1,728.0 1200.0,728.0 1200.9,728.1 1201.8,728.1 1202.7,728.1 1203.6,728.0 1204.5,728.0 1205.4,728.1 1206.3,728.1 1207.2,728.1 1208.1,728.2 1209.0,728.3 1209.9,728.3 1210.8,728.3 1211.7,728.3 1212.6,728.3 1213.5,728.3 1214.4,728.3 1215.3,728.3 1216.2,728.3 1217.1,728.3 1218.0,728.3 1218.9,728.4 1219.8,728.4 1220.7,728.4 1221.6,728.4 1222.5,728.5 1223.4,728.5 1224.3,728.6 1225.2,728.7 1226.1,728.6 1227.0,728.6 1227.9,728.5 1228.8,728.5 1229.7,728.5 1230.6,728.5 1231.5,728.6 1232.4,728.6 1233.3,728.6 1234.2,728.6 1235.1,728.6 1236.0,728.6 1236.9,728.6 1237.8,728.6 1238.7,728.6 1239.6,728.7 1240.5,728.7 1241.4,728.8 1242.3,728.9 1243.2,728.9 1244.1,729.0 1245.0,729.0 1245.9,729.0 1246.8,729.1 1247.7,729.1 1248.6,729.1 1249.5,729.1 1250.4,729.1 1251.3,729.2 1252.2,729.2 1253.1,729.3 1254.0,729.5 1254.9,729.7 1255.8,729.7 1256.7,729.6 1257.6,729.5 1258.5,729.5 1259.4,729.5 1260.3,729.6 1261.2,729.6 1262.1,729.7 1263.0,729.7 1263.9,729.8 1264.8,729.8 1265.7,729.9 1266.6,729.9 1267.5,730.0 1268.4,730.1 1269.3,730.1 1270.2,730.2 1271.1,730.2 1272.0,730.2 1272.9,730.3 1273.8,730.3 1274.7,730.3 1275.6,730.3 1276.5,730.4 1277.4,730.4 1278.3,730.4 1279.2,730.4 1280.1,730.5 1281.0,730.6 1281.9,730.8 1282.8,730.8 1283.7,730.8 1284.6,730.8 1285.5,730.8 1286.4,730.8 1287.3,730.9 1288.2,730.9 1289.1,730.9 1290.0,731.0 1290.9,731.0 1291.8,731.0 1292.7,731.1 1293.6,731.1 1294.5,731.1 1295.4,731.1 1296.3,731.1 1297.2,731.2 1298.1,731.2 1299.0,731.3 1299.9,731.3 1300.8,731.4 1301.7,731.4 1302.6,731.5 1303.5,731.5 1304.4,731.6 1305.3,731.6 1306.2,731.7 1307.1,731.7 1308.0,731.8 1308.9,731.8 1309.8,731.9 1310.7,731.9 1311.6,731.9 1312.5,731.9 1313.4,731.9 1314.3,732.0 1315.2,732.1 1316.1,732.1 1317.0,732.2 1317.9,732.2 1318.8,732.2 1319.7,732.2 1320.6,732.3 1321.5,732.3 1322.4,732.4 1323.3,732.5 1324.2,732.5 1325.1,732.5 1326.0,732.5 1326.9,732.5 1327.8,732.6 1328.7,732.6 1329.6,732.7 1330.5,732.7 1331.4,732.8 1332.3,732.8 1333.2,732.8 1334.1,732.8 1335.0,732.9 1335.9,732.9 1336.8,733.0 1337.7,733.0 1338.6,733.1 1339.5,733.2 1340.4,733.3 1341.3,733.3 1342.2,733.3 1343.1,733.3 1344.0,733.3 1344.9,733.4 1345.8,733.4 1346.7,733.5 1347.6,733.6 1348.5,733.6 1349.4,733.6 1350.3,733.6 1351.2,733.7 1352.1,733.8 1353.0,733.8 1353.9,733.9 1354.8,734.0 1355.7,734.0 1356.6,734.0 1357.5,734.0 1358.4,734.1 1359.3,734.1 1360.2,734.0 1361.1,734.1 1362.0,734.2 1362.9,734.3 1363.8,734.5 1364.7,734.6 1365.6,734.5 1366.5,734.5 1367.4,734.4 1368.3,734.5 1369.2,734.5 1370.1,734.6 1371.0,734.7 1371.9,734.7 1372.8,734.7 1373.7,734.7 1374.6,734.7 1375.5,734.7 1376.4,734.8 1377.3,734.8 1378.2,734.9 1379.1,734.9 1380.0,735.0 1380.9,735.1 1381.8,735.1 1382.7,735.2 1383.6,735.2 1384.5,735.2 1385.4,735.2 1386.3,735.3 1387.2,735.3 1388.1,735.4 1389.0,735.4 1389.9,735.4 1390.8,735.5 1391.7,735.5 1392.6,735.5 1393.5,735.5 1394.4,735.5 1395.3,735.5 1396.2,735.6 1397.1,735.7 1398.0,735.8 1398.9,735.8 1399.8,735.9 1400.7,735.9 1401.6,735.9 1402.5,736.0 1403.4,736.0 1404.3,736.0 1405.2,736.0 1406.1,736.0 1407.0,736.1 1407.9,736.2 1408.8,736.2 1409.7,736.3 1410.6,736.3 1411.5,736.3 1412.4,736.3 1413.3,736.4 1414.2,736.5 1415.1,736.5 1416.0,736.6 1416.9,736.6 1417.8,736.6 1418.7,736.6 1419.6,736.6 1420.5,736.7 1421.8,736.8"/>
<path stroke="#9edae5" d="M228.8,670.1 229.8,670.0 230.7,669.9 231.6,669.9 232.5,669.9 233.4,670.0 234.3,670.1 235.2,670.2 236.1,670.2 237.0,670.3 237.9,670.4 238.8,670.4 239.7,670.4 240.6,670.3 241.5,670.2 242.4,670.2 243.3,670.2 244.2,670.2 245.1,670.2 246.0,670.2 246.9,670.2 247.8,670.0 248.7,669.9 249.6,669.9 250.5,669.9 251.4,670.0 252.3,670.0 253.2,670.0 254.1,670.1 255.0,670.1 255.9,670.2 256.8,670.2 257.7,670.3 258.6,670.3 259.5,670.3 260.4,670.4 261.3,670.4 262.2,670.5 263.1,670.5 264.0,670.4 264.9,670.3 265.8,670.2 266.7,670.2 267.6,670.1 268.5,670.0 269.4,669.9 270.3,669.9 271.2,669.9 272.1,670.0 273.0,670.0 273.9,670.1 274.8,670.3 275.7,670.4 276.6,670.5 277.5,670.5 278.4,670.3 279.3,670.1 280.2,670.1 281.1,670.2 282.0,670.3 282.9,670.4 283.8,670.4 284.7,670.5 285.6,670.7 286.5,670.8 287.4,670.8 288.3,670.6 289.2,670.3 290.1,670.2 291.0,670.3 291.9,670.5 292.8,670.7 293.7,670.7 294.6,670.8 295.5,670.9 296.4,671.0 297.3,671.0 298.2,670.8 299.1,670.6 300.0,670.5 300.9,670.5 301.8,670.6 302.7,670.7 303.6,670.7 304.5,670.7 305.4,670.8 306.3,670.9 307.2,671.0 308.1,670.9 309.0,670.6 309.9,670.4 310.8,670.4 311.7,670.5 312.6,670.6 313.5,670.6 314.4,670.6 315.3,670.7 316.2,670.7 317.1,670.7 318.0,670.7 318.9,670.7 319.8,670.7 320.7,670.7 321.6,670.7 322.5,670.7 323.4,670.7 324.3,670.7 325.2,670.7 326.1,670.7 327.0,670.6 327.9,670.7 328.8,670.7 329.7,670.8 330.6,670.9 331.5,670.9 332.4,670.9 333.3,670.8 334.2,670.8 335.1,670.8 336.0,670.9 336.9,670.9 337.8,670.9 338.7,671.0 339.6,671.2 340.5,671.3 341.4,671.1 342.3,671.0 343.2,670.9 344.1,671.0 345.0,671.0 345.9,671.0 346.8,671.0 347.7,671.0 348.6,671.0 349.5,670.9 350.4,670.8 351.3,670.8 352.2,670.8 353.1,670.9 354.0,671.0 354.9,671.0 355.8,671.0 356.7,670.9 357.6,670.8 358.5,670.8 359.4,670.8 360.3,670.8 361.2,670.8 362.1,670.8 363.0,670.8 363.9,670.7 364.8,670.7 365.7,670.8 366.6,670.9 367.5,671.0 368.4,671.0 369.3,671.0 370.2,670.9 371.1,670.8 372.0,670.8 372.9,670.8 373.8,670.9 374.7,670.9 375.6,670.9 376.5,671.0 377.4,671.1 378.3,671.2 379.2,671.2 380.1,671.1 381.0,671.0 381.9,671.0 382.8,671.1 383.7,671.2 384.6,671.3 385.5,671.4 386.4,671.2 387.3,671.0 388.2,670.8 389.1,670.8 390.0,671.0 390.9,671.1 391.8,671.5 392.7,671.7 393.6,671.9 394.5,671.6 395.4,671.3 396.3,671.2 397.2,671.2 398.1,671.3 399.0,671.3 399.9,671.3 400.8,671.4 401.7,671.4 402.6,671.5 403.5,671.5 404.4,671.4 405.3,671.4 406.2,671.4 407.1,671.4 408.0,671.4 408.9,671.4 409.8,671.3 410.7,671.2 411.6,671.1 412.5,671.0 413.4,671.0 414.3,671.0 415.2,671.0 416.1,671.0 417.0,671.1 417.9,671.3 418.8,671.5 419.7,671.5 420.6,671.8 421.5,672.0 422.4,672.0 423.3,671.7 424.2,671.5 425.1,671.5 426.0,671.5 426.9,671.6 427.8,671.6 428.7,671.7 429.6,671.7 430.5,671.7 431.4,671.6 432.3,671.5 433.2,671.5 434.1,671.4 435.0,671.2 435.9,671.1 436.8,671.1 437.7,671.1 438.6,671.2 439.5,671.2 440.4,671.3 441.3,671.4 442.2,671.4 443.1,671.5 444.0,671.4 444.9,671.3 445.8,671.3 446.7,671.3 447.6,671.4 448.5,671.7 449.4,671.9 450.3,672.0 451.2,672.0 452.1,672.0 453.0,672.0 453.9,672.0 454.8,672.0 455.7,672.0 456.6,672.0 457.5,671.9 458.4,671.8 459.3,671.7 460.2,671.7 461.1,671.8 462.0,671.9 462.9,672.0 463.8,672.0 464.7,671.8 465.6,671.6 466.5,671.4 467.4,671.4 468.3,671.4 469.2,671.4 470.1,671.5 471.0,671.5 471.9,671.5 472.8,671.6 473.7,671.6 474.6,671.7 475.5,671.8 476.4,671.9 477.3,671.9 478.2,671.9 479.1,671.8 480.0,671.8 480.9,671.8 481.8,671.7 482.7,671.6 483.6,671.6 484.5,671.6 485.4,671.6 486.3,671.7 487.2,671.7 488.1,671.7 489.0,671.7 489.9,671.7 490.8,671.7 491.7,671.7 492.6,671.7 493.5,671.8 494.4,671.8 495.3,671.8 496.2,671.8 497.1,671.8 498.0,671.8 498.9,671.9 499.8,672.0 500.7,672.0 501.6,672.0 502.5,672.0 503.4,672.0 504.3,672.0 505.2,672.1 506.1,672.2 507.0,672.2 507.9,672.3 508.8,672.3 509.7,672.3 510.6,672.3 511.5,672.3 512.4,672.2 513.3,672.2 514.2,672.1 515.1,672.1 516.0,672.1 516.9,672.2 517.8,672.5 518.7,672.9 519.6,672.9 520.5,672.7 521.4,672.5 522.3,672.5 523.2,672.5 524.1,672.5 525.0,672.5 525.9,672.5 526.8,672.4 527.7,672.4 528.6,672.4 529.5,672.4 530.4,672.5 531.3,672.5 532.2,672.5 533.1,672.6 534.0,672.7 534.9,672.7 535.8,673.4 536.7,673.6 537.6,673.7 538.5,672.7 539.4,672.2 540.3,672.4 541.2,672.6 542.1,672.7 543.0,672.5 543.9,672.4 544.8,672.3 545.7,672.2 546.6,672.3 547.5,672.3 548.4,672.3 549.3,672.3 550.2,672.4 551.1,673.4 552.0,674.5 552.9,674.3 553.8,673.4 554.7,672.4 555.6,672.6 556.5,672.3 557.4,672.1 558.3,672.0 559.2,672.0 560.1,672.1 561.0,672.3 561.9,672.4 562.8,672.4 563.7,672.2 564.6,672.1 565.5,672.0 566.4,672.1 567.3,672.2 568.2,672.3 569.1,672.4 570.0,672.5 570.9,672.6 571.8,672.7 572.7,672.7 573.6,672.6 574.5,672.5 575.4,672.4 576.3,672.4 577.2,672.4 578.1,672.4 579.0,672.4 579.9,672.4 580.8,672.5 581.7,672.5 582.6,672.5 583.5,672.7 584.4,672.9 585.3,673.2 586.2,673.1 587.1,672.9 588.0,672.7 588.9,672.7 589.8,672.7 590.7,672.5 591.6,672.3 592.5,672.1 593.4,672.1 594.3,672.2 595.2,672.3 596.1,672.4 597.0,672.4 597.9,672.7 598.8,672.9 599.7,673.2 600.6,673.1 601.5,672.7 602.4,672.4 603.3,672.2 604.2,672.4 605.1,672.5 606.0,672.6 606.9,672.6 607.8,672.7 608.7,672.7 609.6,672.7 610.5,672.7 611.4,672.8 612.3,672.8 613.2,672.8 614.1,672.8 615.0,672.9 615.9,672.9 616.8,672.9 617.7,672.8 618.6,672.5 619.5,672.4 620.4,672.4 621.3,672.4 622.2,672.5 623.1,672.5 624.0,672.5 624.9,672.7 625.8,672.8 626.7,672.9 627.6,672.8 628.5,672.7 629.4,672.6 630.3,672.6 631.2,672.6 632.1,672.7 633.0,672.7 633.9,672.8 634.8,672.8 635.7,673.0 636.6,673.0 637.5,673.0 638.4,672.9 639.3,672.8 640.2,672.8 641.1,672.9 642.0,672.9 642.9,673.0 643.8,674.1 644.7,674.4 645.6,675.5 646.5,675.5 647.4,674.3 648.3,673.7 649.2,673.1 650.1,672.7 651.0,672.7 651.9,672.9 652.8,673.0 653.7,673.1 654.6,673.1 655.5,673.2 656.4,673.3 657.3,673.3 658.2,673.3 659.1,673.3 660.0,673.4 660.9,673.4 661.8,673.3 662.7,673.1 663.6,672.9 664.5,672.9 665.4,672.9 666.3,672.9 667.2,672.9 668.1,672.9 669.0,673.4 669.9,674.0 670.8,674.0 671.7,673.8 672.6,673.7 673.5,673.6 674.4,673.6 675.3,673.5 676.2,673.3 677.1,673.2 678.0,673.1 678.9,673.2 679.8,673.3 680.7,673.4 681.6,673.4 682.5,673.5 683.4,673.6 684.3,673.6 685.2,673.7 686.1,673.7 687.0,673.8 687.9,673.8 688.8,673.7 689.7,673.6 690.6,673.4 691.5,673.3 692.4,673.4 693.3,673.5 694.2,673.6 695.1,673.6 696.0,673.6 696.9,673.6 697.8,673.6 698.7,673.6 699.6,673.5 700.5,673.4 701.4,673.4 702.3,673.4 703.2,673.3 704.1,673.2 705.0,673.0 705.9,673.1 706.8,674.4 707.7,675.6 708.6,675.8 709.5,676.3 710.4,677.0 711.3,678.6 712.2,679.2 713.1,677.5 714.0,676.2 714.9,674.1 715.8,673.3 716.7,674.9 717.6,678.0 718.5,679.7 719.4,679.3 720.3,678.6 721.2,676.4 722.1,677.3 723.0,673.7 723.9,674.3 724.8,673.0 725.7,675.0 726.6,673.1 727.5,677.4 728.4,678.0 729.3,679.2 730.2,678.2 731.1,677.8 732.0,676.0 732.9,676.8 733.8,678.8 734.7,680.6 735.6,678.2 736.5,676.3 737.4,675.0 738.3,675.8 739.2,676.2 740.1,679.4 741.0,678.1 741.9,680.6 742.8,679.8 743.7,679.1 744.6,679.8 745.5,674.8 746.4,676.6 747.3,675.9 748.2,675.6 749.1,675.1 750.0,674.2 750.9,675.4 751.8,677.9 752.7,678.9 753.6,681.4 754.5,678.9 755.4,678.8 756.3,677.9 757.2,677.2 758.1,676.9 759.0,677.9 759.9,679.6 760.8,678.9 761.7,680.0 762.6,678.9 763.5,678.3 764.4,673.9 765.3,677.9 766.2,680.9 767.1,680.6 768.0,679.0 768.9,679.6 769.8,679.0 770.7,678.8 771.6,676.3 772.5,677.1 773.4,677.1 774.3,677.0 775.2,675.5 776.1,674.5 777.0,674.9 777.9,674.4 778.8,674.2 779.7,674.1 780.6,674.1 781.5,674.2 782.4,674.3 783.3,674.4 784.2,674.5 785.1,675.1 786.0,675.6 786.9,675.9 787.8,675.4 788.7,675.2 789.6,675.1 790.5,674.9 791.4,675.1 792.3,675.2 793.2,675.3 794.1,675.2 795.0,674.9 795.9,674.6 796.8,674.4 797.7,674.3 798.6,674.3 799.5,674.3 800.4,674.2 801.3,674.2 802.2,674.2 803.1,674.2 804.0,674.2 804.9,674.2 805.8,674.1 806.7,674.1 807.6,674.1 808.5,674.3 809.4,674.6 810.3,674.6 811.2,674.5 812.1,674.3 813.0,674.0 813.9,674.0 814.8,674.1 815.7,674.3 816.6,674.4 817.5,674.4 818.4,674.5 819.3,674.7 820.2,674.9 821.1,674.9 822.0,674.6 822.9,674.3 823.8,674.3 824.7,674.3 825.6,674.3 826.5,674.3 827.4,674.4 828.3,674.3 829.2,674.2 830.1,674.2 831.0,674.2 831.9,674.3 832.8,674.4 833.7,674.5 834.6,674.5 835.5,674.5 836.4,674.5 837.3,674.6 838.2,674.6 839.1,674.5 840.0,674.5 840.9,674.5 841.8,674.5 842.7,674.6 843.6,674.7 844.5,674.7 845.4,674.6 846.3,674.4 847.2,674.3 848.1,674.2 849.0,674.2 849.9,674.2 850.8,674.2 851.7,674.3 852.6,674.3 853.5,674.4 854.4,674.5 855.3,674.5 856.2,674.5 857.1,674.6 858.0,674.6 858.9,674.6 859.8,674.5 860.7,674.5 861.6,674.5 862.5,674.7 863.4,674.9 864.3,675.1 865.2,675.1 866.1,675.1 867.0,675.1 867.9,675.1 868.8,675.1 869.7,674.9 870.6,674.7 871.5,674.6 872.4,674.6 873.3,674.6 874.2,674.7 875.1,674.7 876.0,674.7 876.9,674.6 877.8,674.6 878.7,674.6 879.6,674.7 880.5,674.8 881.4,674.9 882.3,674.9 883.2,674.9 884.1,674.8 885.0,674.8 885.9,674.9 886.8,675.1 887.7,675.5 888.6,676.3 889.5,677.3 890.4,677.6 891.3,677.7 892.2,677.7 893.1,676.6 894.0,676.5 894.9,675.7 895.8,675.1 896.7,675.3 897.6,676.1 898.5,677.7 899.4,678.4 900.3,678.7 901.2,679.8 902.1,678.8 903.0,679.3 903.9,679.1 904.8,678.5 905.7,677.0 906.6,677.1 907.5,675.9 908.4,675.2 909.3,674.9 910.2,675.1 911.1,675.3 912.0,675.5 912.9,675.5 913.8,675.5 914.7,675.6 915.6,675.6 916.5,675.6 917.4,675.5 918.3,675.2 919.2,675.6 920.1,676.5 921.0,678.8 921.9,679.0 922.8,680.6 923.7,680.4 924.6,678.7 925.5,679.1 926.4,680.1 927.3,681.0 928.2,681.0 929.1,678.8 930.0,679.0 930.9,677.1 931.8,675.7 932.7,676.2 933.6,675.9 934.5,675.8 935.4,675.6 936.3,675.6 937.2,675.7 938.1,676.0 939.0,676.1 939.9,676.2 940.8,676.2 941.7,676.2 942.6,676.2 943.5,676.2 944.4,676.1 945.3,675.9 946.2,675.9 947.1,675.9 948.0,676.0 948.9,676.0 949.8,676.0 950.7,676.0 951.6,675.6 952.5,676.1 953.4,676.8 954.3,678.5 955.2,680.0 956.1,680.9 957.0,680.9 957.9,680.3 958.8,680.8 959.7,679.8 960.6,677.3 961.5,677.8 962.4,677.1 963.3,676.2 964.2,676.3 965.1,676.3 966.0,676.4 966.9,676.4 967.8,676.3 968.7,676.1 969.6,676.4 970.5,677.2 971.4,677.4 972.3,677.3 973.2,676.8 974.1,677.5 975.0,677.5 975.9,679.5 976.8,679.3 977.7,681.4 978.6,680.4 979.5,680.8 980.4,680.0 981.3,678.7 982.2,676.6 983.1,676.2 984.0,676.1 984.9,676.3 985.8,676.6 986.7,676.7 987.6,676.8 988.5,676.7 989.4,676.6 990.3,676.6 991.2,676.6 992.1,676.8 993.0,676.7 993.9,677.3 994.8,678.4 995.7,678.8 996.6,681.2 997.5,680.5 998.4,680.5 999.3,680.1 1000.2,678.6 1001.1,680.8 1002.0,680.1 1002.9,676.8 1003.8,676.9 1004.7,676.9 1005.6,679.0 1006.5,678.4 1007.4,680.4 1008.3,679.1 1009.2,679.8 1010.1,681.0 1011.0,680.8 1011.9,679.9 1012.8,680.7 1013.7,681.6 1014.6,680.7 1015.5,679.4 1016.4,678.7 1017.3,679.5 1018.2,677.1 1019.1,677.0 1020.0,677.2 1020.9,679.5 1021.8,680.3 1022.7,679.4 1023.6,679.1 1024.5,680.4 1025.4,682.4 1026.3,680.8 1027.2,681.1 1028.1,680.4 1029.0,679.6 1029.9,680.4 1030.8,680.2 1031.7,679.8 1032.6,682.2 1033.5,682.6 1034.4,681.4 1035.3,679.1 1036.2,679.4 1037.1,678.8 1038.0,678.4 1038.9,678.1 1039.8,678.3 1040.7,678.3 1041.6,678.5 1042.5,678.5 1043.4,678.3 1044.3,678.2 1045.2,678.1 1046.1,678.2 1047.0,678.2 1047.9,678.2 1048.8,679.8 1049.7,680.0 1050.6,680.1 1051.5,680.2 1052.4,680.0 1053.3,680.1 1054.2,681.0 1055.1,679.9 1056.0,679.8 1056.9,680.7 1057.8,678.9 1058.7,680.7 1059.6,680.4 1060.5,682.1 1061.4,682.6 1062.3,682.5 1063.2,681.0 1064.1,682.6 1065.0,682.1 1065.9,681.6 1066.8,681.9 1067.7,682.0 1068.6,681.1 1069.5,681.0 1070.4,680.4 1071.3,680.7 1072.2,682.0 1073.1,682.7 1074.0,680.9 1074.9,681.9 1075.8,681.5 1076.7,681.4 1077.6,680.1 1078.5,679.6 1079.4,679.5 1080.3,680.2 1081.2,680.6 1082.1,681.3 1083.0,681.0 1083.9,681.3 1084.8,680.7 1085.7,681.5 1086.6,680.9 1087.5,683.0 1088.4,683.8 1089.3,683.6 1090.2,683.0 1091.1,683.8 1092.0,685.2 1092.9,686.0 1093.8,684.2 1094.7,685.7 1095.6,686.7 1096.5,686.2 1097.4,686.4 1098.3,686.3 1099.2,683.0 1100.1,681.5 1101.0,682.8 1101.9,680.5 1102.8,680.2 1103.7,680.8 1104.6,680.5 1105.5,680.1 1106.4,680.7 1107.3,680.5 1108.2,681.7 1109.1,681.3 1110.0,681.3 1110.9,683.3 1111.8,682.2 1112.7,684.3 1113.6,683.7 1114.5,684.9 1115.4,683.7 1116.3,684.7 1117.2,685.4 1118.1,685.6 1119.0,684.6 1119.9,684.4 1120.8,683.6 1121.7,683.3 1122.6,682.0 1123.5,681.8 1124.4,681.9 1125.3,682.3 1126.2,682.1 1127.1,681.5 1128.0,682.2 1128.9,685.0 1129.8,686.5 1130.7,685.9 1131.6,686.1 1132.5,686.0 1133.4,686.7 1134.3,685.2 1135.2,685.5 1136.1,683.5 1137.0,683.2 1137.9,683.2 1138.8,683.4 1139.7,683.3 1140.6,683.0 1141.5,683.0 1142.4,683.0 1143.3,683.2 1144.2,683.3 1145.1,683.5 1146.0,683.6 1146.9,683.8 1147.8,684.0 1148.7,684.0 1149.6,683.9 1150.5,683.8 1151.4,683.7 1152.3,683.9 1153.2,684.1 1154.1,684.2 1155.0,684.2 1155.9,684.1 1156.8,684.1 1157.7,684.2 1158.6,684.2 1159.5,684.1 1160.4,684.1 1161.3,684.2 1162.2,684.2 1163.1,684.3 1164.0,684.4 1164.9,684.5 1165.8,684.7 1166.7,684.9 1167.6,684.9 1168.5,684.9 1169.4,684.8 1170.3,684.8 1171.2,684.9 1172.1,685.0 1173.0,685.2 1173.9,685.4 1174.8,685.4 1175.7,685.3 1176.6,685.3 1177.5,685.3 1178.4,685.4 1179.3,685.6 1180.2,685.8 1181.1,685.9 1182.0,685.9 1182.9,685.9 1183.8,685.9 1184.7,686.0 1185.6,686.0 1186.5,686.0 1187.4,686.0 1188.3,686.1 1189.2,686.3 1190.1,686.5 1191.0,686.6 1191.9,686.7 1192.8,686.7 1193.7,686.7 1194.6,686.8 1195.5,686.9 1196.4,687.0 1197.3,687.1 1198.2,687.2 1199.1,687.3 1200.0,687.4 1200.9,687.4 1201.8,687.5 1202.7,687.6 1203.6,687.6 1204.5,687.7 1205.4,687.7 1206.3,687.8 1207.2,688.0 1208.1,688.3 1209.0,688.6 1209.9,688.6 1210.8,688.6 1211.7,688.5 1212.6,688.6 1213.5,688.6 1214.4,688.7 1215.3,688.8 1216.2,688.9 1217.1,689.0 1218.0,689.1 1218.9,689.2 1219.8,689.3 1220.7,689.4 1221.6,689.5 1222.5,689.6 1223.4,689.8 1224.3,690.0 1225.2,690.1 1226.1,690.2 1227.0,690.1 1227.9,690.0 1228.8,690.0 1229.7,690.1 1230.6,690.2 1231.5,690.2 1232.4,690.3 1233.3,690.3 1234.2,690.4 1235.1,690.4 1236.0,690.5 1236.9,690.6 1237.8,690.7 1238.7,690.8 1239.6,690.9 1240.5,691.1 1241.4,691.3 1242.3,691.4 1243.2,691.5 1244.1,691.6 1245.0,691.8 1245.9,691.9 1246.8,691.9 1247.7,692.0 1248.6,692.1 1249.5,692.2 1250.4,692.3 1251.3,692.3 1252.2,692.4 1253.1,692.8 1254.0,693.2 1254.9,693.5 1255.8,693.5 1256.7,693.4 1257.6,693.3 1258.5,693.3 1259.4,693.4 1260.3,693.5 1261.2,693.7 1262.1,693.8 1263.0,693.9 1263.9,694.1 1264.8,694.2 1265.7,694.3 1266.6,694.4 1267.5,694.6 1268.4,694.7 1269.3,694.9 1270.2,695.0 1271.1,695.1 1272.0,695.2 1272.9,695.3 1273.8,695.4 1274.7,695.5 1275.6,695.5 1276.5,695.6 1277.4,695.7 1278.3,695.8 1279.2,695.9 1280.1,696.0 1281.0,696.4 1281.9,696.7 1282.8,696.8 1283.7,696.8 1284.6,696.7 1285.5,696.8 1286.4,696.9 1287.3,697.0 1288.2,697.1 1289.1,697.2 1290.0,697.3 1290.9,697.4 1291.8,697.5 1292.7,697.6 1293.6,697.7 1294.5,697.8 1295.4,697.8 1296.3,697.9 1297.2,698.0 1298.1,698.2 1299.0,698.3 1299.9,698.4 1300.8,698.6 1301.7,698.7 1302.6,698.8 1303.5,699.0 1304.4,699.1 1305.3,699.2 1306.2,699.4 1307.1,699.5 1308.0,699.6 1308.9,699.8 1309.8,699.9 1310.7,700.1 1311.6,700.1 1312.5,700.2 1313.4,700.2 1314.3,700.4 1315.2,700.5 1316.1,700.7 1317.0,700.8 1317.9,700.9 1318.8,701.0 1319.7,701.1 1320.6,701.2 1321.5,701.4 1322.4,701.5 1323.3,701.7 1324.2,701.8 1325.1,701.8 1326.0,701.9 1326.9,702.0 1327.8,702.1 1328.7,702.2 1329.6,702.4 1330.5,702.5 1331.4,702.6 1332.3,702.7 1333.2,702.8 1334.1,702.9 1335.0,703.0 1335.9,703.1 1336.8,703.3 1337.7,703.4 1338.6,703.6 1339.5,703.8 1340.4,704.0 1341.3,704.1 1342.2,704.1 1343.1,704.2 1344.0,704.3 1344.9,704.4 1345.8,704.6 1346.7,704.8 1347.6,704.9 1348.5,705.0 1349.4,705.1 1350.3,705.2 1351.2,705.3 1352.1,705.6 1353.0,705.9 1353.9,706.1 1354.8,706.3 1355.7,706.3 1356.6,706.2 1357.5,706.3 1358.4,706.4 1359.3,706.4 1360.2,706.5 1361.1,706.5 1362.0,706.8 1362.9,707.2 1363.8,707.5 1364.7,707.8 1365.6,707.7 1366.5,707.6 1367.4,707.6 1368.3,707.6 1369.2,707.8 1370.1,707.9 1371.0,708.1 1371.9,708.1 1372.8,708.2 1373.7,708.2 1374.6,708.2 1375.5,708.3 1376.4,708.4 1377.3,708.6 1378.2,708.7 1379.1,708.8 1380.0,709.0 1380.9,709.2 1381.8,709.3 1382.7,709.4 1383.6,709.4 1384.5,709.5 1385.4,709.6 1386.3,709.7 1387.2,709.9 1388.1,710.0 1389.0,710.1 1389.9,710.2 1390.8,710.3 1391.7,710.4 1392.6,710.5 1393.5,710.5 1394.4,710.6 1395.3,710.6 1396.2,710.8 1397.1,711.0 1398.0,711.1 1398.9,711.3 1399.8,711.4 1400.7,711.5 1401.6,711.6 1402.5,711.7 1403.4,711.8 1404.3,711.8 1405.2,711.9 1406.1,712.0 1407.0,712.2 1407.9,712.3 1408.8,712.4 1409.7,712.5 1410.6,712.6 1411.5,712.7 1412.4,712.8 1413.3,712.9 1414.2,713.1 1415.1,713.2 1416.0,713.4 1416.9,713.4 1417.8,713.4 1418.7,713.5 1419.6,713.6 1420.5,713.8 1421.8,714.1"/>
</g>
<g stroke="#000" stroke-width="2.10" fill="none">
<line x1="233.00" y1="821.45" x2="233.00" y2="836.05"/>
<line x1="432.00" y1="821.45" x2="432.00" y2="836.05"/>
<line x1="631.00" y1="821.45" x2="631.00" y2="836.05"/>
<line x1="830.00" y1="821.45" x2="830.00" y2="836.05"/>
<line x1="1029.00" y1="821.45" x2="1029.00" y2="836.05"/>
<line x1="1228.00" y1="821.45" x2="1228.00" y2="836.05"/>
<line x1="1427.00" y1="821.45" x2="1427.00" y2="836.05"/>
<line x1="154.00" y1="685.00" x2="169.50" y2="685.00"/>
<line x1="154.00" y1="525.00" x2="169.50" y2="525.00"/>
<line x1="154.00" y1="366.00" x2="169.50" y2="366.00"/>
<line x1="154.00" y1="207.00" x2="169.50" y2="207.00"/>
<line x1="154.00" y1="48.00" x2="169.50" y2="48.00"/>
</g>
<rect x="169.50" y="5.35" width="1313.00" height="816.10" fill="none" stroke="#000" stroke-width="2.50"/>
<g class="t">
<text x="187.45" y="878.30" textLength="91.3" lengthAdjust="spacingAndGlyphs">17:08</text>
<text x="386.40" y="878.30" textLength="91.3" lengthAdjust="spacingAndGlyphs">17:13</text>
<text x="585.35" y="878.30" textLength="91.3" lengthAdjust="spacingAndGlyphs">17:18</text>
<text x="784.30" y="878.30" textLength="91.3" lengthAdjust="spacingAndGlyphs">17:23</text>
<text x="983.25" y="878.30" textLength="91.3" lengthAdjust="spacingAndGlyphs">17:28</text>
<text x="1182.20" y="878.30" textLength="91.3" lengthAdjust="spacingAndGlyphs">17:33</text>
<text x="1381.15" y="878.30" textLength="91.3" lengthAdjust="spacingAndGlyphs">17:38</text>
<text x="57.30" y="698.95" textLength="82.0" lengthAdjust="spacingAndGlyphs">1000</text>
<text x="57.30" y="539.66" textLength="82.0" lengthAdjust="spacingAndGlyphs">2000</text>
<text x="57.30" y="380.37" textLength="82.0" lengthAdjust="spacingAndGlyphs">3000</text>
<text x="57.30" y="221.08" textLength="82.0" lengthAdjust="spacingAndGlyphs">4000</text>
<text x="57.30" y="61.79" textLength="82.0" lengthAdjust="spacingAndGlyphs">5000</text>
<text x="709.30" y="928.70" textLength="231.6" lengthAdjust="spacingAndGlyphs">Times (UT+8)</text>
<text transform="translate(32.30,413.50) rotate(-90)" x="-84.00" textLength="166.4" lengthAdjust="spacingAndGlyphs">Data / mV</text>
</g>
<g class="d">
<path stroke="#1f77b4" d="M1520.7,42.90 H1579.2"/>
<path stroke="#aec7e8" d="M1520.7,85.49 H1579.2"/>
<path stroke="#ff7f0e" d="M1520.7,128.08 H1579.2"/>
<path stroke="#ffbb78" d="M1520.7,170.67 H1579.2"/>
<path stroke="#2ca02c" d="M1520.7,213.26 H1579.2"/>
<path stroke="#98df8a" d="M1520.7,255.85 H1579.2"/>
<path stroke="#d62728" d="M1520.7,298.44 H1579.2"/>
<path stroke="#ff9896" d="M1520.7,341.03 H1579.2"/>
<path stroke="#9467bd" d="M1520.7,383.62 H1579.2"/>
<path stroke="#c5b0d5" d="M1520.7,426.21 H1579.2"/>
<path stroke="#8c564b" d="M1520.7,468.80 H1579.2"/>
<path stroke="#c49c94" d="M1520.7,511.39 H1579.2"/>
<path stroke="#e377c2" d="M1520.7,553.98 H1579.2"/>
<path stroke="#f7b6d2" d="M1520.7,596.57 H1579.2"/>
<path stroke="#7f7f7f" d="M1520.7,639.16 H1579.2"/>
<path stroke="#c7c7c7" d="M1520.7,681.75 H1579.2"/>
<path stroke="#bcbd22" d="M1520.7,724.34 H1579.2"/>
<path stroke="#dbdb8d" d="M1520.7,766.93 H1579.2"/>
<path stroke="#17becf" d="M1520.7,809.52 H1579.2"/>
<path stroke="#9edae5" d="M1520.7,852.11 H1579.2"/>
</g>
<g class="l">
<text x="1602.90" y="53.60" textLength="227.00" lengthAdjust="spacingAndGlyphs">68.5-69.5 GHz_R</text>
<text x="1602.90" y="96.19" textLength="227.00" lengthAdjust="spacingAndGlyphs">66.5-67.5 GHz_R</text>
<text x="1602.90" y="138.78" textLength="227.00" lengthAdjust="spacingAndGlyphs">64.5-65.5 GHz_R</text>
<text x="1602.90" y="181.37" textLength="227.00" lengthAdjust="spacingAndGlyphs">62.5-63.5 GHz_R</text>
<text x="1602.90" y="223.96" textLength="227.00" lengthAdjust="spacingAndGlyphs">60.5-61.5 GHz_R</text>
<text x="1602.90" y="266.55" textLength="227.00" lengthAdjust="spacingAndGlyphs">58.5-59.5 GHz_R</text>
<text x="1602.90" y="309.14" textLength="227.00" lengthAdjust="spacingAndGlyphs">56.5-57.5 GHz_R</text>
<text x="1602.90" y="351.73" textLength="227.00" lengthAdjust="spacingAndGlyphs">54.5-55.5 GHz_R</text>
<text x="1602.90" y="394.32" textLength="227.00" lengthAdjust="spacingAndGlyphs">52.5-53.5 GHz_R</text>
<text x="1602.90" y="436.91" textLength="227.00" lengthAdjust="spacingAndGlyphs">50.5-51.5 GHz_R</text>
<text x="1602.90" y="479.50" textLength="222.15" lengthAdjust="spacingAndGlyphs">68.5-69.5 GHz_L</text>
<text x="1602.90" y="522.09" textLength="222.15" lengthAdjust="spacingAndGlyphs">66.5-67.5 GHz_L</text>
<text x="1602.90" y="564.68" textLength="222.15" lengthAdjust="spacingAndGlyphs">64.5-65.5 GHz_L</text>
<text x="1602.90" y="607.27" textLength="222.15" lengthAdjust="spacingAndGlyphs">62.5-63.5 GHz_L</text>
<text x="1602.90" y="649.86" textLength="222.15" lengthAdjust="spacingAndGlyphs">60.5-61.5 GHz_L</text>
<text x="1602.90" y="692.45" textLength="222.15" lengthAdjust="spacingAndGlyphs">58.5-59.5 GHz_L</text>
<text x="1602.90" y="735.04" textLength="222.15" lengthAdjust="spacingAndGlyphs">56.5-57.5 GHz_L</text>
<text x="1602.90" y="777.63" textLength="222.15" lengthAdjust="spacingAndGlyphs">54.5-55.5 GHz_L</text>
<text x="1602.90" y="820.22" textLength="222.15" lengthAdjust="spacingAndGlyphs">52.5-53.5 GHz_L</text>
<text x="1602.90" y="862.81" textLength="222.15" lengthAdjust="spacingAndGlyphs">50.5-51.5 GHz_L</text>
</g>
</svg></body></html>
